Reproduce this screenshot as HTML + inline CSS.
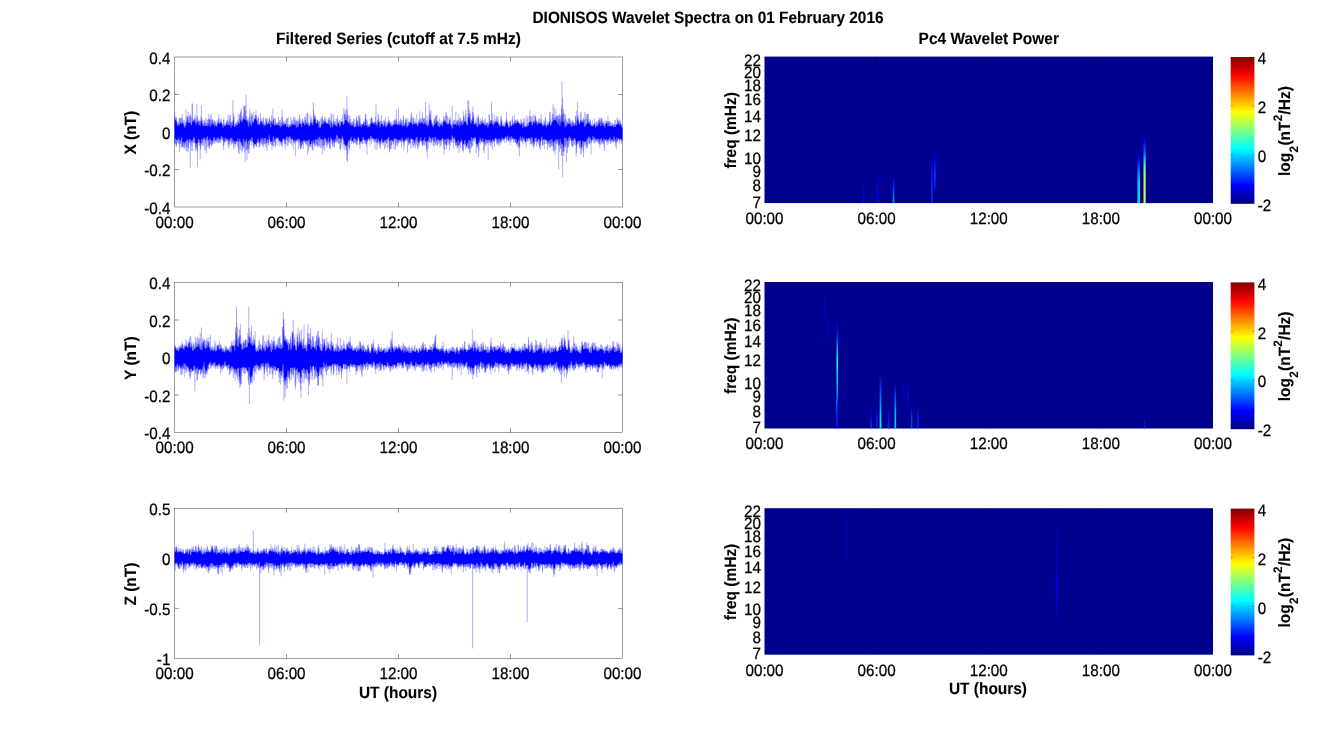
<!DOCTYPE html>
<html><head><meta charset="utf-8"><title>DIONISOS Wavelet Spectra</title>
<style>html,body{margin:0;padding:0;background:#fff}svg{display:block}text{font-family:"Liberation Sans", Arial, Helvetica, sans-serif;fill:#000;stroke:#000;stroke-width:0.25px;text-rendering:geometricPrecision}text[font-weight=bold]{stroke-width:0.1px}</style>
</head><body>
<svg width="1339" height="754" viewBox="0 0 1339 754">
<defs><linearGradient id="jet" x1="0" y1="0" x2="0" y2="1"><stop offset="0.0000" stop-color="#800000"/><stop offset="0.0156" stop-color="#8f0000"/><stop offset="0.0312" stop-color="#9f0000"/><stop offset="0.0469" stop-color="#af0000"/><stop offset="0.0625" stop-color="#bf0000"/><stop offset="0.0781" stop-color="#cf0000"/><stop offset="0.0938" stop-color="#df0000"/><stop offset="0.1094" stop-color="#ef0000"/><stop offset="0.1250" stop-color="#ff0000"/><stop offset="0.1406" stop-color="#ff1000"/><stop offset="0.1562" stop-color="#ff2000"/><stop offset="0.1719" stop-color="#ff3000"/><stop offset="0.1875" stop-color="#ff4000"/><stop offset="0.2031" stop-color="#ff5000"/><stop offset="0.2188" stop-color="#ff6000"/><stop offset="0.2344" stop-color="#ff7000"/><stop offset="0.2500" stop-color="#ff8000"/><stop offset="0.2656" stop-color="#ff8f00"/><stop offset="0.2812" stop-color="#ff9f00"/><stop offset="0.2969" stop-color="#ffaf00"/><stop offset="0.3125" stop-color="#ffbf00"/><stop offset="0.3281" stop-color="#ffcf00"/><stop offset="0.3438" stop-color="#ffdf00"/><stop offset="0.3594" stop-color="#ffef00"/><stop offset="0.3750" stop-color="#ffff00"/><stop offset="0.3906" stop-color="#efff10"/><stop offset="0.4062" stop-color="#dfff20"/><stop offset="0.4219" stop-color="#cfff30"/><stop offset="0.4375" stop-color="#bfff40"/><stop offset="0.4531" stop-color="#afff50"/><stop offset="0.4688" stop-color="#9fff60"/><stop offset="0.4844" stop-color="#8fff70"/><stop offset="0.5000" stop-color="#80ff80"/><stop offset="0.5156" stop-color="#70ff8f"/><stop offset="0.5312" stop-color="#60ff9f"/><stop offset="0.5469" stop-color="#50ffaf"/><stop offset="0.5625" stop-color="#40ffbf"/><stop offset="0.5781" stop-color="#30ffcf"/><stop offset="0.5938" stop-color="#20ffdf"/><stop offset="0.6094" stop-color="#10ffef"/><stop offset="0.6250" stop-color="#00ffff"/><stop offset="0.6406" stop-color="#00efff"/><stop offset="0.6562" stop-color="#00dfff"/><stop offset="0.6719" stop-color="#00cfff"/><stop offset="0.6875" stop-color="#00bfff"/><stop offset="0.7031" stop-color="#00afff"/><stop offset="0.7188" stop-color="#009fff"/><stop offset="0.7344" stop-color="#008fff"/><stop offset="0.7500" stop-color="#0080ff"/><stop offset="0.7656" stop-color="#0070ff"/><stop offset="0.7812" stop-color="#0060ff"/><stop offset="0.7969" stop-color="#0050ff"/><stop offset="0.8125" stop-color="#0040ff"/><stop offset="0.8281" stop-color="#0030ff"/><stop offset="0.8438" stop-color="#0020ff"/><stop offset="0.8594" stop-color="#0010ff"/><stop offset="0.8750" stop-color="#0000ff"/><stop offset="0.8906" stop-color="#0000ef"/><stop offset="0.9062" stop-color="#0000df"/><stop offset="0.9219" stop-color="#0000cf"/><stop offset="0.9375" stop-color="#0000bf"/><stop offset="0.9531" stop-color="#0000af"/><stop offset="0.9688" stop-color="#00009f"/><stop offset="0.9844" stop-color="#00008f"/><stop offset="1.0000" stop-color="#000080"/></linearGradient><filter id="b" x="-300%" y="-5%" width="700%" height="110%"><feGaussianBlur stdDeviation="0.55 0.8"/></filter><linearGradient id="g1" x1="0" y1="0" x2="0" y2="1"><stop offset="0.000" stop-color="#000080" stop-opacity="0"/><stop offset="0.250" stop-color="#0008ff"/><stop offset="0.450" stop-color="#0080ff"/><stop offset="0.600" stop-color="#00c3ff"/><stop offset="1.000" stop-color="#00e6ff"/></linearGradient><linearGradient id="g2" x1="0" y1="0" x2="0" y2="1"><stop offset="0.000" stop-color="#000080" stop-opacity="0"/><stop offset="0.100" stop-color="#0000e6"/><stop offset="0.250" stop-color="#004cff"/><stop offset="0.380" stop-color="#00d4ff"/><stop offset="0.500" stop-color="#6eff90"/><stop offset="0.600" stop-color="#b2ff4d"/><stop offset="1.000" stop-color="#c3ff3c"/></linearGradient><linearGradient id="g3" x1="0" y1="0" x2="0" y2="1"><stop offset="0.000" stop-color="#000080" stop-opacity="0"/><stop offset="0.300" stop-color="#0000f6"/><stop offset="0.700" stop-color="#002aff"/><stop offset="1.000" stop-color="#0019ff"/></linearGradient><linearGradient id="g4" x1="0" y1="0" x2="0" y2="1"><stop offset="0.000" stop-color="#000080" stop-opacity="0"/><stop offset="0.300" stop-color="#0000f6"/><stop offset="0.600" stop-color="#003cff"/><stop offset="0.850" stop-color="#0019ff"/><stop offset="1.000" stop-color="#000080" stop-opacity="0"/></linearGradient><linearGradient id="g5" x1="0" y1="0" x2="0" y2="1"><stop offset="0.000" stop-color="#000080" stop-opacity="0"/><stop offset="0.500" stop-color="#0000b3"/><stop offset="1.000" stop-color="#000080" stop-opacity="0"/></linearGradient><linearGradient id="g6" x1="0" y1="0" x2="0" y2="1"><stop offset="0.000" stop-color="#000080" stop-opacity="0"/><stop offset="0.400" stop-color="#0019ff"/><stop offset="0.800" stop-color="#0080ff"/><stop offset="1.000" stop-color="#0090ff"/></linearGradient><linearGradient id="g7" x1="0" y1="0" x2="0" y2="1"><stop offset="0.000" stop-color="#000080" stop-opacity="0"/><stop offset="0.500" stop-color="#0000f6"/><stop offset="1.000" stop-color="#0008ff"/></linearGradient><linearGradient id="g8" x1="0" y1="0" x2="0" y2="1"><stop offset="0.000" stop-color="#000080" stop-opacity="0"/><stop offset="0.500" stop-color="#0000bb"/><stop offset="1.000" stop-color="#000080" stop-opacity="0"/></linearGradient><linearGradient id="g9" x1="0" y1="0" x2="0" y2="1"><stop offset="0.000" stop-color="#000080" stop-opacity="0"/><stop offset="0.500" stop-color="#0000d4"/><stop offset="1.000" stop-color="#0000f6"/></linearGradient><linearGradient id="g10" x1="0" y1="0" x2="0" y2="1"><stop offset="0.000" stop-color="#000080" stop-opacity="0"/><stop offset="1.000" stop-color="#0000d4"/></linearGradient><linearGradient id="g11" x1="0" y1="0" x2="0" y2="1"><stop offset="0.000" stop-color="#000080" stop-opacity="0"/><stop offset="1.000" stop-color="#0000aa"/></linearGradient><linearGradient id="g12" x1="0" y1="0" x2="0" y2="1"><stop offset="0.000" stop-color="#000080" stop-opacity="0"/><stop offset="0.500" stop-color="#0000aa"/><stop offset="1.000" stop-color="#000080" stop-opacity="0"/></linearGradient><linearGradient id="g13" x1="0" y1="0" x2="0" y2="1"><stop offset="0.000" stop-color="#000080" stop-opacity="0"/><stop offset="0.500" stop-color="#0000a2"/><stop offset="1.000" stop-color="#000080" stop-opacity="0"/></linearGradient><clipPath id="clip0"><rect x="764.5" y="56.6" width="448.5" height="146.5"/></clipPath><linearGradient id="g14" x1="0" y1="0" x2="0" y2="1"><stop offset="0.000" stop-color="#000080" stop-opacity="0"/><stop offset="0.250" stop-color="#002aff"/><stop offset="0.450" stop-color="#00d4ff"/><stop offset="0.560" stop-color="#19ffe6"/><stop offset="0.700" stop-color="#00d4ff"/><stop offset="1.000" stop-color="#006eff"/></linearGradient><linearGradient id="g15" x1="0" y1="0" x2="0" y2="1"><stop offset="0.000" stop-color="#006eff"/><stop offset="0.500" stop-color="#002aff"/><stop offset="1.000" stop-color="#0008ff"/></linearGradient><linearGradient id="g16" x1="0" y1="0" x2="0" y2="1"><stop offset="0.000" stop-color="#000080" stop-opacity="0"/><stop offset="0.300" stop-color="#0000c3"/><stop offset="1.000" stop-color="#0000bb"/></linearGradient><linearGradient id="g17" x1="0" y1="0" x2="0" y2="1"><stop offset="0.000" stop-color="#0000bb"/><stop offset="0.600" stop-color="#0000b3"/><stop offset="1.000" stop-color="#000080" stop-opacity="0"/></linearGradient><linearGradient id="g18" x1="0" y1="0" x2="0" y2="1"><stop offset="0.000" stop-color="#000080" stop-opacity="0"/><stop offset="0.500" stop-color="#0000a2"/><stop offset="1.000" stop-color="#000080" stop-opacity="0"/></linearGradient><linearGradient id="g19" x1="0" y1="0" x2="0" y2="1"><stop offset="0.000" stop-color="#000080" stop-opacity="0"/><stop offset="0.500" stop-color="#0000aa"/><stop offset="1.000" stop-color="#000080" stop-opacity="0"/></linearGradient><linearGradient id="g20" x1="0" y1="0" x2="0" y2="1"><stop offset="0.000" stop-color="#000080" stop-opacity="0"/><stop offset="0.500" stop-color="#0000aa"/><stop offset="1.000" stop-color="#000080" stop-opacity="0"/></linearGradient><linearGradient id="g21" x1="0" y1="0" x2="0" y2="1"><stop offset="0.000" stop-color="#000080" stop-opacity="0"/><stop offset="0.500" stop-color="#0008ff"/><stop offset="1.000" stop-color="#003cff"/></linearGradient><linearGradient id="g22" x1="0" y1="0" x2="0" y2="1"><stop offset="0.000" stop-color="#000080" stop-opacity="0"/><stop offset="0.500" stop-color="#0008ff"/><stop offset="1.000" stop-color="#003cff"/></linearGradient><linearGradient id="g23" x1="0" y1="0" x2="0" y2="1"><stop offset="0.000" stop-color="#000080" stop-opacity="0"/><stop offset="0.300" stop-color="#002aff"/><stop offset="0.600" stop-color="#0090ff"/><stop offset="0.850" stop-color="#00e6ff"/><stop offset="1.000" stop-color="#00f7ff"/></linearGradient><linearGradient id="g24" x1="0" y1="0" x2="0" y2="1"><stop offset="0.000" stop-color="#000080" stop-opacity="0"/><stop offset="0.500" stop-color="#0008ff"/><stop offset="1.000" stop-color="#002aff"/></linearGradient><linearGradient id="g25" x1="0" y1="0" x2="0" y2="1"><stop offset="0.000" stop-color="#000080" stop-opacity="0"/><stop offset="0.350" stop-color="#003cff"/><stop offset="0.700" stop-color="#00b2ff"/><stop offset="1.000" stop-color="#00d4ff"/></linearGradient><linearGradient id="g26" x1="0" y1="0" x2="0" y2="1"><stop offset="0.000" stop-color="#000080" stop-opacity="0"/><stop offset="0.500" stop-color="#0000dd"/><stop offset="1.000" stop-color="#000080" stop-opacity="0"/></linearGradient><linearGradient id="g27" x1="0" y1="0" x2="0" y2="1"><stop offset="0.000" stop-color="#000080" stop-opacity="0"/><stop offset="0.500" stop-color="#0000ff"/><stop offset="1.000" stop-color="#000080" stop-opacity="0"/></linearGradient><linearGradient id="g28" x1="0" y1="0" x2="0" y2="1"><stop offset="0.000" stop-color="#000080" stop-opacity="0"/><stop offset="0.500" stop-color="#002aff"/><stop offset="1.000" stop-color="#004cff"/></linearGradient><linearGradient id="g29" x1="0" y1="0" x2="0" y2="1"><stop offset="0.000" stop-color="#000080" stop-opacity="0"/><stop offset="0.500" stop-color="#0019ff"/><stop offset="1.000" stop-color="#002aff"/></linearGradient><linearGradient id="g30" x1="0" y1="0" x2="0" y2="1"><stop offset="0.000" stop-color="#000080" stop-opacity="0"/><stop offset="1.000" stop-color="#002aff"/></linearGradient><linearGradient id="g31" x1="0" y1="0" x2="0" y2="1"><stop offset="0.000" stop-color="#000080" stop-opacity="0"/><stop offset="0.500" stop-color="#0000a2"/><stop offset="1.000" stop-color="#000080" stop-opacity="0"/></linearGradient><clipPath id="clip1"><rect x="764.5" y="282.0" width="448.5" height="146.5"/></clipPath><linearGradient id="g32" x1="0" y1="0" x2="0" y2="1"><stop offset="0.000" stop-color="#0000aa"/><stop offset="0.500" stop-color="#0000b3"/><stop offset="1.000" stop-color="#000080" stop-opacity="0"/></linearGradient><linearGradient id="g33" x1="0" y1="0" x2="0" y2="1"><stop offset="0.000" stop-color="#000099"/><stop offset="0.400" stop-color="#0000c3"/><stop offset="0.650" stop-color="#0000ff"/><stop offset="0.850" stop-color="#0000d4"/><stop offset="1.000" stop-color="#000080" stop-opacity="0"/></linearGradient><clipPath id="clip2"><rect x="764.5" y="508.2" width="448.5" height="146.5"/></clipPath></defs>
<rect width="1339" height="754" fill="#fff"/>
<text transform="translate(708.00 22.70) scale(0.939 1)" text-anchor="middle" font-size="16.4" font-weight="bold">DIONISOS Wavelet Spectra on 01 February 2016</text>
<rect x="174.55" y="57.0" width="447.90000000000003" height="150.0" fill="none" stroke="#000" stroke-width="0.38"/>
<path d="M286.53 207.0v-4.3M286.53 57.0v4.3M398.50 207.0v-4.3M398.50 57.0v4.3M510.48 207.0v-4.3M510.48 57.0v4.3M174.55 94.50h4.3M622.45 94.50h-4.3M174.55 132.00h4.3M622.45 132.00h-4.3M174.55 169.50h4.3M622.45 169.50h-4.3" fill="none" stroke="#000" stroke-width="0.42"/>
<path d="M174.9 119.2L174.7 119.2L175.0 119.8L175.3 119.8L175.6 121.0L175.9 121.0L176.2 121.0L176.5 123.7L176.8 123.7L177.1 126.2L177.4 126.2L177.7 126.2L178.0 126.2L178.3 126.2L178.6 124.6L178.9 124.9L179.2 124.9L179.5 124.9L179.8 124.9L180.1 124.9L180.4 122.4L180.7 122.4L181.0 123.8L181.3 123.8L181.6 123.8L181.9 123.8L182.2 123.8L182.5 123.3L182.8 123.3L183.1 123.8L183.4 124.3L183.7 126.7L184.0 126.7L184.3 127.7L184.6 127.7L184.9 127.7L185.2 127.7L185.5 127.7L185.8 125.5L186.1 125.5L186.4 125.5L186.7 122.4L187.0 122.4L187.3 122.4L187.6 122.4L187.9 119.4L188.2 123.2L188.5 123.2L188.8 123.2L189.1 123.2L189.4 123.2L189.7 123.1L190.0 122.6L190.3 122.6L190.6 124.3L190.9 125.2L191.2 125.2L191.5 125.2L191.8 125.2L192.1 125.2L192.4 121.7L192.7 121.7L193.0 121.7L193.3 121.7L193.6 121.7L193.9 120.2L194.2 121.8L194.5 121.8L194.8 121.8L195.1 121.8L195.4 124.7L195.7 124.7L196.0 124.7L196.3 124.7L196.6 124.7L196.9 122.5L197.2 122.5L197.5 122.5L197.8 122.5L198.1 121.9L198.4 124.9L198.7 124.9L199.0 124.9L199.3 124.9L199.6 125.7L199.9 125.7L200.2 125.7L200.5 125.7L200.8 125.7L201.1 121.6L201.4 121.6L201.7 121.6L202.0 124.0L202.3 124.0L202.6 126.2L202.9 126.2L203.2 126.2L203.5 126.2L203.8 126.2L204.1 125.7L204.4 125.7L204.7 125.7L205.0 125.7L205.3 125.7L205.6 126.1L205.9 126.1L206.2 126.1L206.5 126.1L206.8 126.1L207.1 125.8L207.4 126.3L207.7 126.3L208.0 126.3L208.3 126.3L208.6 126.3L208.9 123.2L209.2 123.2L209.5 126.9L209.8 126.9L210.1 126.9L210.4 126.9L210.7 126.9L211.0 124.2L211.3 124.8L211.6 124.8L211.9 124.8L212.2 124.8L212.5 124.8L212.8 123.9L213.1 123.9L213.4 123.9L213.7 125.9L214.0 125.9L214.3 125.9L214.6 125.9L214.9 125.9L215.2 125.7L215.5 125.7L215.8 125.7L216.1 126.7L216.4 126.7L216.7 126.7L217.0 126.7L217.3 126.7L217.6 124.5L217.9 124.5L218.2 124.5L218.5 123.1L218.8 122.9L219.1 123.9L219.4 123.9L219.7 123.9L220.0 123.9L220.3 123.9L220.6 122.7L220.9 123.0L221.2 123.0L221.5 123.0L221.8 124.7L222.1 124.7L222.4 127.8L222.7 127.8L223.0 127.8L223.3 127.8L223.6 127.8L223.9 125.6L224.2 125.6L224.5 125.6L224.8 126.3L225.1 126.3L225.4 126.3L225.7 126.3L226.0 126.3L226.3 124.2L226.6 124.3L226.9 124.3L227.2 124.8L227.5 124.8L227.8 125.0L228.1 125.0L228.4 125.0L228.7 125.3L229.0 125.3L229.3 125.3L229.6 125.3L229.9 125.3L230.2 123.8L230.5 127.7L230.8 127.7L231.1 127.7L231.4 127.7L231.7 127.7L232.0 125.5L232.3 125.5L232.6 125.5L232.9 125.5L233.2 122.6L233.5 120.2L233.8 126.8L234.1 126.8L234.4 127.0L234.7 127.0L235.0 127.0L235.3 127.0L235.6 127.0L235.9 125.1L236.2 125.1L236.5 125.8L236.8 125.8L237.1 125.8L237.4 125.8L237.7 125.8L238.0 123.8L238.3 122.4L238.6 124.1L238.9 124.1L239.2 124.1L239.5 124.1L239.8 124.1L240.1 120.7L240.4 120.7L240.7 120.7L241.0 120.7L241.3 122.4L241.6 122.4L241.9 122.4L242.2 122.4L242.5 122.4L242.8 120.4L243.1 120.0L243.4 119.1L243.7 119.1L244.0 118.3L244.3 119.7L244.6 119.7L244.9 119.7L245.2 119.7L245.5 119.7L245.8 120.3L246.1 120.3L246.4 121.4L246.7 121.4L247.0 121.4L247.3 122.6L247.6 122.6L247.9 126.4L248.2 126.4L248.5 126.4L248.8 126.4L249.1 126.4L249.4 123.8L249.7 123.8L250.0 123.8L250.3 123.8L250.6 123.8L250.9 125.7L251.2 125.7L251.5 125.7L251.8 125.7L252.1 125.7L252.4 122.5L252.7 122.8L253.0 122.8L253.3 122.8L253.6 122.8L253.9 122.8L254.2 121.2L254.5 119.6L254.8 119.6L255.1 119.6L255.4 119.6L255.7 118.3L256.0 120.1L256.3 120.1L256.6 121.6L256.9 121.6L257.2 124.1L257.5 124.5L257.8 124.5L258.1 124.5L258.4 124.5L258.7 124.9L259.0 124.9L259.3 124.9L259.6 124.9L259.9 124.9L260.2 124.6L260.5 122.5L260.8 121.6L261.1 121.6L261.4 122.1L261.7 124.4L262.0 124.4L262.3 124.4L262.6 124.4L262.9 124.4L263.2 124.1L263.5 126.4L263.8 126.4L264.1 126.4L264.4 126.4L264.7 126.4L265.0 125.5L265.3 125.5L265.6 125.5L265.9 125.5L266.2 125.5L266.5 121.5L266.8 124.5L267.1 124.6L267.4 124.6L267.7 124.6L268.0 124.6L268.3 124.6L268.6 123.0L268.9 123.9L269.2 123.9L269.5 123.9L269.8 123.9L270.1 126.9L270.4 126.9L270.7 126.9L271.0 126.9L271.3 126.9L271.6 121.8L271.9 124.1L272.2 124.1L272.5 124.1L272.8 124.1L273.1 124.1L273.4 120.2L273.7 125.8L274.0 125.8L274.3 125.8L274.6 125.8L274.9 125.8L275.2 125.3L275.5 125.3L275.8 125.3L276.1 125.0L276.4 125.0L276.7 125.0L277.0 125.1L277.3 125.1L277.6 125.1L277.9 125.1L278.2 125.6L278.5 125.6L278.8 125.6L279.1 125.6L279.4 125.6L279.7 127.2L280.0 127.2L280.3 127.2L280.6 127.2L280.9 127.2L281.2 125.9L281.5 125.9L281.8 125.9L282.1 125.9L282.4 124.2L282.7 124.2L283.0 124.2L283.3 125.6L283.6 125.6L283.9 125.6L284.2 125.6L284.5 125.6L284.8 124.0L285.1 124.0L285.4 123.9L285.7 123.9L286.0 127.0L286.3 127.0L286.6 127.0L286.9 127.0L287.2 127.0L287.5 126.2L287.8 126.9L288.1 126.9L288.4 127.8L288.7 127.8L289.0 127.8L289.3 127.8L289.6 127.8L289.9 127.1L290.2 125.9L290.5 126.3L290.8 126.3L291.1 126.3L291.4 126.3L291.7 126.3L292.0 124.1L292.3 124.6L292.6 124.6L292.9 124.6L293.2 124.6L293.5 125.0L293.8 125.0L294.1 125.0L294.4 125.0L294.7 125.2L295.0 125.2L295.3 125.2L295.6 125.2L295.9 127.4L296.2 127.4L296.5 127.4L296.8 127.4L297.1 127.4L297.4 127.4L297.7 127.4L298.0 127.4L298.3 127.4L298.6 125.4L298.9 125.4L299.2 123.9L299.5 123.9L299.8 124.0L300.1 124.0L300.4 124.0L300.7 124.0L301.0 126.9L301.3 126.9L301.6 126.9L301.9 126.9L302.2 126.9L302.5 124.0L302.8 123.1L303.1 123.1L303.4 123.2L303.7 124.6L304.0 124.6L304.3 125.5L304.6 125.5L304.9 125.5L305.2 125.5L305.5 125.5L305.8 122.9L306.1 122.9L306.4 124.1L306.7 124.5L307.0 124.5L307.3 124.5L307.6 124.5L307.9 124.5L308.2 125.9L308.5 125.9L308.8 125.9L309.1 125.9L309.4 125.9L309.7 125.9L310.0 125.9L310.3 125.9L310.6 123.6L310.9 122.5L311.2 122.5L311.5 124.3L311.8 124.3L312.1 124.9L312.4 124.9L312.7 124.9L313.0 124.9L313.3 124.9L313.6 121.8L313.9 119.4L314.2 119.4L314.5 119.4L314.8 119.1L315.1 119.1L315.4 122.6L315.7 123.8L316.0 123.8L316.3 123.8L316.6 123.8L316.9 123.8L317.2 123.2L317.5 121.7L317.8 121.7L318.1 123.5L318.4 127.3L318.7 127.3L319.0 127.3L319.3 128.3L319.6 128.3L319.9 128.3L320.2 128.3L320.5 128.3L320.8 127.3L321.1 127.3L321.4 126.2L321.7 125.1L322.0 123.5L322.3 123.5L322.6 124.2L322.9 124.2L323.2 124.2L323.5 124.2L323.8 124.2L324.1 122.6L324.4 122.6L324.7 121.9L325.0 121.9L325.3 121.9L325.6 123.1L325.9 123.1L326.2 123.2L326.5 123.9L326.8 123.9L327.1 123.9L327.4 123.9L327.7 123.9L328.0 123.4L328.3 123.4L328.6 124.6L328.9 124.6L329.2 124.6L329.5 124.6L329.8 127.4L330.1 127.4L330.4 127.4L330.7 127.4L331.0 127.4L331.3 122.2L331.6 123.4L331.9 127.6L332.2 127.6L332.5 127.6L332.8 127.6L333.1 127.6L333.4 124.9L333.7 123.7L334.0 124.0L334.3 124.0L334.6 125.5L334.9 125.5L335.2 125.5L335.5 125.5L335.8 126.2L336.1 126.2L336.4 126.2L336.7 126.2L337.0 126.2L337.3 126.2L337.6 123.9L337.9 123.9L338.2 123.6L338.5 123.6L338.8 123.6L339.1 126.7L339.4 126.7L339.7 126.7L340.0 126.7L340.3 126.7L340.6 125.1L340.9 125.1L341.2 125.1L341.5 122.0L341.8 122.1L342.1 122.1L342.4 122.1L342.7 125.1L343.0 125.1L343.3 125.1L343.6 125.1L343.9 125.1L344.2 124.0L344.5 122.9L344.8 122.9L345.1 120.1L345.4 120.1L345.7 120.1L346.0 120.9L346.3 120.9L346.6 120.9L346.9 120.9L347.2 121.3L347.5 123.5L347.8 123.5L348.1 123.5L348.4 123.5L348.7 123.5L349.0 122.5L349.3 122.5L349.6 125.6L349.9 125.6L350.2 125.6L350.5 125.6L350.8 125.6L351.1 125.4L351.4 125.4L351.7 126.2L352.0 126.2L352.3 126.2L352.6 126.2L352.9 126.2L353.2 124.8L353.5 124.8L353.8 127.5L354.1 127.5L354.4 127.5L354.7 127.5L355.0 127.5L355.3 126.9L355.6 126.8L355.9 126.8L356.2 126.8L356.5 125.7L356.8 121.9L357.1 121.9L357.4 125.1L357.7 126.8L358.0 126.8L358.3 126.8L358.6 126.8L358.9 126.8L359.2 126.3L359.5 126.3L359.8 122.8L360.1 125.3L360.4 127.2L360.7 127.2L361.0 127.2L361.3 127.2L361.6 127.2L361.9 124.9L362.2 124.9L362.5 124.7L362.8 124.6L363.1 124.6L363.4 124.6L363.7 124.4L364.0 126.1L364.3 126.1L364.6 126.1L364.9 126.1L365.2 126.1L365.5 120.2L365.8 125.3L366.1 125.4L366.4 125.4L366.7 125.4L367.0 125.4L367.3 127.3L367.6 127.3L367.9 127.3L368.2 127.3L368.5 127.3L368.8 126.9L369.1 126.9L369.4 126.9L369.7 126.9L370.0 126.9L370.3 124.6L370.6 124.6L370.9 123.8L371.2 123.8L371.5 122.5L371.8 121.9L372.1 122.1L372.4 123.9L372.7 123.9L373.0 123.9L373.3 123.9L373.6 123.9L373.9 123.1L374.2 124.7L374.5 124.7L374.8 124.7L375.1 124.7L375.4 124.7L375.7 122.6L376.0 124.0L376.3 124.6L376.6 126.3L376.9 126.3L377.2 126.3L377.5 126.3L377.8 126.3L378.1 122.2L378.4 122.2L378.7 122.3L379.0 122.3L379.3 127.2L379.6 127.2L379.9 127.2L380.2 127.2L380.5 127.2L380.8 125.9L381.1 124.0L381.4 124.0L381.7 124.0L382.0 124.2L382.3 124.2L382.6 125.8L382.9 126.4L383.2 126.4L383.5 126.4L383.8 126.4L384.1 126.4L384.4 124.3L384.7 124.3L385.0 125.2L385.3 126.9L385.6 126.9L385.9 126.9L386.2 126.9L386.5 126.9L386.8 126.5L387.1 126.2L387.4 126.2L387.7 124.8L388.0 124.8L388.3 124.8L388.6 122.7L388.9 122.7L389.2 122.7L389.5 122.9L389.8 124.2L390.1 124.2L390.4 126.4L390.7 126.4L391.0 126.4L391.3 126.4L391.6 126.4L391.9 126.4L392.2 126.4L392.5 126.4L392.8 126.4L393.1 125.5L393.4 125.5L393.7 124.8L394.0 124.7L394.3 124.4L394.6 124.4L394.9 124.4L395.2 124.4L395.5 124.4L395.8 123.7L396.1 123.7L396.4 124.2L396.7 124.9L397.0 124.9L397.3 124.9L397.6 124.9L397.9 124.9L398.2 124.8L398.5 125.4L398.8 125.4L399.1 125.4L399.4 125.4L399.7 125.4L400.0 124.0L400.3 124.0L400.6 125.0L400.9 125.0L401.2 125.0L401.5 125.0L401.8 125.1L402.1 126.5L402.4 126.5L402.7 126.5L403.0 126.5L403.3 126.5L403.6 125.0L403.9 126.3L404.2 126.3L404.5 126.3L404.8 126.3L405.1 126.3L405.4 123.4L405.7 123.4L406.0 122.8L406.3 127.5L406.6 127.5L406.9 127.5L407.2 127.5L407.5 127.5L407.8 126.5L408.1 125.8L408.4 125.8L408.7 125.8L409.0 125.8L409.3 123.7L409.6 123.7L409.9 123.7L410.2 122.8L410.5 122.8L410.8 122.8L411.1 123.1L411.4 123.1L411.7 123.1L412.0 125.0L412.3 125.0L412.6 125.0L412.9 125.0L413.2 125.0L413.5 123.9L413.8 123.9L414.1 123.9L414.4 123.9L414.7 123.3L415.0 123.8L415.3 123.8L415.6 124.8L415.9 124.8L416.2 124.8L416.5 124.8L416.8 124.8L417.1 126.5L417.4 126.5L417.7 126.5L418.0 126.5L418.3 126.5L418.6 123.8L418.9 123.8L419.2 123.8L419.5 123.8L419.8 123.5L420.1 123.5L420.4 123.5L420.7 123.5L421.0 123.5L421.3 122.7L421.6 122.7L421.9 122.7L422.2 123.5L422.5 123.5L422.8 123.5L423.1 124.4L423.4 124.4L423.7 124.4L424.0 124.4L424.3 124.4L424.6 122.4L424.9 122.4L425.2 124.2L425.5 124.5L425.8 124.5L426.1 124.5L426.4 124.5L426.7 125.6L427.0 126.3L427.3 126.3L427.6 126.3L427.9 126.3L428.2 126.3L428.5 125.4L428.8 125.4L429.1 125.4L429.4 122.6L429.7 119.4L430.0 119.4L430.3 119.4L430.6 120.6L430.9 120.7L431.2 123.6L431.5 123.6L431.8 124.9L432.1 124.9L432.4 127.1L432.7 127.1L433.0 127.1L433.3 127.1L433.6 127.1L433.9 125.5L434.2 125.5L434.5 125.0L434.8 124.2L435.1 124.2L435.4 124.2L435.7 124.2L436.0 122.2L436.3 122.2L436.6 122.2L436.9 122.2L437.2 122.7L437.5 125.9L437.8 125.9L438.1 125.9L438.4 125.9L438.7 125.9L439.0 127.2L439.3 127.2L439.6 127.2L439.9 127.2L440.2 127.2L440.5 125.0L440.8 125.0L441.1 125.0L441.4 125.0L441.7 126.2L442.0 126.2L442.3 126.2L442.6 126.2L442.9 126.2L443.2 123.5L443.5 121.7L443.8 121.7L444.1 121.7L444.4 121.7L444.7 121.7L445.0 121.5L445.3 121.5L445.6 121.5L445.9 123.7L446.2 123.7L446.5 123.7L446.8 123.7L447.1 124.4L447.4 124.4L447.7 124.5L448.0 124.5L448.3 124.5L448.6 124.5L448.9 124.5L449.2 123.6L449.5 121.9L449.8 124.2L450.1 124.2L450.4 124.9L450.7 125.6L451.0 125.6L451.3 126.6L451.6 126.6L451.9 128.4L452.2 128.4L452.5 128.4L452.8 128.4L453.1 128.4L453.4 124.2L453.7 124.2L454.0 124.7L454.3 124.7L454.6 124.7L454.9 124.7L455.2 124.7L455.5 124.5L455.8 124.5L456.1 125.5L456.4 125.5L456.7 125.5L457.0 125.5L457.3 125.5L457.6 122.6L457.9 124.6L458.2 124.6L458.5 126.5L458.8 126.5L459.1 126.5L459.4 126.5L459.7 126.5L460.0 121.6L460.3 125.6L460.6 125.6L460.9 125.6L461.2 125.6L461.5 125.6L461.8 122.0L462.1 125.1L462.4 125.1L462.7 125.1L463.0 125.1L463.3 125.1L463.6 123.2L463.9 122.2L464.2 122.2L464.5 122.2L464.8 122.2L465.1 121.5L465.4 121.1L465.7 122.2L466.0 123.3L466.3 125.1L466.6 125.1L466.9 125.3L467.2 125.3L467.5 125.3L467.8 125.3L468.1 125.3L468.4 117.0L468.7 117.5L469.0 117.5L469.3 117.5L469.6 117.5L469.9 122.0L470.2 122.0L470.5 124.0L470.8 124.0L471.1 124.0L471.4 124.0L471.7 124.0L472.0 121.5L472.3 121.5L472.6 121.5L472.9 117.5L473.2 117.5L473.5 124.5L473.8 124.5L474.1 124.5L474.4 124.5L474.7 124.5L475.0 124.0L475.3 124.2L475.6 124.2L475.9 124.2L476.2 125.9L476.5 125.9L476.8 125.9L477.1 126.9L477.4 126.9L477.7 126.9L478.0 126.9L478.3 126.9L478.6 123.9L478.9 124.2L479.2 124.2L479.5 125.6L479.8 125.6L480.1 125.6L480.4 125.6L480.7 125.6L481.0 123.4L481.3 124.0L481.6 124.0L481.9 124.0L482.2 124.0L482.5 124.0L482.8 123.1L483.1 123.5L483.4 123.5L483.7 125.0L484.0 125.0L484.3 125.0L484.6 125.0L484.9 125.0L485.2 125.7L485.5 125.7L485.8 125.7L486.1 125.7L486.4 125.7L486.7 124.5L487.0 124.5L487.3 127.5L487.6 127.5L487.9 127.5L488.2 127.5L488.5 127.5L488.8 125.3L489.1 125.3L489.4 124.1L489.7 124.1L490.0 124.1L490.3 124.1L490.6 123.1L490.9 121.1L491.2 121.1L491.5 122.2L491.8 124.0L492.1 124.0L492.4 124.0L492.7 125.4L493.0 125.4L493.3 125.4L493.6 125.4L493.9 125.4L494.2 124.4L494.5 124.4L494.8 123.5L495.1 123.5L495.4 122.3L495.7 122.3L496.0 122.3L496.3 122.2L496.6 122.6L496.9 122.6L497.2 122.6L497.5 122.6L497.8 124.6L498.1 124.6L498.4 124.6L498.7 124.6L499.0 126.1L499.3 126.1L499.6 126.4L499.9 126.4L500.2 126.4L500.5 126.4L500.8 126.4L501.1 123.3L501.4 120.9L501.7 126.6L502.0 126.6L502.3 126.6L502.6 126.6L502.9 126.6L503.2 126.5L503.5 126.5L503.8 126.8L504.1 126.8L504.4 126.8L504.7 126.8L505.0 126.8L505.3 126.2L505.6 125.2L505.9 123.3L506.2 123.3L506.5 122.2L506.8 122.8L507.1 122.8L507.4 124.9L507.7 124.9L508.0 127.3L508.3 127.3L508.6 127.5L508.9 127.5L509.2 127.5L509.5 127.5L509.8 127.5L510.1 126.1L510.4 126.1L510.7 126.3L511.0 126.3L511.3 126.3L511.6 126.3L511.9 126.3L512.2 125.4L512.5 125.4L512.8 124.9L513.1 124.9L513.4 124.9L513.7 124.9L514.0 124.9L514.3 123.6L514.6 123.6L514.9 123.6L515.2 123.6L515.5 123.6L515.8 123.6L516.1 123.6L516.4 123.6L516.7 123.6L517.0 123.4L517.3 121.6L517.6 122.3L517.9 122.3L518.2 123.0L518.5 123.1L518.8 123.4L519.1 123.6L519.4 123.6L519.7 125.3L520.0 125.3L520.3 125.3L520.6 125.3L520.9 125.3L521.2 124.2L521.5 123.6L521.8 123.6L522.1 128.0L522.4 128.0L522.7 128.0L523.0 128.0L523.3 128.0L523.6 124.5L523.9 126.3L524.2 126.8L524.5 126.8L524.8 127.3L525.1 127.5L525.4 127.5L525.7 127.5L526.0 127.5L526.3 127.5L526.6 126.6L526.9 126.6L527.2 126.6L527.5 126.6L527.8 126.6L528.1 125.7L528.4 125.7L528.7 125.7L529.0 125.7L529.3 122.7L529.6 122.7L529.9 122.1L530.2 122.1L530.5 122.1L530.8 122.1L531.1 121.8L531.4 125.3L531.7 125.3L532.0 125.3L532.3 125.3L532.6 125.3L532.9 125.3L533.2 122.7L533.5 122.7L533.8 121.8L534.1 123.6L534.4 123.6L534.7 123.6L535.0 123.6L535.3 123.6L535.6 119.7L535.9 122.6L536.2 122.6L536.5 122.6L536.8 124.9L537.1 124.9L537.4 124.9L537.7 124.9L538.0 124.9L538.3 123.4L538.6 123.4L538.9 123.6L539.2 123.6L539.5 123.6L539.8 123.6L540.1 123.6L540.4 123.5L540.7 123.5L541.0 123.8L541.3 123.8L541.6 123.8L541.9 125.5L542.2 125.5L542.5 126.6L542.8 126.6L543.1 126.6L543.4 126.6L543.7 126.6L544.0 124.9L544.3 125.5L544.6 125.5L544.9 125.5L545.2 125.5L545.5 125.5L545.8 127.6L546.1 127.6L546.4 127.6L546.7 127.6L547.0 127.6L547.3 125.1L547.6 125.4L547.9 125.4L548.2 125.4L548.5 125.4L548.8 125.4L549.1 123.9L549.4 122.0L549.7 122.0L550.0 124.5L550.3 126.0L550.6 126.0L550.9 126.0L551.2 126.0L551.5 126.0L551.8 124.1L552.1 122.8L552.4 121.9L552.7 121.9L553.0 121.9L553.3 121.9L553.6 120.0L553.9 120.1L554.2 120.1L554.5 120.1L554.8 120.4L555.1 120.4L555.4 120.4L555.7 120.4L556.0 120.4L556.3 121.3L556.6 121.3L556.9 121.3L557.2 122.8L557.5 124.8L557.8 124.8L558.1 124.8L558.4 124.8L558.7 124.8L559.0 118.8L559.3 126.6L559.6 126.6L559.9 126.6L560.2 126.6L560.5 126.6L560.8 122.7L561.1 122.7L561.4 122.7L561.7 122.7L562.0 114.2L562.3 121.7L562.6 121.7L562.9 121.7L563.2 121.7L563.5 121.7L563.8 122.4L564.1 122.4L564.4 125.5L564.7 127.6L565.0 127.6L565.3 127.6L565.6 127.6L565.9 127.6L566.2 126.0L566.5 126.0L566.8 126.0L567.1 126.0L567.4 124.1L567.7 124.1L568.0 124.1L568.3 124.1L568.6 124.1L568.9 123.7L569.2 123.9L569.5 124.1L569.8 124.1L570.1 124.1L570.4 125.0L570.7 125.0L571.0 126.7L571.3 126.7L571.6 126.7L571.9 126.7L572.2 126.7L572.5 125.7L572.8 125.7L573.1 125.7L573.4 125.7L573.7 124.3L574.0 126.0L574.3 126.0L574.6 126.0L574.9 126.0L575.2 126.0L575.5 123.8L575.8 125.6L576.1 125.6L576.4 125.6L576.7 125.6L577.0 125.6L577.3 120.6L577.6 120.6L577.9 119.4L578.2 121.8L578.5 124.2L578.8 124.2L579.1 124.2L579.4 124.2L579.7 124.2L580.0 124.0L580.3 124.0L580.6 121.4L580.9 120.8L581.2 122.6L581.5 122.6L581.8 122.6L582.1 122.6L582.4 122.6L582.7 122.3L583.0 122.3L583.3 122.3L583.6 122.3L583.9 126.8L584.2 126.8L584.5 126.8L584.8 126.8L585.1 126.8L585.4 125.9L585.7 125.9L586.0 125.9L586.3 124.5L586.6 124.1L586.9 124.1L587.2 124.1L587.5 123.4L587.8 122.7L588.1 122.7L588.4 122.7L588.7 122.7L589.0 124.3L589.3 124.3L589.6 124.3L589.9 124.3L590.2 124.3L590.5 126.1L590.8 126.1L591.1 126.1L591.4 126.1L591.7 126.1L592.0 126.0L592.3 126.3L592.6 126.3L592.9 126.3L593.2 126.3L593.5 126.3L593.8 126.0L594.1 124.5L594.4 124.8L594.7 124.8L595.0 127.2L595.3 127.2L595.6 127.2L595.9 127.2L596.2 127.2L596.5 127.1L596.8 125.5L597.1 125.4L597.4 126.0L597.7 126.0L598.0 126.0L598.3 126.0L598.6 126.0L598.9 123.5L599.2 123.5L599.5 123.5L599.8 123.5L600.1 126.1L600.4 126.1L600.7 126.1L601.0 126.1L601.3 126.1L601.6 123.3L601.9 123.3L602.2 123.3L602.5 125.9L602.8 125.9L603.1 125.9L603.4 125.9L603.7 125.9L604.0 124.8L604.3 127.8L604.6 127.8L604.9 127.8L605.2 127.8L605.5 127.8L605.8 123.6L606.1 123.6L606.4 123.6L606.7 123.8L607.0 123.8L607.3 123.8L607.6 126.6L607.9 126.6L608.2 126.6L608.5 126.6L608.8 126.6L609.1 126.1L609.4 126.1L609.7 126.1L610.0 126.1L610.3 126.5L610.6 126.5L610.9 126.5L611.2 126.5L611.5 126.5L611.8 126.4L612.1 126.1L612.4 126.1L612.7 126.1L613.0 127.3L613.3 127.3L613.6 127.3L613.9 127.3L614.2 127.3L614.5 126.2L614.8 127.0L615.1 127.0L615.4 127.0L615.7 127.0L616.0 127.0L616.3 125.1L616.6 125.1L616.9 125.1L617.2 125.1L617.5 125.1L617.8 123.6L618.1 123.6L618.4 123.7L618.7 123.7L619.0 123.7L619.3 125.4L619.6 125.4L619.9 125.4L620.2 125.4L620.5 125.4L620.8 124.4L621.1 125.2L621.4 127.8L621.7 127.8L622.0 127.8L622.3 127.8L622.2 127.8L622.2 139.5L622.3 139.5L622.0 139.5L621.7 139.5L621.4 139.1L621.1 139.1L620.8 138.6L620.5 138.6L620.2 138.6L619.9 138.6L619.6 138.6L619.3 138.8L619.0 138.4L618.7 138.4L618.4 138.4L618.1 138.4L617.8 138.4L617.5 137.4L617.2 137.4L616.9 137.4L616.6 137.4L616.3 137.4L616.0 140.5L615.7 139.3L615.4 139.3L615.1 139.3L614.8 136.2L614.5 136.2L614.2 136.2L613.9 136.2L613.6 136.2L613.3 138.9L613.0 141.1L612.7 139.2L612.4 139.0L612.1 139.0L611.8 139.0L611.5 139.0L611.2 139.0L610.9 140.5L610.6 137.1L610.3 137.1L610.0 137.1L609.7 137.1L609.4 137.1L609.1 138.7L608.8 139.1L608.5 139.1L608.2 139.1L607.9 139.1L607.6 140.0L607.3 140.1L607.0 140.0L606.7 138.4L606.4 138.4L606.1 138.4L605.8 138.4L605.5 138.4L605.2 139.9L604.9 139.9L604.6 139.9L604.3 138.4L604.0 138.4L603.7 138.4L603.4 138.4L603.1 138.4L602.8 140.4L602.5 140.4L602.2 140.4L601.9 138.1L601.6 138.1L601.3 138.1L601.0 138.1L600.7 138.1L600.4 139.1L600.1 139.1L599.8 139.1L599.5 140.5L599.2 140.5L598.9 139.3L598.6 139.3L598.3 138.5L598.0 138.5L597.7 138.5L597.4 138.5L597.1 138.5L596.8 138.9L596.5 138.9L596.2 138.9L595.9 139.5L595.6 137.9L595.3 137.9L595.0 137.9L594.7 137.2L594.4 137.2L594.1 137.2L593.8 137.2L593.5 136.1L593.2 136.1L592.9 136.1L592.6 136.1L592.3 136.1L592.0 139.6L591.7 139.8L591.4 139.8L591.1 138.8L590.8 137.7L590.5 137.7L590.2 137.7L589.9 137.7L589.6 136.6L589.3 136.6L589.0 136.6L588.7 136.6L588.4 136.6L588.1 137.0L587.8 138.3L587.5 138.3L587.2 139.1L586.9 139.6L586.6 139.6L586.3 139.6L586.0 141.4L585.7 141.4L585.4 141.4L585.1 141.4L584.8 141.3L584.5 141.3L584.2 141.3L583.9 141.3L583.6 141.3L583.3 141.1L583.0 141.1L582.7 141.1L582.4 141.1L582.1 141.1L581.8 143.6L581.5 146.9L581.2 146.9L580.9 140.4L580.6 140.4L580.3 140.4L580.0 140.4L579.7 140.4L579.4 140.5L579.1 140.5L578.8 140.5L578.5 140.5L578.2 140.5L577.9 141.2L577.6 141.2L577.3 141.6L577.0 142.2L576.7 143.9L576.4 145.1L576.1 141.0L575.8 139.2L575.5 139.2L575.2 138.8L574.9 138.1L574.6 138.1L574.3 138.1L574.0 138.1L573.7 138.1L573.4 139.8L573.1 139.8L572.8 139.8L572.5 139.8L572.2 139.8L571.9 140.7L571.6 140.4L571.3 138.1L571.0 138.1L570.7 137.9L570.4 137.9L570.1 136.3L569.8 136.3L569.5 136.3L569.2 136.3L568.9 136.3L568.6 137.6L568.3 137.6L568.0 140.9L567.7 140.9L567.4 139.3L567.1 139.3L566.8 139.3L566.5 137.9L566.2 137.9L565.9 137.9L565.6 137.9L565.3 137.9L565.0 137.6L564.7 137.6L564.4 137.6L564.1 137.6L563.8 137.6L563.5 146.4L563.2 146.4L562.9 143.8L562.6 143.8L562.3 143.8L562.0 143.8L561.7 143.8L561.4 141.9L561.1 141.9L560.8 138.7L560.5 138.7L560.2 138.7L559.9 138.7L559.6 138.7L559.3 144.1L559.0 144.9L558.7 141.0L558.4 138.9L558.1 138.9L557.8 138.9L557.5 138.9L557.2 138.9L556.9 139.4L556.6 139.4L556.3 139.4L556.0 139.4L555.7 139.4L555.4 139.8L555.1 139.8L554.8 141.0L554.5 141.0L554.2 141.0L553.9 141.0L553.6 142.4L553.3 142.4L553.0 141.4L552.7 141.4L552.4 138.8L552.1 138.8L551.8 138.8L551.5 138.8L551.2 138.8L550.9 139.4L550.6 139.4L550.3 139.4L550.0 139.4L549.7 139.4L549.4 140.3L549.1 140.3L548.8 140.3L548.5 140.3L548.2 140.3L547.9 141.4L547.6 141.4L547.3 140.9L547.0 139.7L546.7 139.7L546.4 139.7L546.1 139.7L545.8 138.7L545.5 138.7L545.2 138.7L544.9 138.7L544.6 138.7L544.3 139.2L544.0 139.2L543.7 139.2L543.4 139.2L543.1 139.2L542.8 139.5L542.5 136.2L542.2 136.2L541.9 136.2L541.6 136.2L541.3 136.2L541.0 138.2L540.7 138.2L540.4 141.7L540.1 142.1L539.8 139.2L539.5 139.2L539.2 139.1L538.9 139.1L538.6 139.1L538.3 139.1L538.0 139.1L537.7 140.6L537.4 140.6L537.1 140.6L536.8 137.5L536.5 137.5L536.2 137.5L535.9 137.5L535.6 137.5L535.3 137.8L535.0 137.8L534.7 138.3L534.4 138.3L534.1 141.4L533.8 142.6L533.5 142.6L533.2 142.4L532.9 137.5L532.6 137.5L532.3 137.5L532.0 137.3L531.7 137.3L531.4 137.3L531.1 137.3L530.8 137.3L530.5 138.3L530.2 138.3L529.9 138.3L529.6 138.3L529.3 137.8L529.0 137.8L528.7 137.8L528.4 137.8L528.1 137.8L527.8 138.2L527.5 138.2L527.2 138.1L526.9 138.1L526.6 138.1L526.3 138.1L526.0 138.1L525.7 141.4L525.4 141.4L525.1 140.8L524.8 138.1L524.5 138.1L524.2 138.1L523.9 138.1L523.6 138.1L523.3 138.6L523.0 137.3L522.7 137.3L522.4 137.3L522.1 137.3L521.8 137.3L521.5 139.1L521.2 139.1L520.9 136.6L520.6 136.6L520.3 136.6L520.0 136.6L519.7 136.6L519.4 140.0L519.1 140.2L518.8 140.2L518.5 140.2L518.2 140.2L517.9 140.2L517.6 142.3L517.3 142.3L517.0 142.3L516.7 138.9L516.4 138.9L516.1 138.9L515.8 138.9L515.5 138.9L515.2 139.6L514.9 138.9L514.6 138.8L514.3 138.8L514.0 138.8L513.7 137.7L513.4 137.7L513.1 137.7L512.8 137.7L512.5 137.7L512.2 136.3L511.9 136.3L511.6 136.3L511.3 136.3L511.0 136.3L510.7 138.5L510.4 136.6L510.1 136.6L509.8 136.6L509.5 136.6L509.2 136.6L508.9 139.1L508.6 139.8L508.3 137.6L508.0 135.4L507.7 135.4L507.4 135.4L507.1 135.4L506.8 135.4L506.5 137.6L506.2 136.6L505.9 136.6L505.6 136.6L505.3 136.6L505.0 136.6L504.7 137.7L504.4 138.6L504.1 138.6L503.8 138.6L503.5 138.5L503.2 138.5L502.9 138.5L502.6 137.6L502.3 137.6L502.0 137.6L501.7 137.6L501.4 137.6L501.1 140.4L500.8 140.4L500.5 139.9L500.2 139.9L499.9 138.6L499.6 138.6L499.3 138.6L499.0 138.6L498.7 138.6L498.4 139.6L498.1 139.6L497.8 139.6L497.5 139.6L497.2 139.6L496.9 138.7L496.6 138.7L496.3 137.9L496.0 137.8L495.7 137.8L495.4 137.8L495.1 137.8L494.8 137.8L494.5 140.1L494.2 140.3L493.9 140.3L493.6 140.3L493.3 138.9L493.0 138.9L492.7 138.9L492.4 138.9L492.1 138.9L491.8 141.1L491.5 141.1L491.2 141.7L490.9 139.5L490.6 139.5L490.3 139.5L490.0 139.5L489.7 139.5L489.4 139.8L489.1 139.8L488.8 139.8L488.5 139.8L488.2 139.9L487.9 139.9L487.6 139.9L487.3 139.9L487.0 139.9L486.7 139.9L486.4 139.0L486.1 139.0L485.8 139.0L485.5 139.0L485.2 139.0L484.9 140.8L484.6 140.8L484.3 141.9L484.0 141.9L483.7 141.5L483.4 138.0L483.1 138.0L482.8 138.0L482.5 138.0L482.2 138.0L481.9 140.9L481.6 140.4L481.3 139.6L481.0 139.6L480.7 137.4L480.4 137.4L480.1 137.4L479.8 137.4L479.5 137.4L479.2 140.8L478.9 140.8L478.6 140.8L478.3 142.7L478.0 142.7L477.7 142.7L477.4 144.4L477.1 143.9L476.8 143.9L476.5 143.7L476.2 139.5L475.9 138.1L475.6 136.9L475.3 136.9L475.0 136.9L474.7 136.9L474.4 136.9L474.1 138.0L473.8 137.9L473.5 137.9L473.2 137.9L472.9 137.9L472.6 137.9L472.3 139.6L472.0 137.3L471.7 137.3L471.4 137.3L471.1 137.3L470.8 137.3L470.5 141.0L470.2 141.0L469.9 141.0L469.6 140.0L469.3 140.0L469.0 140.0L468.7 140.0L468.4 140.0L468.1 142.3L467.8 142.3L467.5 142.3L467.2 143.6L466.9 143.6L466.6 145.1L466.3 145.1L466.0 145.1L465.7 139.9L465.4 139.9L465.1 139.9L464.8 139.9L464.5 139.9L464.2 140.6L463.9 143.9L463.6 143.9L463.3 143.9L463.0 144.2L462.7 141.8L462.4 141.8L462.1 139.2L461.8 139.2L461.5 139.2L461.2 139.2L460.9 139.2L460.6 141.5L460.3 141.5L460.0 141.6L459.7 141.6L459.4 142.1L459.1 144.8L458.8 139.9L458.5 139.9L458.2 139.9L457.9 139.9L457.6 139.9L457.3 144.9L457.0 141.9L456.7 141.9L456.4 141.9L456.1 141.9L455.8 141.7L455.5 140.1L455.2 138.9L454.9 137.3L454.6 137.3L454.3 137.3L454.0 137.3L453.7 137.3L453.4 138.8L453.1 137.9L452.8 135.3L452.5 135.3L452.2 135.3L451.9 135.3L451.6 135.3L451.3 139.0L451.0 140.2L450.7 140.2L450.4 139.7L450.1 139.7L449.8 139.7L449.5 139.7L449.2 139.6L448.9 138.6L448.6 138.6L448.3 138.6L448.0 138.6L447.7 138.6L447.4 138.6L447.1 138.6L446.8 138.6L446.5 139.0L446.2 139.0L445.9 139.0L445.6 139.0L445.3 139.0L445.0 139.7L444.7 139.7L444.4 139.7L444.1 139.7L443.8 139.3L443.5 139.3L443.2 138.0L442.9 138.0L442.6 138.0L442.3 138.0L442.0 138.0L441.7 138.7L441.4 138.7L441.1 140.6L440.8 139.7L440.5 139.7L440.2 139.7L439.9 139.7L439.6 139.7L439.3 140.8L439.0 139.9L438.7 139.4L438.4 139.0L438.1 139.0L437.8 139.0L437.5 139.0L437.2 139.0L436.9 140.5L436.6 140.5L436.3 138.1L436.0 138.1L435.7 136.8L435.4 136.8L435.1 136.8L434.8 136.8L434.5 136.8L434.2 141.0L433.9 141.0L433.6 137.3L433.3 137.3L433.0 137.3L432.7 137.3L432.4 137.3L432.1 138.2L431.8 139.4L431.5 138.2L431.2 138.0L430.9 138.0L430.6 138.0L430.3 138.0L430.0 136.4L429.7 136.4L429.4 136.4L429.1 136.4L428.8 136.4L428.5 138.8L428.2 140.5L427.9 140.5L427.6 141.1L427.3 141.1L427.0 141.1L426.7 141.1L426.4 141.1L426.1 141.2L425.8 141.2L425.5 141.2L425.2 137.5L424.9 137.5L424.6 137.5L424.3 137.5L424.0 137.5L423.7 140.0L423.4 140.0L423.1 140.0L422.8 140.0L422.5 140.0L422.2 141.4L421.9 141.3L421.6 141.2L421.3 137.3L421.0 137.3L420.7 137.3L420.4 137.3L420.1 137.3L419.8 140.2L419.5 140.2L419.2 140.2L418.9 142.0L418.6 142.0L418.3 142.0L418.0 142.3L417.7 136.9L417.4 136.9L417.1 136.9L416.8 136.9L416.5 136.9L416.2 137.4L415.9 138.6L415.6 138.6L415.3 139.8L415.0 139.8L414.7 139.8L414.4 143.0L414.1 140.5L413.8 139.3L413.5 139.3L413.2 139.3L412.9 139.3L412.6 139.3L412.3 139.3L412.0 138.3L411.7 138.3L411.4 138.3L411.1 138.3L410.8 138.3L410.5 138.8L410.2 139.0L409.9 139.0L409.6 139.0L409.3 142.5L409.0 142.4L408.7 137.4L408.4 137.4L408.1 137.4L407.8 137.4L407.5 137.4L407.2 139.9L406.9 138.1L406.6 138.1L406.3 138.1L406.0 138.1L405.7 138.1L405.4 139.6L405.1 139.6L404.8 139.6L404.5 139.6L404.2 141.5L403.9 141.9L403.6 139.7L403.3 139.7L403.0 139.7L402.7 137.4L402.4 137.4L402.1 137.4L401.8 137.4L401.5 137.4L401.2 139.6L400.9 139.6L400.6 139.6L400.3 139.6L400.0 139.6L399.7 139.7L399.4 139.7L399.1 139.7L398.8 139.7L398.5 139.8L398.2 139.6L397.9 139.6L397.6 139.6L397.3 139.6L397.0 138.9L396.7 138.9L396.4 138.9L396.1 138.9L395.8 138.2L395.5 138.2L395.2 138.2L394.9 138.2L394.6 138.2L394.3 138.3L394.0 138.3L393.7 138.3L393.4 140.5L393.1 140.5L392.8 140.5L392.5 140.5L392.2 140.1L391.9 140.1L391.6 140.1L391.3 140.1L391.0 140.1L390.7 140.1L390.4 140.1L390.1 140.1L389.8 140.9L389.5 140.9L389.2 137.0L388.9 137.0L388.6 137.0L388.3 137.0L388.0 137.0L387.7 138.3L387.4 138.7L387.1 139.9L386.8 139.3L386.5 139.3L386.2 139.3L385.9 139.3L385.6 139.3L385.3 140.3L385.0 140.3L384.7 140.3L384.4 140.3L384.1 140.3L383.8 141.3L383.5 141.3L383.2 142.1L382.9 140.6L382.6 140.6L382.3 138.5L382.0 138.5L381.7 138.5L381.4 138.5L381.1 138.5L380.8 140.4L380.5 141.2L380.2 141.2L379.9 141.2L379.6 141.2L379.3 141.5L379.0 140.3L378.7 138.5L378.4 138.5L378.1 138.5L377.8 138.5L377.5 138.5L377.2 142.3L376.9 138.3L376.6 138.3L376.3 138.3L376.0 138.3L375.7 138.3L375.4 139.0L375.1 139.0L374.8 139.0L374.5 140.0L374.2 138.5L373.9 138.5L373.6 138.4L373.3 138.4L373.0 138.4L372.7 137.7L372.4 137.7L372.1 137.7L371.8 136.4L371.5 136.4L371.2 135.6L370.9 135.6L370.6 135.6L370.3 135.6L370.0 135.6L369.7 138.3L369.4 138.3L369.1 138.3L368.8 138.3L368.5 138.3L368.2 138.7L367.9 138.7L367.6 138.7L367.3 139.7L367.0 141.4L366.7 141.6L366.4 139.4L366.1 139.4L365.8 139.4L365.5 139.4L365.2 139.4L364.9 139.8L364.6 139.8L364.3 139.8L364.0 138.6L363.7 137.1L363.4 137.1L363.1 137.1L362.8 137.1L362.5 137.1L362.2 139.7L361.9 140.8L361.6 140.8L361.3 140.8L361.0 140.8L360.7 141.3L360.4 141.7L360.1 141.7L359.8 140.6L359.5 138.9L359.2 138.7L358.9 137.1L358.6 137.1L358.3 137.1L358.0 137.1L357.7 137.1L357.4 137.1L357.1 140.1L356.8 140.1L356.5 139.6L356.2 139.6L355.9 139.6L355.6 138.8L355.3 137.7L355.0 137.7L354.7 137.7L354.4 137.7L354.1 137.7L353.8 138.4L353.5 138.4L353.2 138.4L352.9 140.9L352.6 140.6L352.3 140.6L352.0 140.6L351.7 136.7L351.4 136.7L351.1 136.7L350.8 136.7L350.5 136.7L350.2 139.4L349.9 139.4L349.6 139.4L349.3 139.4L349.0 140.1L348.7 140.1L348.4 140.1L348.1 141.6L347.8 141.6L347.5 142.9L347.2 145.3L346.9 145.3L346.6 145.3L346.3 145.6L346.0 145.6L345.7 145.2L345.4 145.2L345.1 144.3L344.8 144.3L344.5 141.5L344.2 141.5L343.9 139.2L343.6 139.2L343.3 139.2L343.0 137.2L342.7 136.5L342.4 136.5L342.1 136.5L341.8 136.5L341.5 136.5L341.2 138.7L340.9 138.7L340.6 138.7L340.3 138.7L340.0 138.2L339.7 138.2L339.4 138.2L339.1 138.2L338.8 138.2L338.5 138.2L338.2 135.8L337.9 135.8L337.6 135.8L337.3 134.9L337.0 134.9L336.7 134.9L336.4 134.9L336.1 134.9L335.8 138.8L335.5 138.8L335.2 138.8L334.9 138.8L334.6 140.8L334.3 141.6L334.0 142.3L333.7 139.7L333.4 139.7L333.1 139.7L332.8 139.7L332.5 139.7L332.2 139.2L331.9 139.2L331.6 139.2L331.3 137.6L331.0 137.6L330.7 137.6L330.4 137.6L330.1 137.6L329.8 142.5L329.5 141.3L329.2 141.3L328.9 137.6L328.6 137.6L328.3 137.6L328.0 137.6L327.7 137.6L327.4 141.4L327.1 141.4L326.8 141.4L326.5 140.0L326.2 138.8L325.9 138.8L325.6 138.7L325.3 137.5L325.0 137.5L324.7 137.5L324.4 137.5L324.1 137.5L323.8 140.1L323.5 139.6L323.2 139.6L322.9 139.6L322.6 139.6L322.3 139.1L322.0 139.1L321.7 139.1L321.4 138.8L321.1 138.8L320.8 138.8L320.5 138.8L320.2 138.8L319.9 136.6L319.6 136.6L319.3 136.6L319.0 136.6L318.7 136.6L318.4 138.0L318.1 138.0L317.8 138.0L317.5 139.2L317.2 139.2L316.9 139.2L316.6 139.8L316.3 139.3L316.0 139.3L315.7 139.3L315.4 139.3L315.1 139.3L314.8 142.3L314.5 142.3L314.2 140.0L313.9 140.0L313.6 140.0L313.3 140.0L313.0 140.0L312.7 143.3L312.4 140.8L312.1 140.8L311.8 140.8L311.5 140.8L311.2 140.8L310.9 143.9L310.6 143.9L310.3 144.3L310.0 144.3L309.7 139.2L309.4 139.2L309.1 139.2L308.8 139.2L308.5 139.2L308.2 140.3L307.9 140.6L307.6 140.6L307.3 140.6L307.0 140.6L306.7 140.6L306.4 141.1L306.1 141.1L305.8 141.1L305.5 140.3L305.2 140.3L304.9 140.3L304.6 140.1L304.3 140.1L304.0 140.1L303.7 140.1L303.4 140.1L303.1 140.2L302.8 142.3L302.5 140.9L302.2 140.9L301.9 140.9L301.6 140.9L301.3 140.9L301.0 146.5L300.7 142.6L300.4 142.6L300.1 140.1L299.8 138.9L299.5 138.9L299.2 138.9L298.9 138.9L298.6 138.8L298.3 138.8L298.0 138.8L297.7 138.8L297.4 138.8L297.1 139.6L296.8 139.6L296.5 139.6L296.2 139.6L295.9 140.9L295.6 140.9L295.3 139.4L295.0 139.4L294.7 139.4L294.4 139.4L294.1 139.4L293.8 141.8L293.5 139.6L293.2 139.2L292.9 139.2L292.6 139.2L292.3 139.2L292.0 139.2L291.7 139.2L291.4 137.8L291.1 137.8L290.8 137.8L290.5 135.8L290.2 135.8L289.9 135.8L289.6 135.8L289.3 135.8L289.0 137.0L288.7 137.0L288.4 137.0L288.1 137.0L287.8 137.0L287.5 136.6L287.2 136.6L286.9 136.6L286.6 136.6L286.3 136.6L286.0 136.7L285.7 139.6L285.4 139.7L285.1 139.2L284.8 139.2L284.5 139.2L284.2 138.2L283.9 138.2L283.6 138.2L283.3 138.2L283.0 138.2L282.7 138.4L282.4 138.4L282.1 140.5L281.8 141.5L281.5 141.5L281.2 142.0L280.9 142.0L280.6 140.3L280.3 140.3L280.0 140.3L279.7 140.3L279.4 140.2L279.1 140.2L278.8 137.8L278.5 137.8L278.2 137.8L277.9 137.8L277.6 137.8L277.3 138.1L277.0 137.5L276.7 137.5L276.4 137.5L276.1 137.5L275.8 137.5L275.5 139.0L275.2 139.4L274.9 140.9L274.6 138.5L274.3 138.5L274.0 136.6L273.7 136.6L273.4 136.6L273.1 136.6L272.8 136.6L272.5 140.8L272.2 140.8L271.9 140.8L271.6 140.8L271.3 141.7L271.0 141.7L270.7 141.5L270.4 139.0L270.1 139.0L269.8 135.3L269.5 135.3L269.2 135.3L268.9 135.3L268.6 135.3L268.3 139.9L268.0 139.5L267.7 139.5L267.4 139.5L267.1 139.5L266.8 139.5L266.5 142.5L266.2 138.1L265.9 138.1L265.6 138.1L265.3 138.1L265.0 138.1L264.7 138.0L264.4 138.0L264.1 138.0L263.8 138.0L263.5 138.0L263.2 141.2L262.9 137.8L262.6 137.8L262.3 137.8L262.0 137.8L261.7 137.8L261.4 138.8L261.1 138.8L260.8 138.8L260.5 138.8L260.2 138.8L259.9 141.4L259.6 142.7L259.3 141.7L259.0 141.7L258.7 140.0L258.4 138.7L258.1 138.7L257.8 138.7L257.5 138.7L257.2 138.7L256.9 142.3L256.6 142.3L256.3 142.4L256.0 143.8L255.7 143.8L255.4 143.8L255.1 143.8L254.8 144.2L254.5 143.3L254.2 143.3L253.9 143.3L253.6 142.8L253.3 141.5L253.0 141.0L252.7 137.0L252.4 137.0L252.1 137.0L251.8 137.0L251.5 137.0L251.2 138.3L250.9 138.3L250.6 139.4L250.3 139.4L250.0 139.4L249.7 139.4L249.4 139.4L249.1 140.8L248.8 140.8L248.5 140.8L248.2 140.8L247.9 140.8L247.6 143.7L247.3 143.7L247.0 139.1L246.7 139.1L246.4 139.1L246.1 139.1L245.8 139.1L245.5 141.2L245.2 141.6L244.9 141.6L244.6 141.6L244.3 141.6L244.0 138.7L243.7 138.7L243.4 138.7L243.1 138.7L242.8 138.7L242.5 145.8L242.2 145.0L241.9 144.5L241.6 142.2L241.3 142.1L241.0 142.1L240.7 142.1L240.4 138.6L240.1 138.6L239.8 138.6L239.5 138.6L239.2 138.6L238.9 140.7L238.6 141.5L238.3 138.5L238.0 138.5L237.7 138.5L237.4 138.5L237.1 138.5L236.8 140.9L236.5 140.9L236.2 140.9L235.9 141.3L235.6 141.5L235.3 141.5L235.0 141.0L234.7 141.0L234.4 141.0L234.1 141.0L233.8 141.0L233.5 140.6L233.2 140.6L232.9 140.6L232.6 138.6L232.3 138.6L232.0 137.9L231.7 137.9L231.4 137.9L231.1 137.9L230.8 137.9L230.5 138.0L230.2 138.0L229.9 138.0L229.6 138.0L229.3 139.7L229.0 140.8L228.7 139.6L228.4 139.6L228.1 139.6L227.8 138.9L227.5 138.5L227.2 138.5L226.9 138.5L226.6 138.5L226.3 138.5L226.0 139.0L225.7 137.7L225.4 137.7L225.1 137.7L224.8 137.7L224.5 137.7L224.2 141.7L223.9 141.7L223.6 139.9L223.3 137.1L223.0 137.1L222.7 137.1L222.4 137.1L222.1 136.1L221.8 136.1L221.5 136.1L221.2 136.1L220.9 136.1L220.6 138.1L220.3 138.9L220.0 138.9L219.7 138.9L219.4 138.9L219.1 137.4L218.8 137.4L218.5 137.4L218.2 137.4L217.9 137.4L217.6 137.5L217.3 137.5L217.0 137.5L216.7 138.5L216.4 139.2L216.1 139.2L215.8 139.2L215.5 139.2L215.2 140.2L214.9 137.5L214.6 137.0L214.3 137.0L214.0 137.0L213.7 137.0L213.4 137.0L213.1 139.8L212.8 139.8L212.5 140.3L212.2 142.5L211.9 140.2L211.6 140.2L211.3 140.2L211.0 140.2L210.7 138.2L210.4 138.2L210.1 138.2L209.8 138.2L209.5 138.2L209.2 140.1L208.9 140.1L208.6 140.1L208.3 140.1L208.0 136.2L207.7 136.2L207.4 136.2L207.1 136.2L206.8 136.2L206.5 137.7L206.2 137.7L205.9 138.7L205.6 138.7L205.3 138.7L205.0 138.7L204.7 138.2L204.4 137.3L204.1 137.3L203.8 137.3L203.5 137.3L203.2 137.3L202.9 140.3L202.6 140.4L202.3 138.7L202.0 138.7L201.7 138.7L201.4 138.7L201.1 138.7L200.8 143.2L200.5 142.9L200.2 142.9L199.9 142.0L199.6 139.3L199.3 139.3L199.0 139.1L198.7 139.1L198.4 139.1L198.1 139.1L197.8 139.1L197.5 142.9L197.2 142.9L196.9 143.6L196.6 143.6L196.3 143.6L196.0 143.6L195.7 142.9L195.4 142.9L195.1 138.8L194.8 138.8L194.5 137.1L194.2 137.1L193.9 137.1L193.6 137.1L193.3 137.1L193.0 138.7L192.7 139.4L192.4 139.4L192.1 141.3L191.8 141.3L191.5 139.9L191.2 139.9L190.9 139.9L190.6 139.0L190.3 139.0L190.0 139.0L189.7 139.0L189.4 139.0L189.1 139.0L188.8 139.0L188.5 142.8L188.2 139.6L187.9 139.6L187.6 139.6L187.3 139.6L187.0 139.6L186.7 139.9L186.4 140.4L186.1 140.4L185.8 141.5L185.5 141.5L185.2 141.5L184.9 141.7L184.6 141.7L184.3 141.7L184.0 143.1L183.7 141.8L183.4 141.8L183.1 141.8L182.8 141.8L182.5 141.8L182.2 137.2L181.9 137.2L181.6 137.2L181.3 137.2L181.0 137.2L180.7 140.4L180.4 140.4L180.1 140.4L179.8 139.4L179.5 139.4L179.2 138.1L178.9 138.1L178.6 138.1L178.3 138.1L178.0 138.1L177.7 140.0L177.4 139.9L177.1 139.9L176.8 139.9L176.5 139.9L176.2 138.6L175.9 138.6L175.6 138.6L175.3 138.6L175.0 138.6L174.7 142.3L174.9 142.3Z" fill="#0000ff"/>
<path d="M174.70 111.7V144.1M175.00 119.2V143.4M175.30 117.5V142.3M175.60 119.8V138.6M175.90 116.6V146.4M176.20 121.0V144.0M176.50 117.8V146.5M176.80 120.5V139.9M177.10 123.7V140.2M177.40 122.7V140.0M177.70 126.2V143.3M178.00 122.1V141.8M178.30 124.6V144.7M178.60 123.8V138.1M178.90 118.0V140.6M179.20 122.4V139.4M179.50 124.9V151.8M179.80 117.9V144.2M180.10 117.9V143.9M180.40 122.4V140.4M180.70 121.8V143.9M181.00 117.9V147.6M181.30 117.3V140.9M181.60 123.8V137.2M181.90 121.8V146.6M182.20 113.9V147.2M182.50 122.4V146.3M182.80 119.2V147.0M183.10 123.3V141.8M183.40 120.5V143.1M183.70 123.8V148.0M184.00 124.3V146.7M184.30 126.7V144.0M184.60 120.1V148.8M184.90 127.7V141.7M185.20 125.4V145.8M185.50 122.3V143.0M185.80 125.5V141.5M186.10 109.5V151.0M186.40 121.5V147.4M186.70 117.2V140.4M187.00 122.4V151.3M187.30 116.7V139.9M187.60 115.8V139.6M187.90 116.7V147.3M188.20 111.8V152.5M188.50 119.4V148.8M188.80 123.2V145.0M189.10 123.1V142.8M189.40 117.2V139.0M189.70 122.6V142.1M190.00 115.0V139.0M190.30 114.4V167.6M190.60 115.9V143.7M190.90 121.9V139.9M191.20 124.3V150.7M191.50 125.2V141.3M191.80 117.1V145.9M192.10 103.1V142.3M192.40 103.9V151.0M192.70 120.9V141.7M193.00 121.7V139.4M193.30 120.0V143.3M193.60 120.0V138.7M193.90 118.9V137.1M194.20 117.7V142.8M194.50 120.2V138.8M194.80 121.8V143.2M195.10 114.6V142.9M195.40 118.8V150.8M195.70 121.1V146.6M196.00 124.7V148.4M196.30 122.5V148.2M196.60 117.3V143.6M196.90 103.9V151.6M197.20 122.5V149.5M197.50 116.1V167.2M197.80 119.4V142.9M198.10 120.8V145.7M198.40 121.9V139.1M198.70 120.9V143.0M199.00 124.9V139.3M199.30 121.4V142.0M199.60 119.7V146.3M199.90 122.0V142.9M200.20 125.7V159.2M200.50 120.5V149.7M200.80 116.4V147.2M201.10 121.6V143.2M201.40 105.8V144.4M201.70 119.5V138.7M202.00 118.0V143.7M202.30 120.0V145.5M202.60 124.0V140.4M202.90 123.7V142.8M203.20 126.2V145.7M203.50 125.5V140.3M203.80 122.5V137.3M204.10 120.5V138.2M204.40 120.4V149.7M204.70 125.7V140.3M205.00 123.0V140.1M205.30 117.9V138.7M205.60 124.2V143.5M205.90 122.7V150.4M206.20 126.1V153.3M206.50 125.8V140.5M206.80 119.5V137.7M207.10 122.1V147.0M207.40 124.2V136.2M207.70 119.9V140.7M208.00 126.3V140.9M208.30 118.5V147.4M208.60 123.2V145.3M208.90 114.0V140.1M209.20 119.4V148.1M209.50 119.0V146.2M209.80 119.6V149.1M210.10 126.9V138.2M210.40 116.3V144.7M210.70 124.2V140.7M211.00 120.3V144.0M211.30 113.5V140.2M211.60 121.8V145.7M211.90 124.8V146.2M212.20 118.9V144.2M212.50 119.8V142.5M212.80 120.8V143.5M213.10 119.8V140.3M213.40 123.9V139.8M213.70 123.1V143.2M214.00 122.7V137.0M214.30 125.9V137.5M214.60 119.9V141.2M214.90 122.0V144.0M215.20 121.2V141.5M215.50 123.5V140.2M215.80 125.7V141.4M216.10 124.2V139.2M216.40 125.5V142.6M216.70 126.7V141.6M217.00 119.7V140.4M217.30 122.0V138.5M217.60 124.5V137.5M217.90 123.1V142.3M218.20 118.3V143.5M218.50 120.8V137.4M218.80 114.7V141.6M219.10 122.9V140.0M219.40 122.3V143.0M219.70 123.9V138.9M220.00 119.1V140.3M220.30 121.7V143.0M220.60 122.7V139.4M220.90 121.5V142.3M221.20 118.5V138.1M221.50 123.0V136.1M221.80 122.7V138.2M222.10 122.7V140.0M222.40 124.7V139.0M222.70 124.5V137.1M223.00 127.8V139.9M223.30 124.6V146.1M223.60 120.0V150.1M223.90 117.7V141.7M224.20 125.5V142.0M224.50 125.6V141.7M224.80 123.6V144.7M225.10 125.5V137.7M225.40 126.3V139.0M225.70 124.2V141.7M226.00 123.3V140.5M226.30 121.8V141.3M226.60 122.1V140.2M226.90 120.2V138.5M227.20 124.3V138.9M227.50 119.4V141.0M227.80 124.8V146.6M228.10 114.5V139.6M228.40 125.0V144.2M228.70 121.8V140.8M229.00 122.3V148.8M229.30 125.3V145.1M229.60 115.0V142.4M229.90 118.4V139.7M230.20 121.8V138.0M230.50 115.2V141.7M230.80 123.8V140.1M231.10 127.7V143.9M231.40 123.0V137.9M231.70 121.5V145.5M232.00 121.2V138.6M232.30 125.5V142.8M232.60 122.6V143.3M232.90 100.1V140.6M233.20 120.2V141.7M233.50 112.7V149.2M233.80 117.7V143.8M234.10 116.2V143.8M234.40 126.8V141.0M234.70 125.0V147.6M235.00 127.0V142.9M235.30 123.5V144.0M235.60 123.5V145.4M235.90 124.0V141.5M236.20 122.6V143.9M236.50 125.1V141.3M236.80 122.0V140.9M237.10 125.8V142.1M237.40 123.8V146.8M237.70 119.8V138.5M238.00 121.1V141.5M238.30 114.3V142.1M238.60 122.4V152.8M238.90 122.4V148.8M239.20 124.1V153.9M239.50 118.2V140.7M239.80 115.1V138.6M240.10 113.8V142.5M240.40 110.6V149.9M240.70 120.7V142.1M241.00 112.0V142.2M241.30 107.9V144.5M241.60 118.5V145.0M241.90 122.4V152.6M242.20 120.4V150.5M242.50 120.0V145.8M242.80 116.0V146.8M243.10 119.1V147.9M243.40 118.3V138.7M243.70 106.2V148.2M244.00 114.1V144.0M244.30 107.1V152.0M244.60 105.4V146.6M244.90 119.7V141.6M245.20 105.4V162.2M245.50 116.5V142.3M245.80 110.7V150.1M246.10 94.5V141.2M246.40 120.3V139.1M246.70 116.2V150.2M247.00 121.4V160.1M247.30 119.9V143.7M247.60 119.5V149.3M247.90 122.6V148.7M248.20 118.2V153.2M248.50 126.4V140.8M248.80 121.4V149.2M249.10 120.4V153.4M249.40 116.9V143.5M249.70 109.4V145.5M250.00 123.8V139.4M250.30 113.5V140.0M250.60 120.6V141.2M250.90 121.8V141.9M251.20 116.5V140.8M251.50 125.7V138.3M251.80 112.4V145.6M252.10 115.8V137.0M252.40 114.7V141.0M252.70 122.5V141.5M253.00 120.7V142.8M253.30 122.8V145.7M253.60 121.2V148.8M253.90 111.8V143.3M254.20 117.9V148.0M254.50 119.0V145.5M254.80 119.6V145.0M255.10 118.3V144.2M255.40 115.5V144.3M255.70 115.0V143.8M256.00 110.4V146.7M256.30 115.3V146.8M256.60 120.1V146.8M256.90 117.1V142.4M257.20 121.6V142.3M257.50 119.0V143.5M257.80 124.1V138.7M258.10 124.5V140.0M258.40 115.7V142.3M258.70 118.3V141.7M259.00 123.6V147.6M259.30 124.9V145.6M259.60 124.6V142.7M259.90 122.5V147.3M260.20 120.5V143.3M260.50 112.9V141.4M260.80 121.4V138.8M261.10 118.3V143.4M261.40 121.6V145.2M261.70 121.2V140.3M262.00 122.1V141.7M262.30 124.4V137.8M262.60 120.6V143.9M262.90 118.3V146.2M263.20 122.0V147.6M263.50 117.5V141.2M263.80 124.1V144.2M264.10 126.4V138.0M264.40 122.9V143.8M264.70 124.2V139.7M265.00 125.0V144.7M265.30 117.8V146.9M265.60 125.5V138.1M265.90 120.8V142.9M266.20 118.6V142.5M266.50 121.5V143.9M266.80 119.4V147.3M267.10 118.3V151.1M267.40 124.5V139.5M267.70 124.6V143.0M268.00 123.0V139.9M268.30 121.9V142.7M268.60 122.5V145.1M268.90 120.0V144.9M269.20 117.4V135.3M269.50 123.9V139.4M269.80 118.0V139.0M270.10 122.4V141.5M270.40 120.3V141.7M270.70 126.9V143.8M271.00 121.7V142.2M271.30 120.9V141.7M271.60 115.1V145.1M271.90 120.8V150.3M272.20 121.8V140.8M272.50 124.1V145.1M272.80 108.6V146.0M273.10 120.2V143.0M273.40 117.3V136.6M273.70 119.0V147.2M274.00 120.2V138.5M274.30 125.8V142.1M274.60 124.1V140.9M274.90 118.0V142.8M275.20 125.3V146.5M275.50 119.0V146.4M275.80 122.9V139.4M276.10 123.5V139.0M276.40 124.6V137.5M276.70 125.0V138.1M277.00 122.1V145.0M277.30 123.1V139.4M277.60 125.1V138.1M277.90 122.7V138.2M278.20 123.7V137.8M278.50 116.9V141.2M278.80 125.6V140.2M279.10 121.5V146.4M279.40 120.1V142.3M279.70 125.2V140.8M280.00 123.0V140.3M280.30 127.2V142.0M280.60 119.8V142.3M280.90 125.5V144.7M281.20 122.3V143.8M281.50 125.9V145.9M281.80 116.9V142.0M282.10 109.5V141.5M282.40 117.4V147.0M282.70 124.2V140.5M283.00 122.6V138.4M283.30 122.5V140.8M283.60 120.9V138.2M283.90 125.6V140.2M284.20 122.9V144.1M284.50 124.0V139.2M284.80 120.7V143.1M285.10 123.8V149.5M285.40 123.9V144.4M285.70 123.9V139.7M286.00 119.7V144.3M286.30 123.1V139.6M286.60 127.0V136.7M286.90 118.5V136.6M287.20 118.0V146.3M287.50 125.1V140.2M287.80 126.2V141.0M288.10 117.4V146.3M288.40 126.9V137.0M288.70 124.8V142.9M289.00 127.8V139.0M289.30 127.1V141.8M289.60 124.5V138.4M289.90 123.5V135.8M290.20 124.2V143.7M290.50 125.9V138.3M290.80 117.1V137.8M291.10 126.3V143.0M291.40 120.6V140.0M291.70 123.8V145.0M292.00 123.2V139.2M292.30 120.4V139.3M292.60 124.1V139.2M292.90 124.6V139.6M293.20 118.7V149.5M293.50 124.3V142.0M293.80 116.3V141.8M294.10 125.0V142.4M294.40 123.1V144.2M294.70 119.5V139.4M295.00 117.2V143.1M295.30 125.2V140.9M295.60 123.0V156.4M295.90 120.8V141.8M296.20 120.1V141.6M296.50 127.4V141.0M296.80 121.0V139.6M297.10 122.9V140.6M297.40 121.3V139.8M297.70 127.4V142.3M298.00 118.5V138.8M298.30 125.4V141.0M298.60 122.5V149.3M298.90 121.2V141.5M299.20 120.5V138.9M299.50 114.9V140.1M299.80 123.9V145.8M300.10 117.7V142.6M300.40 124.0V149.1M300.70 123.5V148.8M301.00 120.8V148.8M301.30 123.0V147.1M301.60 126.9V146.5M301.90 124.0V140.9M302.20 119.2V143.8M302.50 121.1V143.5M302.80 118.7V145.4M303.10 121.7V142.3M303.40 123.1V148.8M303.70 121.5V140.2M304.00 123.2V140.1M304.30 124.6V141.9M304.60 117.1V142.5M304.90 125.5V140.3M305.20 120.5V141.4M305.50 120.2V143.6M305.80 116.9V142.4M306.10 113.8V145.6M306.40 122.9V141.1M306.70 121.8V144.4M307.00 124.1V145.2M307.30 124.5V140.6M307.60 113.0V155.2M307.90 112.7V141.3M308.20 122.8V141.9M308.50 122.4V151.3M308.80 125.9V140.3M309.10 125.7V139.2M309.40 124.4V147.4M309.70 125.9V146.7M310.00 123.6V144.9M310.30 115.1V144.3M310.60 120.4V146.3M310.90 122.3V147.3M311.20 116.5V143.9M311.50 122.5V143.9M311.80 118.9V140.8M312.10 124.3V147.8M312.40 122.6V150.1M312.70 124.9V144.1M313.00 121.8V150.3M313.30 102.0V143.3M313.60 109.0V140.0M313.90 119.4V143.4M314.20 113.7V142.3M314.50 116.7V146.8M314.80 117.5V143.7M315.10 116.5V145.1M315.40 119.1V145.6M315.70 115.3V139.3M316.00 122.6V139.8M316.30 123.8V140.2M316.60 123.2V146.1M316.90 119.3V144.6M317.20 120.0V144.2M317.50 121.7V139.2M317.80 119.8V147.5M318.10 120.5V146.4M318.40 121.5V138.0M318.70 123.5V146.1M319.00 127.3V139.8M319.30 121.2V136.6M319.60 121.4V146.1M319.90 128.3V141.7M320.20 118.9V148.3M320.50 127.3V138.8M320.80 126.2V138.8M321.10 125.1V148.0M321.40 116.8V140.4M321.70 123.5V139.1M322.00 119.2V145.2M322.30 118.6V154.5M322.60 115.9V146.4M322.90 122.2V139.6M323.20 124.2V140.1M323.50 120.0V148.5M323.80 122.6V145.3M324.10 120.8V145.1M324.40 118.4V151.0M324.70 121.0V137.5M325.00 116.6V138.7M325.30 121.9V145.0M325.60 121.0V138.8M325.90 118.5V140.0M326.20 123.1V142.5M326.50 123.0V147.8M326.80 123.2V142.1M327.10 123.9V141.4M327.40 121.7V146.2M327.70 123.2V144.4M328.00 123.4V143.3M328.30 117.8V137.6M328.60 119.9V144.4M328.90 120.8V141.3M329.20 124.6V142.5M329.50 117.2V147.8M329.80 123.8V148.7M330.10 119.6V143.0M330.40 127.4V149.3M330.70 120.7V137.6M331.00 113.4V140.0M331.30 121.6V139.4M331.60 122.2V139.2M331.90 114.3V143.7M332.20 123.4V142.5M332.50 127.6V145.2M332.80 124.9V146.8M333.10 123.7V139.7M333.40 120.4V142.3M333.70 114.4V142.3M334.00 121.3V147.2M334.30 123.4V147.1M334.60 124.0V143.6M334.90 121.1V141.6M335.20 125.5V140.8M335.50 124.7V138.8M335.80 121.7V142.4M336.10 118.4V141.9M336.40 126.2V140.9M336.70 126.2V134.9M337.00 118.9V140.5M337.30 123.9V143.2M337.60 115.0V135.8M337.90 119.6V139.6M338.20 123.6V142.4M338.50 121.7V143.8M338.80 122.3V139.0M339.10 122.5V138.2M339.40 120.1V138.2M339.70 126.7V143.2M340.00 124.7V149.1M340.30 121.1V150.2M340.60 125.1V138.7M340.90 121.5V147.8M341.20 117.9V141.1M341.50 122.0V143.2M341.80 121.2V139.3M342.10 121.3V136.5M342.40 122.1V137.2M342.70 114.3V139.4M343.00 121.8V148.6M343.30 125.1V139.2M343.60 124.0V144.2M343.90 108.0V141.5M344.20 122.9V144.5M344.50 114.4V144.3M344.80 111.1V150.4M345.10 120.1V145.2M345.40 114.2V146.9M345.70 115.7V145.6M346.00 109.3V145.8M346.30 117.4V150.4M346.60 120.9V160.6M346.90 96.4V149.4M347.20 109.8V145.3M347.50 114.1V162.0M347.80 121.3V155.1M348.10 123.5V142.9M348.40 115.6V141.6M348.70 122.0V147.2M349.00 122.5V140.1M349.30 122.1V150.8M349.60 119.4V148.1M349.90 115.3V139.4M350.20 125.6V141.2M350.50 122.9V140.6M350.80 119.1V140.9M351.10 122.6V136.7M351.40 125.4V143.9M351.70 123.9V140.9M352.00 121.8V140.6M352.30 126.2V140.9M352.60 124.1V141.6M352.90 121.6V142.2M353.20 121.6V142.9M353.50 124.8V144.3M353.80 118.7V138.4M354.10 119.3V143.2M354.40 127.5V141.9M354.70 126.9V137.7M355.00 126.8V138.8M355.30 123.4V141.3M355.60 126.8V143.1M355.90 125.7V139.6M356.20 120.4V144.5M356.50 116.4V144.8M356.80 117.5V142.1M357.10 121.1V140.1M357.40 121.9V145.0M357.70 120.4V142.1M358.00 125.1V137.1M358.30 126.8V137.1M358.60 115.6V138.7M358.90 126.3V138.9M359.20 116.9V140.6M359.50 121.7V145.0M359.80 114.9V144.1M360.10 118.9V148.7M360.40 122.8V141.7M360.70 125.3V143.1M361.00 127.2V142.9M361.30 123.9V141.3M361.60 124.9V140.8M361.90 124.7V143.7M362.20 124.1V141.4M362.50 124.0V144.5M362.80 124.6V139.7M363.10 124.4V137.1M363.40 122.3V138.6M363.70 121.3V140.9M364.00 122.7V143.8M364.30 122.8V139.8M364.60 126.1V139.9M364.90 120.2V139.8M365.20 119.4V143.7M365.50 114.4V141.8M365.80 113.9V139.4M366.10 118.1V144.1M366.40 125.3V146.2M366.70 125.4V143.7M367.00 120.0V154.5M367.30 121.5V141.6M367.60 124.4V141.4M367.90 127.3V139.7M368.20 125.2V138.7M368.50 125.9V139.1M368.80 124.1V140.2M369.10 125.8V138.3M369.40 126.9V141.2M369.70 123.7V140.2M370.00 124.6V145.8M370.30 118.8V139.8M370.60 123.8V135.6M370.90 122.5V138.9M371.20 118.7V136.4M371.50 117.5V143.6M371.80 117.5V137.9M372.10 118.3V137.7M372.40 121.9V140.2M372.70 122.1V138.5M373.00 123.9V138.4M373.30 122.7V139.4M373.60 123.1V138.5M373.90 122.3V141.3M374.20 122.2V142.2M374.50 121.7V140.0M374.80 124.7V140.5M375.10 122.6V149.3M375.40 116.7V139.0M375.70 122.5V142.1M376.00 103.9V140.8M376.30 121.1V138.3M376.60 124.0V143.1M376.90 124.6V149.7M377.20 126.3V143.0M377.50 122.0V142.3M377.80 120.0V144.8M378.10 113.2V138.5M378.40 115.5V140.3M378.70 122.2V141.5M379.00 118.9V142.6M379.30 122.3V144.1M379.60 120.7V147.5M379.90 127.2V142.6M380.20 125.9V141.2M380.50 120.8V148.4M380.80 124.0V143.5M381.10 121.2V144.6M381.40 115.2V140.4M381.70 124.0V138.5M382.00 121.7V143.4M382.30 123.7V140.6M382.60 124.2V142.1M382.90 120.9V143.0M383.20 125.8V145.4M383.50 126.4V143.0M383.80 119.9V142.1M384.10 124.3V141.3M384.40 121.8V149.5M384.70 122.1V140.3M385.00 120.3V142.3M385.30 117.6V141.1M385.60 125.2V147.6M385.90 126.9V142.3M386.20 126.5V139.3M386.50 122.0V144.3M386.80 126.2V142.9M387.10 122.3V139.9M387.40 124.6V139.9M387.70 124.8V148.0M388.00 121.7V138.7M388.30 122.7V138.3M388.60 116.5V137.0M388.90 121.1V141.6M389.20 120.0V147.0M389.50 122.7V152.6M389.80 121.6V150.1M390.10 122.9V140.9M390.40 124.2V148.8M390.70 122.1V140.1M391.00 126.4V145.8M391.30 123.8V149.2M391.60 125.6V140.1M391.90 121.4V144.9M392.20 126.4V141.6M392.50 123.8V140.8M392.80 125.5V140.5M393.10 124.8V142.0M393.40 124.7V143.8M393.70 120.1V143.4M394.00 123.4V149.0M394.30 121.3V138.3M394.60 119.6V139.1M394.90 124.4V140.4M395.20 120.9V138.2M395.50 118.9V150.1M395.80 123.7V145.0M396.10 121.0V140.0M396.40 109.8V138.9M396.70 119.5V141.9M397.00 124.2V146.9M397.30 124.9V143.6M397.60 121.1V139.6M397.90 124.8V145.5M398.20 123.7V142.6M398.50 107.6V142.5M398.80 123.3V140.8M399.10 125.4V139.8M399.40 120.5V139.7M399.70 124.0V142.5M400.00 122.2V140.2M400.30 122.5V142.7M400.60 118.2V139.6M400.90 119.9V141.1M401.20 125.0V141.6M401.50 122.2V147.0M401.80 119.9V140.3M402.10 122.8V137.4M402.40 125.1V141.7M402.70 126.5V141.6M403.00 120.5V139.7M403.30 115.2V141.9M403.60 117.2V143.8M403.90 125.0V150.1M404.20 124.9V146.0M404.50 126.3V141.9M404.80 122.3V141.5M405.10 123.4V139.6M405.40 119.2V140.8M405.70 120.6V140.1M406.00 117.8V140.1M406.30 119.6V138.1M406.60 122.8V139.9M406.90 127.5V141.1M407.20 126.5V139.9M407.50 125.6V152.6M407.80 117.7V140.3M408.10 122.0V137.4M408.40 125.8V142.4M408.70 121.5V145.6M409.00 123.1V144.6M409.30 123.7V144.2M409.60 121.9V142.5M409.90 121.0V143.1M410.20 122.0V139.0M410.50 122.8V143.1M410.80 118.8V148.7M411.10 114.4V138.8M411.40 111.7V138.3M411.70 123.1V139.4M412.00 122.4V139.3M412.30 117.0V139.8M412.60 125.0V144.9M412.90 122.9V147.3M413.20 118.5V139.3M413.50 117.4V140.5M413.80 123.9V147.4M414.10 121.2V143.0M414.40 123.3V145.3M414.70 122.7V143.0M415.00 123.3V144.7M415.30 118.6V139.8M415.60 123.8V148.6M415.90 122.5V141.6M416.20 124.8V138.6M416.50 123.0V144.9M416.80 114.0V137.4M417.10 123.4V136.9M417.40 124.6V142.3M417.70 126.5V148.0M418.00 122.8V149.9M418.30 121.5V145.7M418.60 119.6V142.7M418.90 123.8V142.0M419.20 121.4V146.2M419.50 121.1V142.3M419.80 111.4V140.2M420.10 119.5V141.4M420.40 123.5V140.5M420.70 118.5V137.3M421.00 122.1V141.2M421.30 118.1V141.3M421.60 122.7V141.4M421.90 121.4V142.7M422.20 122.3V145.2M422.50 112.3V145.6M422.80 123.5V145.9M423.10 118.0V140.0M423.40 119.2V140.2M423.70 124.4V143.7M424.00 118.2V145.0M424.30 117.7V140.7M424.60 122.4V137.5M424.90 122.4V145.5M425.20 119.4V142.6M425.50 102.0V141.2M425.80 124.2V141.3M426.10 124.5V145.6M426.40 120.7V149.2M426.70 122.9V151.6M427.00 115.7V141.1M427.30 125.6V157.6M427.60 126.3V142.8M427.90 119.3V141.7M428.20 123.7V148.4M428.50 125.4V140.5M428.80 122.6V141.6M429.10 104.2V138.8M429.40 114.9V136.4M429.70 119.4V142.7M430.00 111.0V142.6M430.30 113.8V142.8M430.60 117.5V138.0M430.90 109.5V138.2M431.20 120.6V141.1M431.50 120.7V142.4M431.80 123.6V144.5M432.10 123.2V139.4M432.40 124.9V140.7M432.70 123.8V138.2M433.00 127.1V137.3M433.30 121.1V145.9M433.60 125.5V141.0M433.90 125.0V143.0M434.20 119.0V146.8M434.50 120.0V141.7M434.80 118.5V142.6M435.10 124.2V136.8M435.40 116.0V145.3M435.70 122.0V138.1M436.00 116.4V142.0M436.30 115.2V144.7M436.60 122.2V140.5M436.90 115.2V141.1M437.20 120.1V144.6M437.50 121.4V146.1M437.80 122.7V139.0M438.10 125.9V139.4M438.40 120.9V139.9M438.70 125.6V143.9M439.00 122.9V140.9M439.30 117.9V142.9M439.60 127.2V140.8M439.90 123.1V148.0M440.20 124.9V139.7M440.50 122.5V140.6M440.80 124.6V144.7M441.10 125.0V145.9M441.40 120.5V141.2M441.70 124.0V141.0M442.00 123.0V138.7M442.30 126.2V138.7M442.60 123.5V138.0M442.90 121.6V141.5M443.20 121.0V139.3M443.50 118.3V143.7M443.80 115.9V148.6M444.10 121.7V154.8M444.40 119.9V139.7M444.70 120.1V149.6M445.00 116.2V143.2M445.30 121.5V144.7M445.60 121.4V144.7M445.90 111.7V139.0M446.20 113.9V144.9M446.50 123.7V149.0M446.80 115.7V144.2M447.10 123.0V146.1M447.40 115.8V138.6M447.70 124.4V140.9M448.00 122.7V142.4M448.30 124.5V138.6M448.60 123.6V139.6M448.90 117.9V145.0M449.20 121.9V143.7M449.50 120.0V150.5M449.80 120.1V139.7M450.10 116.7V140.3M450.40 124.2V145.7M450.70 119.3V140.2M451.00 124.9V140.7M451.30 125.6V141.9M451.60 124.6V142.8M451.90 126.6V139.0M452.20 105.8V135.3M452.50 128.4V137.9M452.80 121.5V142.9M453.10 123.1V138.8M453.40 124.2V139.7M453.70 119.9V148.4M454.00 120.4V142.9M454.30 124.0V137.3M454.60 124.7V138.9M454.90 119.6V140.1M455.20 124.5V141.7M455.50 124.2V144.2M455.80 111.7V146.1M456.10 122.3V145.4M456.40 121.4V141.9M456.70 125.5V144.9M457.00 121.8V146.3M457.30 120.0V148.6M457.60 122.6V146.4M457.90 119.5V148.0M458.20 120.4V139.9M458.50 124.6V145.8M458.80 114.4V145.5M459.10 126.5V152.8M459.40 121.5V144.8M459.70 121.6V145.3M460.00 118.4V142.1M460.30 120.9V141.6M460.60 117.8V148.3M460.90 125.6V141.5M461.20 120.6V141.6M461.50 121.6V139.2M461.80 122.0V143.6M462.10 121.0V141.8M462.40 120.0V147.3M462.70 125.1V150.9M463.00 123.2V150.1M463.30 111.4V152.4M463.60 116.6V144.2M463.90 115.2V143.9M464.20 122.2V146.5M464.50 121.5V144.1M464.80 117.5V140.6M465.10 120.1V139.9M465.40 121.1V145.2M465.70 109.6V149.8M466.00 113.9V145.1M466.30 122.2V147.5M466.60 123.3V146.9M466.90 125.1V146.7M467.20 120.5V146.3M467.50 125.3V143.6M467.80 100.1V149.0M468.10 117.0V142.3M468.40 113.8V147.5M468.70 100.8V149.2M469.00 109.0V140.0M469.30 117.5V148.4M469.60 114.0V153.5M469.90 111.0V141.0M470.20 113.3V152.5M470.50 122.0V142.6M470.80 120.3V144.2M471.10 124.0V147.5M471.40 119.8V137.3M471.70 119.3V148.1M472.00 121.5V145.8M472.30 111.7V141.2M472.60 117.2V139.6M472.90 106.8V146.4M473.20 112.5V137.9M473.50 117.5V138.0M473.80 115.1V141.7M474.10 124.5V141.0M474.40 122.3V140.1M474.70 124.0V138.4M475.00 123.6V136.9M475.30 122.4V138.1M475.60 119.5V139.5M475.90 124.2V143.7M476.20 122.1V153.1M476.50 123.0V143.9M476.80 125.9V145.7M477.10 116.3V148.4M477.40 118.1V147.3M477.70 126.9V144.4M478.00 123.9V145.4M478.30 114.4V142.7M478.60 117.4V157.1M478.90 119.3V150.9M479.20 122.3V140.8M479.50 124.2V143.0M479.80 123.8V141.8M480.10 125.6V137.4M480.40 118.9V144.5M480.70 121.8V139.6M481.00 123.4V140.4M481.30 121.4V140.9M481.60 120.0V142.1M481.90 124.0V141.9M482.20 121.7V143.4M482.50 116.8V141.1M482.80 121.2V138.0M483.10 122.5V141.5M483.40 123.1V150.4M483.70 123.5V141.9M484.00 119.7V143.3M484.30 125.0V153.0M484.60 122.2V143.3M484.90 123.3V146.4M485.20 118.0V140.8M485.50 124.6V144.5M485.80 125.7V139.0M486.10 122.6V145.8M486.40 124.3V140.7M486.70 122.0V142.1M487.00 124.5V143.3M487.30 122.4V139.9M487.60 123.3V142.9M487.90 127.5V143.7M488.20 124.0V160.1M488.50 125.3V139.9M488.80 121.8V141.9M489.10 114.7V139.8M489.40 114.4V142.1M489.70 124.1V142.5M490.00 123.1V145.3M490.30 119.9V139.5M490.60 121.1V141.7M490.90 119.9V146.9M491.20 120.1V144.7M491.50 102.2V142.4M491.80 120.5V142.1M492.10 122.2V141.1M492.40 124.0V150.3M492.70 113.3V138.9M493.00 122.8V143.4M493.30 125.4V141.8M493.60 120.5V140.3M493.90 124.4V141.2M494.20 121.8V140.6M494.50 123.5V147.1M494.80 115.6V141.3M495.10 120.8V140.1M495.40 122.3V137.8M495.70 122.2V137.9M496.00 119.1V139.3M496.30 121.3V138.7M496.60 116.2V143.7M496.90 121.2V141.1M497.20 122.6V145.0M497.50 122.2V143.3M497.80 116.3V139.6M498.10 118.6V142.1M498.40 124.6V143.6M498.70 123.5V142.3M499.00 122.6V146.6M499.30 123.6V138.6M499.60 126.1V142.7M499.90 125.7V139.9M500.20 126.4V144.7M500.50 123.3V140.4M500.80 117.3V143.2M501.10 115.5V140.4M501.40 119.0V141.7M501.70 120.9V142.4M502.00 120.8V137.6M502.30 126.6V139.6M502.60 125.1V140.1M502.90 126.5V138.5M503.20 125.3V139.0M503.50 124.1V140.9M503.80 125.9V139.5M504.10 121.6V139.5M504.40 126.8V138.6M504.70 126.2V143.0M505.00 125.2V139.1M505.30 123.1V137.7M505.60 123.3V136.6M505.90 120.7V137.6M506.20 119.7V139.4M506.50 111.7V142.5M506.80 119.2V138.8M507.10 122.2V140.3M507.40 122.8V135.4M507.70 121.0V137.6M508.00 124.9V139.8M508.30 124.4V141.8M508.60 127.3V141.0M508.90 122.8V140.1M509.20 127.5V140.9M509.50 126.1V139.1M509.80 120.8V136.6M510.10 121.0V145.2M510.40 122.0V138.5M510.70 120.3V140.9M511.00 126.1V142.2M511.30 126.3V139.1M511.60 124.6V136.3M511.90 125.4V139.6M512.20 119.3V139.6M512.50 116.1V138.3M512.80 123.0V139.2M513.10 123.9V137.7M513.40 124.9V142.9M513.70 122.7V139.9M514.00 121.0V138.8M514.30 114.1V138.9M514.60 123.6V141.9M514.90 122.4V139.6M515.20 120.1V142.1M515.50 121.1V142.3M515.80 119.4V143.3M516.10 123.6V138.9M516.40 123.4V145.8M516.70 121.2V143.9M517.00 120.2V142.3M517.30 118.9V143.6M517.60 120.9V144.9M517.90 121.6V144.1M518.20 122.3V148.4M518.50 121.0V140.2M518.80 123.0V147.0M519.10 123.1V146.0M519.40 123.4V156.4M519.70 123.6V147.3M520.00 123.0V140.0M520.30 125.3V136.6M520.60 124.2V139.8M520.90 118.5V141.5M521.20 120.3V139.1M521.50 123.6V140.8M521.80 123.0V141.7M522.10 122.2V142.3M522.40 122.9V137.3M522.70 128.0V141.6M523.00 124.5V144.5M523.30 117.9V138.6M523.60 123.4V139.5M523.90 122.6V139.8M524.20 120.7V138.1M524.50 126.3V140.8M524.80 126.8V141.6M525.10 117.8V143.6M525.40 127.3V141.9M525.70 127.5V142.5M526.00 124.6V141.4M526.30 125.5V146.9M526.60 126.6V138.1M526.90 115.2V140.0M527.20 126.6V141.6M527.50 123.4V139.1M527.80 118.2V141.6M528.10 123.8V138.2M528.40 125.7V138.7M528.70 122.1V137.8M529.00 122.7V140.7M529.30 115.6V138.5M529.60 121.5V139.5M529.90 110.2V138.3M530.20 122.1V144.4M530.50 120.9V141.3M530.80 116.7V144.1M531.10 115.8V140.1M531.40 120.8V137.3M531.70 121.8V144.3M532.00 125.3V146.2M532.30 125.3V137.5M532.60 116.3V142.4M532.90 122.7V143.3M533.20 121.7V142.6M533.50 121.8V148.5M533.80 114.5V145.7M534.10 120.1V144.0M534.40 121.0V146.6M534.70 123.6V141.4M535.00 115.1V138.3M535.30 116.1V142.5M535.60 116.6V137.8M535.90 118.9V140.7M536.20 119.7V137.5M536.50 122.6V146.4M536.80 122.4V142.0M537.10 121.4V141.6M537.40 124.9V140.6M537.70 121.2V142.2M538.00 123.4V144.4M538.30 122.0V140.9M538.60 122.1V139.1M538.90 119.0V144.8M539.20 117.9V139.2M539.50 123.6V148.4M539.80 122.2V146.5M540.10 123.5V142.1M540.40 123.2V149.8M540.70 120.4V145.8M541.00 113.5V141.7M541.30 118.7V138.2M541.60 123.8V140.4M541.90 123.1V136.2M542.20 121.5V139.5M542.50 125.5V146.1M542.80 124.7V145.0M543.10 126.6V144.7M543.40 124.9V140.1M543.70 123.7V139.2M544.00 120.2V140.0M544.30 123.3V149.1M544.60 121.9V144.3M544.90 125.5V140.0M545.20 117.2V138.7M545.50 118.2V140.4M545.80 123.8V140.4M546.10 125.3V144.0M546.40 127.6V139.7M546.70 125.1V140.9M547.00 120.9V144.0M547.30 124.8V141.4M547.60 123.2V150.0M547.90 124.8V142.7M548.20 125.4V145.4M548.50 123.9V143.2M548.80 122.0V140.3M549.10 122.0V147.6M549.40 121.0V143.2M549.70 112.1V143.8M550.00 119.1V147.0M550.30 111.5V139.4M550.60 124.5V148.2M550.90 126.0V144.2M551.20 124.1V142.4M551.50 122.8V145.8M551.80 121.7V138.8M552.10 117.9V146.2M552.40 114.2V141.4M552.70 121.9V145.4M553.00 103.9V142.4M553.30 114.3V151.3M553.60 120.0V146.7M553.90 119.2V150.6M554.20 107.3V151.4M554.50 120.1V141.0M554.80 117.3V142.9M555.10 116.9V154.8M555.40 120.4V143.0M555.70 117.3V139.8M556.00 109.1V149.4M556.30 115.2V139.4M556.60 118.1V144.3M556.90 121.3V141.5M557.20 115.7V141.6M557.50 116.0V143.9M557.80 122.8V138.9M558.10 124.8V141.0M558.40 118.5V145.2M558.70 115.6V169.5M559.00 113.6V146.4M559.30 118.8V144.9M559.60 114.6V151.8M559.90 126.6V144.1M560.20 120.7V138.7M560.50 115.5V148.9M560.80 118.9V141.9M561.10 122.7V148.4M561.40 109.3V145.2M561.70 105.7V155.7M562.00 81.4V155.3M562.30 114.2V143.8M562.60 97.4V177.0M562.90 121.7V146.4M563.20 113.5V151.7M563.50 109.1V151.2M563.80 112.6V156.3M564.10 120.0V151.6M564.40 122.4V137.6M564.70 114.7V146.2M565.00 125.5V147.8M565.30 127.6V147.2M565.60 114.0V144.9M565.90 118.1V137.9M566.20 120.2V141.9M566.50 126.0V162.0M566.80 122.9V139.3M567.10 121.7V141.9M567.40 121.5V153.0M567.70 123.7V147.3M568.00 124.1V147.8M568.30 118.4V140.9M568.60 123.7V146.4M568.90 118.5V137.6M569.20 122.2V143.6M569.50 118.2V136.3M569.80 123.9V140.5M570.10 124.1V137.9M570.40 119.5V140.2M570.70 122.2V138.1M571.00 125.0V140.4M571.30 122.1V140.7M571.60 126.7V145.4M571.90 120.1V146.1M572.20 121.7V141.3M572.50 123.0V147.3M572.80 125.7V139.8M573.10 120.2V141.0M573.40 122.8V146.2M573.70 122.8V140.4M574.00 122.4V143.8M574.30 124.3V138.1M574.60 126.0V138.8M574.90 122.6V144.9M575.20 123.8V139.2M575.50 116.0V141.0M575.80 115.6V145.1M576.10 120.6V156.6M576.40 125.6V152.9M576.70 110.9V148.4M577.00 120.6V145.3M577.30 117.6V143.9M577.60 102.0V142.2M577.90 116.7V141.6M578.20 114.8V141.2M578.50 119.4V143.9M578.80 121.8V140.5M579.10 124.2V145.6M579.40 121.8V141.1M579.70 124.0V148.5M580.00 121.4V147.5M580.30 112.4V140.4M580.60 120.2V147.7M580.90 119.6V154.6M581.20 111.8V153.7M581.50 120.8V146.9M581.80 122.6V148.1M582.10 120.6V149.8M582.40 119.8V143.6M582.70 122.2V141.1M583.00 122.3V146.6M583.30 117.9V151.8M583.60 120.6V157.4M583.90 119.3V142.1M584.20 119.1V141.3M584.50 126.8V145.3M584.80 112.0V142.0M585.10 119.7V143.4M585.40 125.9V141.4M585.70 124.5V142.5M586.00 114.0V148.9M586.30 116.9V146.5M586.60 124.1V144.7M586.90 123.4V139.6M587.20 113.5V147.9M587.50 119.0V146.5M587.80 113.9V139.1M588.10 122.7V138.3M588.40 114.2V143.4M588.70 120.2V137.0M589.00 121.8V136.6M589.30 122.4V143.8M589.60 124.3V144.4M589.90 118.9V143.3M590.20 121.8V137.7M590.50 120.5V138.8M590.80 123.7V141.8M591.10 126.1V154.5M591.40 125.7V143.3M591.70 124.5V139.8M592.00 125.7V140.5M592.30 120.2V141.0M592.60 126.0V139.6M592.90 126.3V136.1M593.20 126.0V139.8M593.50 123.6V139.4M593.80 124.5V143.2M594.10 124.3V137.2M594.40 118.5V143.5M594.70 123.0V139.5M595.00 124.8V137.9M595.30 122.4V142.4M595.60 127.2V139.6M595.90 127.1V139.5M596.20 125.5V142.4M596.50 121.6V141.1M596.80 125.4V138.9M597.10 120.5V140.9M597.40 124.9V141.5M597.70 123.0V138.5M598.00 126.0V142.4M598.30 120.8V139.3M598.60 121.8V144.4M598.90 119.6V143.2M599.20 123.5V140.5M599.50 119.4V143.8M599.80 117.3V147.7M600.10 122.4V143.9M600.40 120.6V139.1M600.70 126.1V140.1M601.00 118.3V145.0M601.30 118.4V138.1M601.60 123.3V143.0M601.90 118.1V141.7M602.20 119.6V141.5M602.50 122.6V140.4M602.80 123.2V143.9M603.10 125.9V144.5M603.40 121.2V142.4M603.70 123.5V138.4M604.00 122.5V147.5M604.30 124.7V140.6M604.60 124.8V150.8M604.90 127.8V139.9M605.20 119.9V141.6M605.50 123.3V140.1M605.80 123.1V140.4M606.10 123.6V138.4M606.40 121.4V140.0M606.70 121.1V141.9M607.00 121.0V145.2M607.30 123.8V140.1M607.60 122.4V142.3M607.90 115.8V141.6M608.20 126.6V140.0M608.50 121.1V139.1M608.80 121.6V143.6M609.10 122.5V141.0M609.40 121.5V139.5M609.70 126.1V138.7M610.00 123.2V137.1M610.30 120.7V141.2M610.60 125.9V143.2M610.90 126.5V143.9M611.20 126.4V140.5M611.50 125.1V140.7M611.80 122.0V139.0M612.10 126.1V139.2M612.40 123.6V141.1M612.70 125.1V142.3M613.00 123.5V141.1M613.30 125.6V141.6M613.60 127.3V142.0M613.90 124.5V138.9M614.20 124.3V136.2M614.50 124.7V141.5M614.80 120.0V141.7M615.10 126.2V139.3M615.40 127.0V142.7M615.70 120.6V146.1M616.00 124.5V140.5M616.30 123.9V148.8M616.60 124.1V142.4M616.90 125.1V137.4M617.20 116.9V142.2M617.50 120.5V141.8M617.80 119.3V140.2M618.10 123.6V138.5M618.40 122.1V138.4M618.70 120.2V138.8M619.00 123.7V140.3M619.30 119.0V140.2M619.60 121.9V143.4M619.90 125.4V140.4M620.20 123.3V138.6M620.50 120.3V139.6M620.80 122.5V139.1M621.10 124.0V140.9M621.40 124.4V144.3M621.70 125.2V139.5M622.00 127.8V140.4M622.30 127.5V141.2" fill="none" stroke="#0000ff" stroke-width="0.33"/>
<text transform="translate(170.35 63.70) scale(0.922 1)" text-anchor="end" font-size="16.5">0.4</text>
<text transform="translate(170.35 101.20) scale(0.922 1)" text-anchor="end" font-size="16.5">0.2</text>
<text transform="translate(170.35 138.70) scale(0.922 1)" text-anchor="end" font-size="16.5">0</text>
<text transform="translate(170.35 176.20) scale(0.922 1)" text-anchor="end" font-size="16.5">-0.2</text>
<text transform="translate(170.35 213.70) scale(0.922 1)" text-anchor="end" font-size="16.5">-0.4</text>
<text transform="translate(174.55 227.80) scale(0.922 1)" text-anchor="middle" font-size="16.5">00:00</text>
<text transform="translate(286.53 227.80) scale(0.922 1)" text-anchor="middle" font-size="16.5">06:00</text>
<text transform="translate(398.50 227.80) scale(0.922 1)" text-anchor="middle" font-size="16.5">12:00</text>
<text transform="translate(510.48 227.80) scale(0.922 1)" text-anchor="middle" font-size="16.5">18:00</text>
<text transform="translate(622.45 227.80) scale(0.922 1)" text-anchor="middle" font-size="16.5">00:00</text>
<text transform="translate(136.00 132.70) rotate(-90) scale(0.943 1)" text-anchor="middle" font-size="16.4" font-weight="bold">X (nT)</text>
<text transform="translate(398.50 44.20) scale(0.943 1)" text-anchor="middle" font-size="16.4" font-weight="bold">Filtered Series (cutoff at 7.5 mHz)</text>
<rect x="174.55" y="282.5" width="447.90000000000003" height="150.0" fill="none" stroke="#000" stroke-width="0.38"/>
<path d="M286.53 432.5v-4.3M286.53 282.5v4.3M398.50 432.5v-4.3M398.50 282.5v4.3M510.48 432.5v-4.3M510.48 282.5v4.3M174.55 320.00h4.3M622.45 320.00h-4.3M174.55 357.50h4.3M622.45 357.50h-4.3M174.55 395.00h4.3M622.45 395.00h-4.3" fill="none" stroke="#000" stroke-width="0.42"/>
<path d="M174.9 348.2L174.7 348.2L175.0 348.2L175.3 348.2L175.6 347.6L175.9 349.7L176.2 349.9L176.5 349.9L176.8 349.9L177.1 349.9L177.4 349.9L177.7 350.9L178.0 351.0L178.3 351.0L178.6 351.0L178.9 351.0L179.2 351.0L179.5 348.2L179.8 348.4L180.1 348.4L180.4 348.4L180.7 348.4L181.0 348.4L181.3 348.4L181.6 348.4L181.9 348.4L182.2 348.4L182.5 348.4L182.8 347.9L183.1 348.2L183.4 350.1L183.7 350.1L184.0 350.1L184.3 350.1L184.6 350.1L184.9 347.1L185.2 347.1L185.5 347.1L185.8 347.1L186.1 346.8L186.4 345.8L186.7 346.9L187.0 346.9L187.3 347.9L187.6 347.9L187.9 347.9L188.2 347.9L188.5 347.9L188.8 343.8L189.1 343.8L189.4 342.3L189.7 347.6L190.0 347.6L190.3 347.6L190.6 347.6L190.9 347.6L191.2 347.4L191.5 347.4L191.8 347.4L192.1 351.0L192.4 351.0L192.7 351.0L193.0 351.0L193.3 351.0L193.6 350.4L193.9 349.6L194.2 349.6L194.5 349.6L194.8 349.4L195.1 349.4L195.4 349.4L195.7 347.8L196.0 347.8L196.3 347.8L196.6 347.0L196.9 347.0L197.2 347.0L197.5 346.6L197.8 346.6L198.1 346.6L198.4 344.1L198.7 347.3L199.0 347.3L199.3 347.3L199.6 347.3L199.9 349.7L200.2 349.7L200.5 349.7L200.8 349.7L201.1 349.7L201.4 350.0L201.7 350.0L202.0 350.0L202.3 350.0L202.6 350.0L202.9 344.3L203.2 342.6L203.5 342.6L203.8 346.6L204.1 346.6L204.4 346.6L204.7 348.3L205.0 348.9L205.3 348.9L205.6 348.9L205.9 348.9L206.2 348.9L206.5 348.2L206.8 348.2L207.1 348.2L207.4 348.2L207.7 345.9L208.0 345.9L208.3 345.9L208.6 342.9L208.9 348.0L209.2 348.0L209.5 348.0L209.8 348.0L210.1 350.7L210.4 350.7L210.7 350.7L211.0 350.7L211.3 350.7L211.6 349.9L211.9 349.9L212.2 350.1L212.5 350.1L212.8 351.2L213.1 351.2L213.4 351.2L213.7 351.2L214.0 351.2L214.3 349.4L214.6 351.5L214.9 351.5L215.2 351.5L215.5 351.5L215.8 351.5L216.1 350.9L216.4 350.9L216.7 350.9L217.0 350.9L217.3 350.9L217.6 346.1L217.9 346.1L218.2 348.1L218.5 348.5L218.8 348.5L219.1 350.0L219.4 350.0L219.7 350.0L220.0 350.0L220.3 350.0L220.6 348.6L220.9 348.6L221.2 348.9L221.5 348.9L221.8 351.8L222.1 351.8L222.4 351.8L222.7 351.8L223.0 351.8L223.3 351.1L223.6 352.6L223.9 352.6L224.2 352.6L224.5 352.6L224.8 352.6L225.1 351.9L225.4 351.9L225.7 351.2L226.0 351.2L226.3 351.2L226.6 351.2L226.9 351.2L227.2 350.1L227.5 350.1L227.8 350.5L228.1 350.5L228.4 350.5L228.7 352.2L229.0 352.2L229.3 352.2L229.6 352.2L229.9 352.2L230.2 350.8L230.5 352.4L230.8 352.4L231.1 352.4L231.4 352.4L231.7 352.4L232.0 346.1L232.3 346.1L232.6 346.1L232.9 346.2L233.2 346.2L233.5 346.2L233.8 346.2L234.1 350.6L234.4 350.6L234.7 350.6L235.0 350.6L235.3 350.6L235.6 345.0L235.9 341.1L236.2 334.0L236.5 345.5L236.8 345.5L237.1 345.5L237.4 345.5L237.7 347.0L238.0 347.0L238.3 347.0L238.6 347.0L238.9 347.0L239.2 338.9L239.5 344.3L239.8 344.3L240.1 344.3L240.4 344.3L240.7 344.3L241.0 345.1L241.3 349.0L241.6 349.0L241.9 349.0L242.2 350.0L242.5 350.0L242.8 350.0L243.1 350.0L243.4 350.0L243.7 347.7L244.0 347.7L244.3 347.7L244.6 347.7L244.9 347.7L245.2 347.4L245.5 347.4L245.8 347.4L246.1 347.5L246.4 347.5L246.7 347.5L247.0 347.5L247.3 347.5L247.6 347.5L247.9 345.5L248.2 343.1L248.5 343.1L248.8 343.1L249.1 343.1L249.4 337.5L249.7 337.7L250.0 342.8L250.3 342.8L250.6 344.1L250.9 344.1L251.2 344.8L251.5 344.8L251.8 344.8L252.1 345.8L252.4 345.8L252.7 345.8L253.0 345.8L253.3 345.8L253.6 344.4L253.9 344.4L254.2 344.4L254.5 344.4L254.8 345.5L255.1 350.1L255.4 350.1L255.7 351.7L256.0 351.7L256.3 351.7L256.6 351.7L256.9 351.7L257.2 351.2L257.5 350.8L257.8 351.5L258.1 351.5L258.4 351.5L258.7 351.5L259.0 351.5L259.3 349.6L259.6 349.6L259.9 349.6L260.2 349.6L260.5 349.6L260.8 349.6L261.1 351.1L261.4 351.1L261.7 351.1L262.0 351.1L262.3 351.1L262.6 345.3L262.9 347.6L263.2 349.2L263.5 349.2L263.8 349.2L264.1 349.2L264.4 351.4L264.7 351.4L265.0 351.4L265.3 351.4L265.6 351.4L265.9 350.5L266.2 346.2L266.5 346.2L266.8 348.5L267.1 348.5L267.4 348.5L267.7 348.5L268.0 348.5L268.3 347.3L268.6 347.3L268.9 345.7L269.2 345.7L269.5 347.1L269.8 347.1L270.1 347.1L270.4 350.6L270.7 352.2L271.0 352.2L271.3 352.2L271.6 352.2L271.9 352.2L272.2 349.5L272.5 349.5L272.8 349.5L273.1 349.5L273.4 344.2L273.7 346.7L274.0 346.7L274.3 346.7L274.6 349.8L274.9 349.8L275.2 349.8L275.5 349.8L275.8 349.8L276.1 349.2L276.4 349.2L276.7 347.2L277.0 347.2L277.3 347.2L277.6 346.1L277.9 348.3L278.2 348.3L278.5 348.3L278.8 348.3L279.1 348.5L279.4 348.5L279.7 348.5L280.0 348.5L280.3 348.5L280.6 349.3L280.9 349.3L281.2 349.3L281.5 349.3L281.8 349.3L282.1 347.7L282.4 347.7L282.7 347.7L283.0 347.7L283.3 347.7L283.6 330.0L283.9 339.3L284.2 339.3L284.5 341.3L284.8 341.3L285.1 341.3L285.4 341.3L285.7 342.0L286.0 342.0L286.3 342.0L286.6 342.8L286.9 344.8L287.2 344.8L287.5 344.8L287.8 344.8L288.1 349.7L288.4 349.7L288.7 349.7L289.0 349.7L289.3 349.7L289.6 345.4L289.9 344.1L290.2 350.2L290.5 350.2L290.8 350.2L291.1 350.2L291.4 350.2L291.7 348.1L292.0 348.1L292.3 342.8L292.6 333.1L292.9 345.6L293.2 345.6L293.5 345.6L293.8 345.6L294.1 345.6L294.4 344.6L294.7 345.5L295.0 346.0L295.3 349.9L295.6 349.9L295.9 350.6L296.2 350.6L296.5 350.6L296.8 350.6L297.1 350.6L297.4 341.6L297.7 342.4L298.0 346.3L298.3 346.3L298.6 346.3L298.9 346.3L299.2 346.3L299.5 343.8L299.8 343.8L300.1 343.3L300.4 343.3L300.7 343.3L301.0 343.3L301.3 345.5L301.6 345.5L301.9 345.5L302.2 348.9L302.5 348.9L302.8 348.9L303.1 348.9L303.4 348.9L303.7 347.6L304.0 347.6L304.3 348.6L304.6 348.6L304.9 348.6L305.2 348.6L305.5 348.6L305.8 351.1L306.1 351.1L306.4 351.1L306.7 351.1L307.0 351.1L307.3 350.7L307.6 346.5L307.9 344.4L308.2 344.4L308.5 344.4L308.8 344.4L309.1 344.1L309.4 344.1L309.7 344.1L310.0 344.1L310.3 345.9L310.6 349.6L310.9 349.6L311.2 349.6L311.5 349.6L311.8 349.6L312.1 347.0L312.4 347.0L312.7 347.0L313.0 347.0L313.3 347.0L313.6 347.2L313.9 347.9L314.2 347.9L314.5 348.3L314.8 348.3L315.1 348.3L315.4 348.3L315.7 350.2L316.0 350.2L316.3 350.2L316.6 350.2L316.9 350.2L317.2 345.6L317.5 345.6L317.8 345.6L318.1 345.6L318.4 339.8L318.7 346.5L319.0 346.5L319.3 346.5L319.6 348.8L319.9 348.8L320.2 349.5L320.5 350.7L320.8 350.7L321.1 350.7L321.4 351.2L321.7 351.2L322.0 351.2L322.3 351.2L322.6 351.2L322.9 347.4L323.2 347.4L323.5 347.4L323.8 347.4L324.1 344.8L324.4 343.1L324.7 346.2L325.0 351.3L325.3 351.3L325.6 351.3L325.9 351.3L326.2 351.3L326.5 350.3L326.8 349.3L327.1 349.3L327.4 349.3L327.7 349.3L328.0 347.3L328.3 347.3L328.6 348.1L328.9 348.8L329.2 349.1L329.5 349.7L329.8 349.7L330.1 349.7L330.4 351.0L330.7 351.0L331.0 351.0L331.3 351.0L331.6 351.0L331.9 346.2L332.2 346.2L332.5 346.2L332.8 346.7L333.1 348.4L333.4 352.1L333.7 352.1L334.0 352.1L334.3 352.1L334.6 352.1L334.9 350.9L335.2 350.9L335.5 350.9L335.8 350.3L336.1 351.6L336.4 351.6L336.7 351.6L337.0 351.6L337.3 351.6L337.6 350.9L337.9 346.5L338.2 352.0L338.5 352.0L338.8 352.0L339.1 352.0L339.4 352.0L339.7 350.4L340.0 350.4L340.3 350.4L340.6 350.2L340.9 349.6L341.2 351.3L341.5 351.3L341.8 351.3L342.1 351.3L342.4 351.3L342.7 349.7L343.0 349.3L343.3 349.2L343.6 349.2L343.9 349.2L344.2 348.8L344.5 348.9L344.8 349.3L345.1 350.7L345.4 350.7L345.7 350.7L346.0 350.7L346.3 350.7L346.6 349.8L346.9 349.8L347.2 346.3L347.5 346.3L347.8 347.5L348.1 347.5L348.4 347.5L348.7 347.5L349.0 348.7L349.3 348.7L349.6 348.7L349.9 348.7L350.2 349.2L350.5 349.2L350.8 349.2L351.1 349.2L351.4 349.2L351.7 347.4L352.0 349.9L352.3 349.9L352.6 351.0L352.9 351.0L353.2 351.0L353.5 351.0L353.8 351.0L354.1 350.3L354.4 350.2L354.7 350.2L355.0 350.2L355.3 350.2L355.6 349.4L355.9 352.2L356.2 352.2L356.5 352.2L356.8 352.2L357.1 352.2L357.4 350.3L357.7 350.3L358.0 351.2L358.3 351.2L358.6 351.2L358.9 351.2L359.2 351.2L359.5 349.4L359.8 349.4L360.1 349.4L360.4 348.7L360.7 348.7L361.0 348.7L361.3 348.7L361.6 351.4L361.9 351.4L362.2 351.4L362.5 351.4L362.8 351.4L363.1 349.7L363.4 349.7L363.7 349.7L364.0 351.9L364.3 351.9L364.6 351.9L364.9 351.9L365.2 351.9L365.5 351.6L365.8 350.5L366.1 352.6L366.4 352.6L366.7 352.6L367.0 352.6L367.3 352.6L367.6 350.0L367.9 350.0L368.2 347.9L368.5 351.4L368.8 351.4L369.1 352.6L369.4 352.6L369.7 352.9L370.0 352.9L370.3 352.9L370.6 352.9L370.9 352.9L371.2 352.5L371.5 350.9L371.8 349.3L372.1 347.1L372.4 348.4L372.7 348.4L373.0 348.4L373.3 352.8L373.6 352.8L373.9 352.8L374.2 352.8L374.5 352.8L374.8 351.0L375.1 351.6L375.4 351.6L375.7 351.6L376.0 351.6L376.3 354.6L376.6 354.6L376.9 354.6L377.2 354.6L377.5 354.6L377.8 352.9L378.1 349.9L378.4 349.9L378.7 351.4L379.0 351.4L379.3 351.4L379.6 352.1L379.9 352.1L380.2 352.1L380.5 352.1L380.8 352.1L381.1 351.8L381.4 351.8L381.7 351.8L382.0 351.8L382.3 351.8L382.6 351.2L382.9 351.2L383.2 351.2L383.5 351.2L383.8 349.4L384.1 350.2L384.4 353.1L384.7 353.1L385.0 353.1L385.3 353.1L385.6 353.1L385.9 351.9L386.2 351.9L386.5 352.3L386.8 352.3L387.1 352.3L387.4 352.3L387.7 352.3L388.0 352.0L388.3 352.0L388.6 350.3L388.9 350.3L389.2 349.2L389.5 349.2L389.8 349.2L390.1 349.2L390.4 352.2L390.7 352.2L391.0 352.2L391.3 352.2L391.6 352.2L391.9 346.5L392.2 346.5L392.5 348.2L392.8 348.3L393.1 350.0L393.4 350.0L393.7 351.7L394.0 351.7L394.3 351.7L394.6 351.7L394.9 351.7L395.2 349.7L395.5 349.7L395.8 349.7L396.1 349.7L396.4 349.7L396.7 348.0L397.0 348.7L397.3 349.8L397.6 349.8L397.9 349.8L398.2 349.8L398.5 349.8L398.8 348.2L399.1 348.2L399.4 348.2L399.7 348.2L400.0 348.8L400.3 349.7L400.6 349.9L400.9 351.4L401.2 351.4L401.5 351.4L401.8 351.4L402.1 351.4L402.4 349.9L402.7 349.9L403.0 349.8L403.3 352.7L403.6 352.7L403.9 352.7L404.2 352.7L404.5 352.7L404.8 349.8L405.1 351.4L405.4 351.4L405.7 351.4L406.0 351.4L406.3 351.8L406.6 351.8L406.9 351.8L407.2 351.8L407.5 351.8L407.8 351.5L408.1 351.5L408.4 353.0L408.7 353.0L409.0 353.0L409.3 353.0L409.6 353.0L409.9 353.1L410.2 353.1L410.5 353.3L410.8 353.3L411.1 353.3L411.4 353.3L411.7 353.3L412.0 351.6L412.3 351.1L412.6 351.1L412.9 351.1L413.2 351.1L413.5 351.4L413.8 351.4L414.1 351.9L414.4 351.9L414.7 351.9L415.0 351.9L415.3 351.9L415.6 351.8L415.9 351.8L416.2 351.5L416.5 350.9L416.8 349.9L417.1 350.4L417.4 352.5L417.7 352.5L418.0 352.8L418.3 352.8L418.6 352.8L418.9 352.8L419.2 352.8L419.5 349.1L419.8 351.4L420.1 351.4L420.4 351.4L420.7 351.4L421.0 351.4L421.3 351.0L421.6 351.0L421.9 349.8L422.2 349.8L422.5 349.8L422.8 349.4L423.1 347.8L423.4 350.4L423.7 350.4L424.0 350.4L424.3 350.4L424.6 350.4L424.9 349.7L425.2 349.5L425.5 349.8L425.8 349.8L426.1 349.8L426.4 350.7L426.7 351.9L427.0 351.9L427.3 351.9L427.6 351.9L427.9 351.9L428.2 350.7L428.5 350.5L428.8 349.8L429.1 350.0L429.4 350.0L429.7 350.0L430.0 350.0L430.3 350.0L430.6 349.8L430.9 349.8L431.2 349.9L431.5 351.8L431.8 351.8L432.1 351.8L432.4 351.8L432.7 351.8L433.0 349.4L433.3 348.6L433.6 348.6L433.9 348.6L434.2 348.0L434.5 348.0L434.8 345.9L435.1 345.9L435.4 347.1L435.7 349.1L436.0 349.1L436.3 349.1L436.6 349.1L436.9 349.4L437.2 349.4L437.5 349.8L437.8 349.8L438.1 349.8L438.4 349.8L438.7 349.8L439.0 350.4L439.3 351.7L439.6 351.7L439.9 351.7L440.2 351.7L440.5 351.7L440.8 349.7L441.1 349.5L441.4 351.2L441.7 351.2L442.0 351.2L442.3 351.2L442.6 351.2L442.9 349.0L443.2 351.5L443.5 351.5L443.8 351.5L444.1 352.9L444.4 352.9L444.7 352.9L445.0 352.9L445.3 352.9L445.6 352.7L445.9 351.0L446.2 351.0L446.5 351.2L446.8 351.2L447.1 352.7L447.4 352.7L447.7 352.7L448.0 353.5L448.3 353.5L448.6 353.5L448.9 353.5L449.2 353.5L449.5 352.7L449.8 352.7L450.1 352.7L450.4 351.1L450.7 351.1L451.0 351.1L451.3 351.1L451.6 351.1L451.9 351.7L452.2 351.7L452.5 351.7L452.8 351.7L453.1 351.7L453.4 351.4L453.7 351.7L454.0 351.7L454.3 351.7L454.6 351.7L454.9 353.8L455.2 353.8L455.5 353.8L455.8 353.8L456.1 353.8L456.4 352.0L456.7 352.0L457.0 349.0L457.3 350.6L457.6 351.4L457.9 351.4L458.2 354.0L458.5 354.0L458.8 354.0L459.1 354.0L459.4 354.0L459.7 351.5L460.0 350.8L460.3 350.8L460.6 349.8L460.9 349.8L461.2 349.8L461.5 349.8L461.8 349.8L462.1 349.8L462.4 351.2L462.7 351.2L463.0 351.2L463.3 351.2L463.6 351.2L463.9 350.0L464.2 349.0L464.5 349.0L464.8 349.4L465.1 349.6L465.4 349.6L465.7 351.3L466.0 351.3L466.3 352.6L466.6 352.6L466.9 352.6L467.2 352.6L467.5 352.6L467.8 350.0L468.1 350.0L468.4 350.0L468.7 349.9L469.0 349.9L469.3 350.0L469.6 350.0L469.9 350.0L470.2 350.0L470.5 350.0L470.8 348.6L471.1 348.6L471.4 348.6L471.7 348.6L472.0 348.6L472.3 347.6L472.6 348.1L472.9 351.1L473.2 351.1L473.5 351.1L473.8 351.1L474.1 351.1L474.4 348.1L474.7 348.1L475.0 348.1L475.3 348.1L475.6 351.5L475.9 351.5L476.2 351.5L476.5 351.5L476.8 351.5L477.1 350.0L477.4 350.0L477.7 349.3L478.0 350.3L478.3 350.3L478.6 350.3L478.9 351.9L479.2 351.9L479.5 351.9L479.8 351.9L480.1 351.9L480.4 351.6L480.7 351.5L481.0 351.5L481.3 351.8L481.6 351.8L481.9 351.8L482.2 351.8L482.5 351.8L482.8 349.5L483.1 349.5L483.4 350.8L483.7 350.8L484.0 350.8L484.3 350.8L484.6 350.8L484.9 350.0L485.2 350.4L485.5 350.4L485.8 350.4L486.1 350.4L486.4 352.2L486.7 352.8L487.0 352.8L487.3 352.8L487.6 352.8L487.9 352.8L488.2 351.3L488.5 352.9L488.8 352.9L489.1 352.9L489.4 352.9L489.7 352.9L490.0 351.8L490.3 349.8L490.6 349.8L490.9 347.5L491.2 347.5L491.5 350.2L491.8 350.2L492.1 350.2L492.4 350.2L492.7 350.2L493.0 352.1L493.3 352.1L493.6 352.1L493.9 352.1L494.2 352.1L494.5 347.2L494.8 348.1L495.1 350.4L495.4 350.4L495.7 350.4L496.0 350.4L496.3 350.4L496.6 350.4L496.9 350.4L497.2 350.4L497.5 350.4L497.8 350.2L498.1 350.2L498.4 349.2L498.7 349.2L499.0 349.2L499.3 349.2L499.6 347.9L499.9 347.9L500.2 349.9L500.5 349.9L500.8 349.9L501.1 352.2L501.4 352.2L501.7 352.2L502.0 352.2L502.3 352.2L502.6 348.6L502.9 348.6L503.2 351.1L503.5 351.1L503.8 351.1L504.1 351.1L504.4 351.1L504.7 350.5L505.0 353.6L505.3 353.6L505.6 353.6L505.9 353.6L506.2 353.6L506.5 352.0L506.8 351.9L507.1 352.3L507.4 352.3L507.7 352.3L508.0 352.3L508.3 352.3L508.6 353.0L508.9 353.0L509.2 353.0L509.5 353.3L509.8 353.3L510.1 353.3L510.4 353.3L510.7 353.3L511.0 351.3L511.3 351.3L511.6 351.3L511.9 351.3L512.2 347.9L512.5 347.9L512.8 348.9L513.1 348.9L513.4 348.9L513.7 348.9L514.0 349.1L514.3 349.1L514.6 351.3L514.9 351.3L515.2 351.3L515.5 351.3L515.8 351.3L516.1 351.2L516.4 351.2L516.7 351.5L517.0 351.5L517.3 351.5L517.6 351.5L517.9 351.5L518.2 351.5L518.5 351.5L518.8 351.5L519.1 351.3L519.4 351.3L519.7 350.4L520.0 350.4L520.3 350.4L520.6 352.7L520.9 352.7L521.2 352.7L521.5 352.7L521.8 352.7L522.1 351.0L522.4 351.0L522.7 351.0L523.0 350.2L523.3 350.2L523.6 350.2L523.9 350.2L524.2 350.9L524.5 350.9L524.8 350.9L525.1 350.9L525.4 350.9L525.7 348.7L526.0 348.7L526.3 348.7L526.6 349.1L526.9 349.1L527.2 349.8L527.5 349.8L527.8 349.8L528.1 349.8L528.4 349.8L528.7 346.2L529.0 352.1L529.3 352.1L529.6 352.1L529.9 352.1L530.2 352.1L530.5 351.7L530.8 351.7L531.1 350.2L531.4 349.0L531.7 349.0L532.0 349.0L532.3 349.3L532.6 351.4L532.9 353.1L533.2 353.1L533.5 353.1L533.8 353.1L534.1 353.1L534.4 352.3L534.7 352.6L535.0 352.6L535.3 352.6L535.6 352.6L535.9 352.6L536.2 351.1L536.5 351.1L536.8 351.1L537.1 351.1L537.4 351.1L537.7 350.5L538.0 350.1L538.3 350.1L538.6 350.1L538.9 349.5L539.2 349.3L539.5 349.3L539.8 349.3L540.1 349.3L540.4 347.9L540.7 349.2L541.0 349.2L541.3 349.2L541.6 349.2L541.9 350.4L542.2 353.5L542.5 353.5L542.8 353.5L543.1 353.5L543.4 353.5L543.7 351.4L544.0 350.4L544.3 350.3L544.6 350.3L544.9 352.5L545.2 352.5L545.5 353.3L545.8 353.3L546.1 353.3L546.4 353.3L546.7 353.3L547.0 351.6L547.3 350.8L547.6 351.5L547.9 351.5L548.2 351.5L548.5 351.5L548.8 351.5L549.1 351.2L549.4 351.2L549.7 353.2L550.0 353.2L550.3 353.2L550.6 353.2L550.9 353.2L551.2 351.9L551.5 351.9L551.8 352.2L552.1 352.2L552.4 352.2L552.7 352.2L553.0 352.2L553.3 349.4L553.6 349.4L553.9 351.6L554.2 351.6L554.5 351.6L554.8 351.6L555.1 351.6L555.4 348.6L555.7 348.6L556.0 350.8L556.3 350.8L556.6 352.3L556.9 352.3L557.2 352.3L557.5 352.3L557.8 352.3L558.1 350.9L558.4 350.9L558.7 350.9L559.0 350.8L559.3 347.2L559.6 347.2L559.9 350.0L560.2 350.0L560.5 350.2L560.8 350.2L561.1 350.2L561.4 350.2L561.7 350.2L562.0 343.4L562.3 347.3L562.6 347.3L562.9 347.3L563.2 348.5L563.5 348.5L563.8 348.5L564.1 348.5L564.4 348.5L564.7 341.5L565.0 345.3L565.3 347.2L565.6 347.2L565.9 349.4L566.2 349.6L566.5 350.0L566.8 350.0L567.1 350.0L567.4 350.0L567.7 350.0L568.0 349.4L568.3 348.2L568.6 343.6L568.9 347.4L569.2 347.4L569.5 352.4L569.8 352.4L570.1 353.2L570.4 353.2L570.7 353.2L571.0 353.2L571.3 353.2L571.6 352.6L571.9 352.6L572.2 352.6L572.5 351.4L572.8 351.4L573.1 349.9L573.4 349.9L573.7 349.0L574.0 349.0L574.3 348.9L574.6 348.9L574.9 351.2L575.2 351.2L575.5 351.2L575.8 351.2L576.1 351.2L576.4 350.5L576.7 350.5L577.0 350.5L577.3 350.5L577.6 351.8L577.9 351.8L578.2 352.0L578.5 352.8L578.8 352.8L579.1 352.8L579.4 352.8L579.7 352.8L580.0 353.8L580.3 353.8L580.6 353.8L580.9 353.8L581.2 353.8L581.5 350.8L581.8 350.8L582.1 347.0L582.4 345.7L582.7 345.7L583.0 349.2L583.3 349.2L583.6 349.2L583.9 349.2L584.2 349.2L584.5 348.9L584.8 348.9L585.1 348.9L585.4 348.9L585.7 348.9L586.0 347.3L586.3 349.0L586.6 349.0L586.9 349.0L587.2 349.0L587.5 349.0L587.8 349.3L588.1 349.3L588.4 349.3L588.7 351.6L589.0 352.6L589.3 352.6L589.6 352.6L589.9 352.6L590.2 352.6L590.5 351.3L590.8 353.1L591.1 353.1L591.4 353.1L591.7 353.1L592.0 353.1L592.3 347.0L592.6 347.0L592.9 348.6L593.2 349.8L593.5 349.8L593.8 350.4L594.1 350.4L594.4 350.4L594.7 350.4L595.0 350.4L595.3 347.5L595.6 349.7L595.9 349.7L596.2 350.7L596.5 350.7L596.8 351.3L597.1 351.3L597.4 351.4L597.7 351.4L598.0 351.4L598.3 351.4L598.6 351.4L598.9 350.4L599.2 350.4L599.5 350.4L599.8 350.4L600.1 350.4L600.4 348.8L600.7 348.8L601.0 349.0L601.3 349.6L601.6 349.6L601.9 349.6L602.2 349.8L602.5 349.8L602.8 350.3L603.1 350.3L603.4 351.2L603.7 351.2L604.0 353.5L604.3 353.5L604.6 353.5L604.9 353.5L605.2 353.5L605.5 350.8L605.8 350.8L606.1 350.8L606.4 350.7L606.7 350.7L607.0 351.1L607.3 351.1L607.6 351.1L607.9 351.2L608.2 351.2L608.5 353.0L608.8 353.0L609.1 353.0L609.4 353.0L609.7 353.0L610.0 349.6L610.3 351.2L610.6 351.2L610.9 351.2L611.2 351.2L611.5 351.2L611.8 350.9L612.1 349.1L612.4 349.1L612.7 349.1L613.0 348.5L613.3 346.9L613.6 347.3L613.9 352.0L614.2 352.0L614.5 352.0L614.8 352.0L615.1 352.0L615.4 351.8L615.7 351.8L616.0 351.8L616.3 351.8L616.6 351.5L616.9 351.5L617.2 351.5L617.5 351.0L617.8 351.0L618.1 351.0L618.4 351.0L618.7 351.0L619.0 348.7L619.3 348.7L619.6 350.3L619.9 352.9L620.2 353.1L620.5 353.1L620.8 353.1L621.1 353.1L621.4 353.1L621.7 351.9L622.0 351.9L622.3 351.2L622.2 351.2L622.2 364.7L622.3 364.7L622.0 363.2L621.7 363.2L621.4 363.2L621.1 363.2L620.8 363.2L620.5 363.6L620.2 363.6L619.9 363.6L619.6 363.9L619.3 363.9L619.0 363.9L618.7 363.9L618.4 363.9L618.1 365.0L617.8 366.3L617.5 366.3L617.2 365.3L616.9 365.3L616.6 365.3L616.3 365.3L616.0 365.3L615.7 366.9L615.4 365.6L615.1 365.6L614.8 365.6L614.5 365.6L614.2 365.0L613.9 365.0L613.6 365.0L613.3 365.0L613.0 365.0L612.7 364.7L612.4 364.7L612.1 364.7L611.8 364.7L611.5 364.7L611.2 366.1L610.9 366.1L610.6 366.1L610.3 366.1L610.0 365.8L609.7 363.8L609.4 363.7L609.1 363.7L608.8 363.7L608.5 363.7L608.2 363.7L607.9 365.4L607.6 365.4L607.3 364.8L607.0 364.8L606.7 364.0L606.4 363.3L606.1 363.3L605.8 363.3L605.5 363.3L605.2 363.3L604.9 361.4L604.6 361.4L604.3 361.4L604.0 361.4L603.7 361.4L603.4 366.1L603.1 366.1L602.8 366.1L602.5 365.2L602.2 363.8L601.9 363.8L601.6 363.8L601.3 363.8L601.0 363.8L600.7 363.5L600.4 363.5L600.1 363.5L599.8 363.5L599.5 363.5L599.2 367.0L598.9 367.0L598.6 367.1L598.3 367.1L598.0 367.5L597.7 364.4L597.4 364.4L597.1 364.4L596.8 364.4L596.5 364.4L596.2 365.1L595.9 365.1L595.6 365.1L595.3 365.1L595.0 366.2L594.7 363.5L594.4 363.5L594.1 363.5L593.8 363.5L593.5 363.5L593.2 365.3L592.9 365.3L592.6 366.6L592.3 365.2L592.0 364.7L591.7 364.7L591.4 364.7L591.1 364.7L590.8 364.7L590.5 364.6L590.2 364.6L589.9 364.6L589.6 363.8L589.3 363.8L589.0 363.8L588.7 363.8L588.4 363.8L588.1 364.5L587.8 364.5L587.5 364.5L587.2 364.5L586.9 364.5L586.6 367.2L586.3 367.2L586.0 364.6L585.7 364.6L585.4 364.6L585.1 364.6L584.8 363.3L584.5 363.3L584.2 362.1L583.9 362.1L583.6 362.1L583.3 362.1L583.0 362.1L582.7 362.7L582.4 362.7L582.1 362.7L581.8 362.7L581.5 362.7L581.2 365.4L580.9 363.7L580.6 363.7L580.3 363.7L580.0 363.7L579.7 363.7L579.4 364.4L579.1 365.4L578.8 364.8L578.5 363.7L578.2 363.7L577.9 363.7L577.6 363.7L577.3 363.6L577.0 363.6L576.7 362.1L576.4 362.1L576.1 362.1L575.8 362.1L575.5 362.1L575.2 364.6L574.9 364.6L574.6 364.6L574.3 364.6L574.0 364.6L573.7 365.4L573.4 365.4L573.1 365.4L572.8 365.4L572.5 365.4L572.2 364.3L571.9 361.1L571.6 361.1L571.3 361.1L571.0 361.1L570.7 361.1L570.4 363.7L570.1 363.7L569.8 365.7L569.5 364.5L569.2 364.5L568.9 364.5L568.6 364.5L568.3 364.5L568.0 365.8L567.7 365.8L567.4 367.8L567.1 370.6L566.8 369.1L566.5 369.1L566.2 368.6L565.9 367.2L565.6 367.2L565.3 367.2L565.0 367.2L564.7 367.2L564.4 366.3L564.1 366.3L563.8 366.3L563.5 365.1L563.2 365.1L562.9 365.1L562.6 365.1L562.3 365.1L562.0 366.9L561.7 367.7L561.4 367.7L561.1 369.8L560.8 366.3L560.5 366.3L560.2 366.3L559.9 366.3L559.6 366.3L559.3 368.4L559.0 369.2L558.7 367.9L558.4 367.9L558.1 366.8L557.8 365.7L557.5 365.7L557.2 362.0L556.9 362.0L556.6 362.0L556.3 362.0L556.0 362.0L555.7 364.5L555.4 363.3L555.1 363.3L554.8 363.3L554.5 363.3L554.2 363.3L553.9 365.1L553.6 364.6L553.3 364.6L553.0 364.6L552.7 364.6L552.4 364.6L552.1 365.0L551.8 365.0L551.5 365.5L551.2 363.0L550.9 363.0L550.6 363.0L550.3 363.0L550.0 363.0L549.7 364.3L549.4 364.3L549.1 364.8L548.8 364.8L548.5 364.8L548.2 364.9L547.9 365.4L547.6 365.6L547.3 365.0L547.0 365.0L546.7 365.0L546.4 364.8L546.1 364.8L545.8 364.8L545.5 364.8L545.2 364.8L544.9 364.8L544.6 364.8L544.3 364.8L544.0 365.3L543.7 365.3L543.4 365.3L543.1 365.3L542.8 369.9L542.5 369.9L542.2 369.9L541.9 364.8L541.6 364.8L541.3 364.8L541.0 364.8L540.7 364.8L540.4 366.7L540.1 364.3L539.8 364.3L539.5 364.3L539.2 364.2L538.9 364.2L538.6 364.2L538.3 364.2L538.0 364.2L537.7 365.5L537.4 366.3L537.1 366.3L536.8 366.3L536.5 364.9L536.2 364.9L535.9 364.9L535.6 363.4L535.3 363.4L535.0 363.4L534.7 363.4L534.4 363.4L534.1 364.2L533.8 366.1L533.5 366.3L533.2 366.3L532.9 367.4L532.6 367.0L532.3 367.0L532.0 367.0L531.7 367.0L531.4 366.8L531.1 364.8L530.8 364.8L530.5 364.8L530.2 364.8L529.9 364.3L529.6 363.5L529.3 363.5L529.0 363.5L528.7 363.5L528.4 363.5L528.1 369.1L527.8 367.1L527.5 364.7L527.2 362.9L526.9 362.8L526.6 362.8L526.3 362.8L526.0 362.8L525.7 362.8L525.4 364.3L525.1 363.5L524.8 363.5L524.5 363.2L524.2 363.2L523.9 363.2L523.6 363.2L523.3 363.2L523.0 365.8L522.7 365.8L522.4 365.1L522.1 365.1L521.8 362.3L521.5 362.3L521.2 362.3L520.9 362.3L520.6 362.3L520.3 364.1L520.0 365.1L519.7 366.8L519.4 365.2L519.1 364.6L518.8 364.6L518.5 363.3L518.2 363.3L517.9 363.3L517.6 363.3L517.3 363.3L517.0 364.9L516.7 364.5L516.4 364.1L516.1 364.1L515.8 364.1L515.5 364.1L515.2 364.1L514.9 364.8L514.6 365.0L514.3 365.0L514.0 365.1L513.7 363.9L513.4 363.9L513.1 363.9L512.8 363.9L512.5 363.1L512.2 363.1L511.9 363.1L511.6 363.1L511.3 363.1L511.0 363.2L510.7 363.2L510.4 365.0L510.1 365.0L509.8 365.0L509.5 365.0L509.2 365.0L508.9 367.1L508.6 367.1L508.3 365.7L508.0 365.7L507.7 365.7L507.4 364.3L507.1 363.9L506.8 363.7L506.5 363.7L506.2 363.7L505.9 363.7L505.6 363.7L505.3 364.5L505.0 364.5L504.7 364.5L504.4 364.5L504.1 364.8L503.8 364.8L503.5 364.9L503.2 364.9L502.9 364.9L502.6 363.5L502.3 363.5L502.0 363.5L501.7 363.2L501.4 363.2L501.1 363.2L500.8 363.2L500.5 363.2L500.2 363.2L499.9 363.2L499.6 363.2L499.3 363.2L499.0 363.2L498.7 364.7L498.4 364.7L498.1 362.8L497.8 362.8L497.5 362.8L497.2 362.8L496.9 362.8L496.6 363.0L496.3 363.0L496.0 362.0L495.7 362.0L495.4 362.0L495.1 362.0L494.8 362.0L494.5 364.6L494.2 364.6L493.9 365.7L493.6 365.7L493.3 366.8L493.0 367.6L492.7 367.6L492.4 364.6L492.1 364.6L491.8 364.6L491.5 364.6L491.2 364.6L490.9 366.3L490.6 366.8L490.3 366.8L490.0 365.4L489.7 364.9L489.4 363.1L489.1 363.1L488.8 363.1L488.5 363.1L488.2 363.1L487.9 364.1L487.6 364.1L487.3 364.3L487.0 364.3L486.7 364.3L486.4 364.3L486.1 364.3L485.8 368.9L485.5 365.7L485.2 365.7L484.9 365.7L484.6 365.7L484.3 365.7L484.0 363.3L483.7 363.3L483.4 363.3L483.1 363.3L482.8 363.3L482.5 363.5L482.2 363.5L481.9 363.5L481.6 361.4L481.3 361.4L481.0 361.4L480.7 361.4L480.4 361.4L480.1 362.2L479.8 363.7L479.5 365.9L479.2 366.9L478.9 364.3L478.6 364.3L478.3 364.3L478.0 364.3L477.7 364.3L477.4 365.2L477.1 365.8L476.8 365.8L476.5 365.8L476.2 365.0L475.9 364.5L475.6 364.5L475.3 364.5L475.0 364.5L474.7 364.5L474.4 366.2L474.1 366.2L473.8 367.7L473.5 367.9L473.2 367.9L472.9 367.9L472.6 367.9L472.3 369.2L472.0 367.2L471.7 367.2L471.4 367.2L471.1 367.2L470.8 367.2L470.5 367.6L470.2 368.5L469.9 365.8L469.6 365.8L469.3 365.8L469.0 365.8L468.7 365.8L468.4 366.8L468.1 367.3L467.8 367.3L467.5 361.9L467.2 361.9L466.9 361.9L466.6 361.9L466.3 361.9L466.0 362.5L465.7 362.5L465.4 363.7L465.1 364.4L464.8 364.4L464.5 366.0L464.2 364.0L463.9 364.0L463.6 364.0L463.3 364.0L463.0 364.0L462.7 363.1L462.4 363.1L462.1 363.1L461.8 363.1L461.5 362.4L461.2 362.4L460.9 362.4L460.6 362.4L460.3 362.4L460.0 365.3L459.7 362.3L459.4 362.3L459.1 362.3L458.8 362.3L458.5 362.3L458.2 362.9L457.9 362.9L457.6 366.5L457.3 364.0L457.0 363.1L456.7 363.1L456.4 363.1L456.1 363.1L455.8 363.1L455.5 363.2L455.2 363.2L454.9 362.9L454.6 362.2L454.3 362.2L454.0 362.2L453.7 362.2L453.4 362.2L453.1 363.1L452.8 363.1L452.5 363.1L452.2 363.1L451.9 363.1L451.6 363.4L451.3 363.4L451.0 363.4L450.7 363.4L450.4 363.6L450.1 363.6L449.8 363.6L449.5 363.2L449.2 363.2L448.9 361.3L448.6 361.3L448.3 361.3L448.0 361.3L447.7 361.3L447.4 362.3L447.1 362.3L446.8 362.3L446.5 362.3L446.2 362.3L445.9 362.3L445.6 362.3L445.3 362.3L445.0 362.3L444.7 362.3L444.4 363.1L444.1 363.1L443.8 363.6L443.5 363.7L443.2 362.3L442.9 362.3L442.6 362.3L442.3 361.0L442.0 361.0L441.7 361.0L441.4 361.0L441.1 361.0L440.8 363.8L440.5 363.8L440.2 363.8L439.9 363.7L439.6 361.5L439.3 361.5L439.0 361.5L438.7 361.5L438.4 361.5L438.1 362.2L437.8 362.2L437.5 362.2L437.2 362.2L436.9 362.2L436.6 365.4L436.3 365.2L436.0 365.2L435.7 365.2L435.4 362.8L435.1 362.8L434.8 362.8L434.5 362.8L434.2 362.8L433.9 363.9L433.6 363.3L433.3 363.2L433.0 363.2L432.7 363.2L432.4 363.2L432.1 363.2L431.8 365.7L431.5 364.9L431.2 364.9L430.9 364.9L430.6 364.9L430.3 364.9L430.0 364.3L429.7 364.3L429.4 364.3L429.1 363.8L428.8 363.8L428.5 362.1L428.2 362.1L427.9 362.1L427.6 362.1L427.3 362.1L427.0 364.2L426.7 364.7L426.4 363.8L426.1 363.8L425.8 363.8L425.5 363.8L425.2 363.8L424.9 363.9L424.6 363.9L424.3 365.9L424.0 365.9L423.7 362.2L423.4 362.2L423.1 362.2L422.8 362.2L422.5 362.2L422.2 363.3L421.9 363.3L421.6 363.3L421.3 363.3L421.0 363.3L420.7 363.9L420.4 363.9L420.1 364.6L419.8 364.6L419.5 365.4L419.2 364.1L418.9 364.1L418.6 364.1L418.3 364.1L418.0 364.1L417.7 364.6L417.4 364.6L417.1 364.6L416.8 364.0L416.5 362.0L416.2 362.0L415.9 362.0L415.6 362.0L415.3 362.0L415.0 365.6L414.7 365.6L414.4 365.6L414.1 365.2L413.8 365.2L413.5 365.2L413.2 364.5L412.9 364.5L412.6 364.5L412.3 364.5L412.0 361.2L411.7 361.2L411.4 361.2L411.1 361.2L410.8 361.2L410.5 362.6L410.2 362.6L409.9 364.0L409.6 364.0L409.3 364.0L409.0 364.9L408.7 365.0L408.4 363.7L408.1 363.7L407.8 363.7L407.5 363.7L407.2 363.7L406.9 364.0L406.6 364.0L406.3 364.0L406.0 364.6L405.7 364.6L405.4 361.9L405.1 361.6L404.8 361.6L404.5 361.6L404.2 361.6L403.9 361.6L403.6 362.5L403.3 362.9L403.0 364.8L402.7 364.8L402.4 366.0L402.1 364.8L401.8 362.8L401.5 362.8L401.2 362.8L400.9 362.8L400.6 362.2L400.3 362.2L400.0 362.2L399.7 362.2L399.4 362.2L399.1 362.9L398.8 362.9L398.5 362.9L398.2 362.8L397.9 362.8L397.6 362.8L397.3 362.8L397.0 362.8L396.7 365.5L396.4 365.5L396.1 365.5L395.8 365.5L395.5 364.3L395.2 364.3L394.9 364.3L394.6 364.3L394.3 364.3L394.0 364.6L393.7 364.6L393.4 364.6L393.1 364.6L392.8 365.0L392.5 365.0L392.2 365.0L391.9 365.0L391.6 366.0L391.3 366.0L391.0 366.0L390.7 366.0L390.4 365.9L390.1 365.7L389.8 365.7L389.5 365.7L389.2 365.7L388.9 363.5L388.6 363.5L388.3 363.5L388.0 362.0L387.7 362.0L387.4 362.0L387.1 362.0L386.8 362.0L386.5 365.9L386.2 366.1L385.9 365.0L385.6 365.0L385.3 365.0L385.0 365.0L384.7 365.0L384.4 365.0L384.1 365.1L383.8 365.9L383.5 365.4L383.2 364.9L382.9 363.5L382.6 363.5L382.3 363.5L382.0 363.5L381.7 363.5L381.4 364.0L381.1 364.0L380.8 367.3L380.5 361.9L380.2 361.9L379.9 361.9L379.6 361.9L379.3 361.9L379.0 364.0L378.7 364.0L378.4 363.6L378.1 363.6L377.8 363.6L377.5 363.5L377.2 363.5L376.9 363.5L376.6 363.5L376.3 363.5L376.0 365.5L375.7 365.5L375.4 365.5L375.1 364.9L374.8 362.3L374.5 362.3L374.2 361.5L373.9 361.5L373.6 361.5L373.3 361.5L373.0 361.5L372.7 364.2L372.4 365.5L372.1 363.9L371.8 363.9L371.5 363.9L371.2 363.6L370.9 363.6L370.6 363.6L370.3 363.6L370.0 363.6L369.7 364.0L369.4 363.8L369.1 363.8L368.8 363.8L368.5 363.8L368.2 363.8L367.9 362.1L367.6 362.1L367.3 362.1L367.0 362.1L366.7 362.1L366.4 363.5L366.1 363.5L365.8 363.5L365.5 363.8L365.2 363.8L364.9 365.0L364.6 364.0L364.3 363.5L364.0 363.5L363.7 363.5L363.4 363.5L363.1 363.5L362.8 366.4L362.5 364.8L362.2 364.8L361.9 364.8L361.6 364.8L361.3 364.8L361.0 364.2L360.7 364.2L360.4 364.2L360.1 364.2L359.8 364.2L359.5 365.1L359.2 365.1L358.9 365.3L358.6 365.3L358.3 364.9L358.0 364.9L357.7 364.9L357.4 364.9L357.1 364.9L356.8 366.2L356.5 366.2L356.2 365.1L355.9 365.1L355.6 365.1L355.3 365.1L355.0 364.1L354.7 364.1L354.4 364.1L354.1 364.1L353.8 364.1L353.5 364.4L353.2 364.4L352.9 364.4L352.6 364.4L352.3 364.4L352.0 365.6L351.7 363.6L351.4 363.6L351.1 363.6L350.8 363.6L350.5 363.6L350.2 363.9L349.9 363.9L349.6 365.6L349.3 366.3L349.0 365.8L348.7 365.8L348.4 365.8L348.1 365.8L347.8 365.6L347.5 365.6L347.2 365.6L346.9 365.6L346.6 364.5L346.3 364.5L346.0 364.5L345.7 364.0L345.4 364.0L345.1 364.0L344.8 364.0L344.5 363.8L344.2 363.8L343.9 363.8L343.6 363.8L343.3 363.8L343.0 364.1L342.7 365.8L342.4 368.3L342.1 368.3L341.8 367.9L341.5 367.9L341.2 366.3L340.9 366.3L340.6 365.6L340.3 365.6L340.0 365.6L339.7 365.6L339.4 365.6L339.1 366.1L338.8 366.3L338.5 365.2L338.2 364.0L337.9 364.0L337.6 364.0L337.3 364.0L337.0 364.0L336.7 364.6L336.4 364.6L336.1 364.6L335.8 363.6L335.5 363.6L335.2 363.6L334.9 363.6L334.6 363.6L334.3 363.7L334.0 363.7L333.7 363.7L333.4 364.9L333.1 363.7L332.8 363.7L332.5 363.7L332.2 363.7L331.9 363.7L331.6 365.0L331.3 365.0L331.0 365.5L330.7 365.5L330.4 365.5L330.1 365.5L329.8 365.4L329.5 365.4L329.2 365.4L328.9 365.4L328.6 365.4L328.3 365.6L328.0 365.6L327.7 365.6L327.4 366.5L327.1 366.5L326.8 363.8L326.5 363.8L326.2 363.8L325.9 363.8L325.6 363.8L325.3 365.7L325.0 365.7L324.7 367.1L324.4 362.2L324.1 362.2L323.8 362.2L323.5 362.2L323.2 362.2L322.9 366.9L322.6 366.9L322.3 366.9L322.0 366.9L321.7 366.9L321.4 368.1L321.1 368.1L320.8 368.1L320.5 367.0L320.2 367.0L319.9 367.0L319.6 367.0L319.3 367.0L319.0 371.1L318.7 372.5L318.4 376.0L318.1 376.3L317.8 372.5L317.5 372.5L317.2 370.8L316.9 370.8L316.6 370.8L316.3 366.9L316.0 366.9L315.7 366.9L315.4 366.9L315.1 366.9L314.8 369.8L314.5 369.3L314.2 365.7L313.9 365.7L313.6 365.7L313.3 365.7L313.0 365.7L312.7 365.7L312.4 365.7L312.1 366.7L311.8 369.3L311.5 369.3L311.2 365.9L310.9 365.9L310.6 365.9L310.3 365.9L310.0 365.9L309.7 371.3L309.4 374.0L309.1 374.0L308.8 373.1L308.5 373.1L308.2 373.1L307.9 369.7L307.6 369.7L307.3 369.4L307.0 369.4L306.7 369.4L306.4 369.4L306.1 369.4L305.8 372.4L305.5 372.4L305.2 369.3L304.9 369.3L304.6 369.3L304.3 369.3L304.0 368.0L303.7 368.0L303.4 368.0L303.1 368.0L302.8 368.0L302.5 369.7L302.2 369.7L301.9 369.9L301.6 369.9L301.3 369.9L301.0 377.7L300.7 376.7L300.4 376.7L300.1 372.0L299.8 372.0L299.5 372.0L299.2 372.0L298.9 371.9L298.6 371.9L298.3 371.9L298.0 371.9L297.7 368.6L297.4 368.6L297.1 368.6L296.8 368.6L296.5 368.6L296.2 370.3L295.9 370.3L295.6 370.3L295.3 367.3L295.0 367.3L294.7 367.3L294.4 367.3L294.1 367.3L293.8 368.3L293.5 368.8L293.2 367.6L292.9 367.6L292.6 367.6L292.3 367.6L292.0 367.6L291.7 367.7L291.4 367.7L291.1 367.7L290.8 367.7L290.5 367.7L290.2 367.7L289.9 367.7L289.6 371.6L289.3 374.9L289.0 374.9L288.7 370.4L288.4 370.4L288.1 370.4L287.8 370.4L287.5 370.4L287.2 372.7L286.9 377.0L286.6 377.0L286.3 377.0L286.0 377.0L285.7 380.1L285.4 380.1L285.1 380.1L284.8 378.3L284.5 378.3L284.2 378.3L283.9 372.4L283.6 364.2L283.3 364.2L283.0 364.2L282.7 364.2L282.4 364.2L282.1 370.1L281.8 370.1L281.5 371.0L281.2 371.0L280.9 371.0L280.6 371.0L280.3 371.0L280.0 372.1L279.7 371.9L279.4 371.9L279.1 368.0L278.8 368.0L278.5 368.0L278.2 368.0L277.9 368.0L277.6 368.1L277.3 368.1L277.0 368.6L276.7 369.9L276.4 369.9L276.1 367.0L275.8 367.0L275.5 367.0L275.2 367.0L274.9 367.0L274.6 365.5L274.3 365.5L274.0 365.5L273.7 365.5L273.4 365.5L273.1 368.0L272.8 368.0L272.5 365.7L272.2 365.7L271.9 365.7L271.6 365.7L271.3 365.7L271.0 366.9L270.7 366.9L270.4 366.5L270.1 366.5L269.8 366.5L269.5 364.0L269.2 364.0L268.9 364.0L268.6 364.0L268.3 362.3L268.0 362.3L267.7 362.3L267.4 362.3L267.1 362.3L266.8 363.7L266.5 363.7L266.2 363.7L265.9 363.0L265.6 363.0L265.3 363.0L265.0 363.0L264.7 363.0L264.4 369.1L264.1 366.5L263.8 363.0L263.5 363.0L263.2 363.0L262.9 363.0L262.6 363.0L262.3 364.2L262.0 363.6L261.7 363.6L261.4 363.6L261.1 363.6L260.8 363.6L260.5 365.2L260.2 365.2L259.9 365.2L259.6 367.6L259.3 367.6L259.0 365.8L258.7 365.8L258.4 365.8L258.1 365.8L257.8 365.2L257.5 365.2L257.2 365.2L256.9 364.3L256.6 364.3L256.3 364.3L256.0 364.3L255.7 364.3L255.4 365.6L255.1 365.5L254.8 365.5L254.5 365.5L254.2 365.5L253.9 365.5L253.6 367.4L253.3 367.4L253.0 367.4L252.7 370.6L252.4 370.6L252.1 375.3L251.8 375.3L251.5 375.3L251.2 375.3L250.9 381.0L250.6 376.7L250.3 376.7L250.0 376.7L249.7 366.9L249.4 366.9L249.1 366.9L248.8 366.9L248.5 366.9L248.2 370.7L247.9 370.7L247.6 370.7L247.3 369.7L247.0 369.7L246.7 367.5L246.4 367.5L246.1 367.5L245.8 367.5L245.5 367.5L245.2 367.8L244.9 367.8L244.6 367.8L244.3 366.8L244.0 366.8L243.7 366.8L243.4 366.8L243.1 366.8L242.8 367.0L242.5 367.0L242.2 367.9L241.9 367.9L241.6 367.9L241.3 368.1L241.0 368.1L240.7 368.1L240.4 368.1L240.1 379.7L239.8 376.4L239.5 376.4L239.2 367.6L238.9 367.6L238.6 367.6L238.3 367.6L238.0 367.6L237.7 368.3L237.4 368.3L237.1 368.8L236.8 368.8L236.5 371.6L236.2 368.7L235.9 368.7L235.6 368.7L235.3 368.7L235.0 368.7L234.7 370.8L234.4 368.7L234.1 367.8L233.8 367.8L233.5 367.8L233.2 367.8L232.9 367.6L232.6 366.0L232.3 366.0L232.0 366.0L231.7 366.0L231.4 366.0L231.1 366.8L230.8 368.2L230.5 368.2L230.2 368.2L229.9 368.9L229.6 364.6L229.3 364.6L229.0 364.6L228.7 364.6L228.4 364.6L228.1 364.9L227.8 364.9L227.5 365.0L227.2 365.0L226.9 365.0L226.6 365.0L226.3 365.6L226.0 365.6L225.7 361.0L225.4 361.0L225.1 361.0L224.8 361.0L224.5 361.0L224.2 363.6L223.9 363.6L223.6 363.6L223.3 365.9L223.0 364.8L222.7 364.8L222.4 364.8L222.1 364.8L221.8 364.8L221.5 366.3L221.2 366.3L220.9 366.3L220.6 364.7L220.3 364.7L220.0 364.7L219.7 363.6L219.4 363.6L219.1 363.6L218.8 363.6L218.5 363.6L218.2 363.8L217.9 364.9L217.6 364.9L217.3 364.9L217.0 364.9L216.7 364.9L216.4 365.2L216.1 365.2L215.8 365.2L215.5 362.1L215.2 362.1L214.9 362.1L214.6 362.1L214.3 362.1L214.0 362.6L213.7 362.6L213.4 362.6L213.1 362.6L212.8 363.5L212.5 363.5L212.2 364.6L211.9 364.6L211.6 364.5L211.3 364.5L211.0 361.7L210.7 361.7L210.4 361.7L210.1 361.7L209.8 361.7L209.5 362.9L209.2 362.9L208.9 362.9L208.6 364.2L208.3 364.8L208.0 364.8L207.7 364.8L207.4 368.5L207.1 368.5L206.8 370.7L206.5 370.8L206.2 370.8L205.9 369.8L205.6 369.8L205.3 369.8L205.0 367.4L204.7 362.6L204.4 362.6L204.1 362.6L203.8 362.6L203.5 362.6L203.2 366.1L202.9 366.1L202.6 366.1L202.3 369.1L202.0 369.1L201.7 369.1L201.4 369.8L201.1 369.8L200.8 368.8L200.5 368.8L200.2 368.8L199.9 368.8L199.6 368.8L199.3 369.5L199.0 369.5L198.7 370.0L198.4 368.8L198.1 368.8L197.8 367.2L197.5 367.2L197.2 367.2L196.9 367.2L196.6 367.2L196.3 369.1L196.0 369.1L195.7 369.1L195.4 369.1L195.1 365.5L194.8 365.5L194.5 365.5L194.2 365.5L193.9 365.5L193.6 366.2L193.3 366.2L193.0 370.4L192.7 370.4L192.4 370.4L192.1 368.4L191.8 368.4L191.5 368.4L191.2 368.4L190.9 368.4L190.6 368.8L190.3 368.8L190.0 369.5L189.7 369.5L189.4 371.5L189.1 369.4L188.8 367.8L188.5 366.9L188.2 366.9L187.9 366.4L187.6 366.4L187.3 366.4L187.0 365.4L186.7 365.4L186.4 365.4L186.1 365.3L185.8 365.3L185.5 363.7L185.2 363.7L184.9 363.7L184.6 363.0L184.3 363.0L184.0 363.0L183.7 363.0L183.4 363.0L183.1 368.2L182.8 365.4L182.5 365.4L182.2 365.4L181.9 365.4L181.6 365.4L181.3 367.5L181.0 367.7L180.7 367.6L180.4 366.8L180.1 364.7L179.8 364.7L179.5 364.7L179.2 364.7L178.9 364.7L178.6 366.9L178.3 366.3L178.0 363.8L177.7 363.8L177.4 363.8L177.1 363.8L176.8 363.8L176.5 365.4L176.2 365.4L175.9 367.3L175.6 367.3L175.3 365.6L175.0 365.6L174.7 365.6L174.9 365.6Z" fill="#0000ff"/>
<path d="M174.70 348.2V365.6M175.00 344.6V372.1M175.30 346.5V372.3M175.60 346.4V367.3M175.90 347.6V371.7M176.20 347.4V372.2M176.50 349.7V370.7M176.80 349.9V365.4M177.10 348.1V368.7M177.40 348.6V363.8M177.70 349.4V366.3M178.00 346.8V370.6M178.30 350.9V371.4M178.60 351.0V369.0M178.90 347.3V366.9M179.20 344.9V367.7M179.50 348.2V364.7M179.80 347.1V366.8M180.10 347.4V367.6M180.40 348.4V369.1M180.70 346.7V374.5M181.00 344.2V369.3M181.30 345.1V367.7M181.60 346.5V375.2M181.90 348.4V367.5M182.20 341.8V365.4M182.50 343.7V374.1M182.80 346.1V369.6M183.10 344.6V368.4M183.40 347.9V368.8M183.70 348.2V368.2M184.00 350.1V363.0M184.30 346.1V376.9M184.60 345.5V369.3M184.90 344.5V363.7M185.20 347.1V370.0M185.50 346.8V365.3M185.80 339.3V373.0M186.10 345.8V369.5M186.40 344.6V365.4M186.70 341.2V372.1M187.00 345.0V370.6M187.30 346.9V366.4M187.60 346.3V367.8M187.90 347.9V366.9M188.20 342.2V367.8M188.50 343.8V369.4M188.80 342.1V372.0M189.10 338.8V372.0M189.40 342.3V376.1M189.70 342.0V371.5M190.00 336.3V378.8M190.30 347.6V369.5M190.60 345.7V377.0M190.90 336.5V368.8M191.20 347.4V373.0M191.50 343.7V368.4M191.80 342.3V371.3M192.10 345.2V370.7M192.40 347.2V371.4M192.70 351.0V370.8M193.00 350.4V370.4M193.30 342.2V371.6M193.60 344.1V370.4M193.90 349.6V366.2M194.20 346.0V369.3M194.50 347.3V365.5M194.80 349.4V391.2M195.10 342.8V371.0M195.40 337.4V372.8M195.70 347.8V369.1M196.00 341.9V374.7M196.30 345.5V369.5M196.60 347.0V371.2M196.90 338.0V380.7M197.20 343.7V367.2M197.50 346.6V380.3M197.80 336.6V368.8M198.10 344.1V374.1M198.40 343.5V374.3M198.70 338.2V372.3M199.00 341.1V370.3M199.30 347.3V370.0M199.60 344.4V369.5M199.90 338.6V370.1M200.20 333.2V368.8M200.50 349.7V373.4M200.80 345.8V375.7M201.10 348.3V373.8M201.40 327.5V372.8M201.70 342.8V369.8M202.00 350.0V371.5M202.30 344.3V369.1M202.60 337.8V371.8M202.90 341.7V378.4M203.20 342.6V366.1M203.50 340.7V374.2M203.80 341.5V377.9M204.10 339.1V362.6M204.40 346.6V367.4M204.70 339.7V374.1M205.00 341.2V373.7M205.30 348.3V369.8M205.60 348.9V378.2M205.90 344.5V373.6M206.20 340.1V372.9M206.50 344.5V372.3M206.80 348.2V370.8M207.10 337.5V375.1M207.40 340.8V370.7M207.70 345.9V368.5M208.00 342.9V368.8M208.30 342.4V364.8M208.60 341.0V369.4M208.90 337.0V369.4M209.20 342.1V364.2M209.50 348.0V362.9M209.80 347.0V364.8M210.10 347.2V365.3M210.40 335.0V361.7M210.70 350.7V368.5M211.00 349.4V364.5M211.30 348.4V368.4M211.60 349.9V365.7M211.90 345.8V365.9M212.20 347.1V364.6M212.50 349.4V365.1M212.80 350.1V365.6M213.10 348.2V363.5M213.40 351.2V367.4M213.70 347.2V362.6M214.00 349.4V364.2M214.30 346.0V364.9M214.60 349.4V366.9M214.90 340.6V362.1M215.20 351.5V368.6M215.50 350.3V366.1M215.80 343.6V368.4M216.10 348.7V366.1M216.40 350.2V365.2M216.70 350.9V365.7M217.00 346.0V367.4M217.30 344.9V364.9M217.60 345.6V369.0M217.90 346.1V366.0M218.20 344.6V366.1M218.50 344.6V366.2M218.80 348.1V363.8M219.10 348.5V363.6M219.40 340.7V366.1M219.70 350.0V367.5M220.00 344.8V364.7M220.30 347.1V367.6M220.60 344.2V373.3M220.90 348.6V369.0M221.20 345.2V366.3M221.50 347.3V367.0M221.80 348.9V368.9M222.10 348.5V371.2M222.40 351.8V364.8M222.70 349.1V368.8M223.00 349.0V365.9M223.30 347.8V368.3M223.60 349.8V367.4M223.90 351.1V368.6M224.20 352.6V363.6M224.50 350.1V365.0M224.80 351.9V366.9M225.10 345.7V361.0M225.40 349.2V366.2M225.70 346.4V365.6M226.00 347.8V366.1M226.30 351.2V366.9M226.60 346.7V366.8M226.90 347.8V367.6M227.20 349.5V365.0M227.50 349.7V370.2M227.80 350.1V367.0M228.10 348.7V368.3M228.40 350.5V364.9M228.70 348.3V368.4M229.00 350.1V364.6M229.30 352.2V369.9M229.60 346.6V374.4M229.90 350.0V374.7M230.20 350.8V369.7M230.50 345.9V368.9M230.80 346.0V368.2M231.10 352.4V372.3M231.40 344.6V370.9M231.70 341.1V366.8M232.00 346.1V366.0M232.30 342.5V367.6M232.60 346.1V369.3M232.90 345.7V369.8M233.20 345.5V377.9M233.50 346.2V367.8M233.80 339.5V368.7M234.10 345.1V370.8M234.40 346.1V372.7M234.70 350.6V374.2M235.00 345.0V381.1M235.30 341.1V372.7M235.60 327.5V368.7M235.90 330.7V372.7M236.20 334.0V375.2M236.50 306.9V371.6M236.80 322.4V374.5M237.10 345.5V377.3M237.40 338.5V368.8M237.70 327.4V379.6M238.00 341.4V368.3M238.30 347.0V373.3M238.60 338.9V367.6M238.90 336.3V382.4M239.20 337.0V376.4M239.50 329.4V379.7M239.80 334.8V388.2M240.10 344.3V383.0M240.40 324.4V384.1M240.70 335.2V386.1M241.00 344.1V368.1M241.30 342.5V376.0M241.60 345.1V383.8M241.90 349.0V371.2M242.20 343.2V367.9M242.50 348.0V369.9M242.80 350.0V368.0M243.10 340.0V367.0M243.40 342.1V373.1M243.70 343.9V366.8M244.00 342.3V367.8M244.30 347.7V373.7M244.60 343.3V368.1M244.90 340.1V374.2M245.20 340.1V368.8M245.50 339.0V367.8M245.80 347.4V373.0M246.10 341.6V367.5M246.40 339.6V369.8M246.70 347.5V369.7M247.00 347.5V371.8M247.30 345.5V371.0M247.60 341.3V372.7M247.90 332.8V370.7M248.20 336.0V381.2M248.50 343.1V384.9M248.80 306.9V375.6M249.10 328.0V366.9M249.40 335.4V404.4M249.70 337.1V377.8M250.00 337.5V376.7M250.30 337.7V383.0M250.60 342.8V383.2M250.90 331.9V384.7M251.20 344.1V382.5M251.50 325.8V381.0M251.80 344.8V375.3M252.10 342.4V376.4M252.40 339.1V377.1M252.70 345.8V382.9M253.00 341.6V370.6M253.30 342.7V371.4M253.60 335.3V367.4M253.90 344.4V368.5M254.20 339.0V380.3M254.50 342.6V365.5M254.80 340.0V372.3M255.10 331.2V371.5M255.40 345.5V365.9M255.70 350.1V365.6M256.00 348.1V374.1M256.30 351.7V364.3M256.60 351.2V368.8M256.90 347.4V366.6M257.20 349.1V365.2M257.50 350.8V366.1M257.80 349.1V368.4M258.10 346.1V370.5M258.40 351.5V365.8M258.70 345.3V369.8M259.00 341.8V367.6M259.30 340.0V371.0M259.60 349.6V369.6M259.90 345.3V368.3M260.20 348.4V368.3M260.50 344.0V365.2M260.80 349.6V369.0M261.10 348.0V370.9M261.40 348.5V363.6M261.70 351.1V367.4M262.00 345.3V366.9M262.30 343.2V364.2M262.60 345.2V366.8M262.90 336.1V366.0M263.20 335.1V363.0M263.50 347.6V366.5M263.80 349.2V370.1M264.10 347.6V380.0M264.40 347.4V374.2M264.70 341.2V372.6M265.00 351.4V369.1M265.30 350.5V363.0M265.60 343.8V366.7M265.90 345.9V366.2M266.20 341.8V364.2M266.50 346.2V371.4M266.80 345.1V363.7M267.10 339.4V368.8M267.40 348.5V376.5M267.70 346.1V362.3M268.00 347.3V367.8M268.30 339.7V367.3M268.60 341.5V365.7M268.90 335.1V364.0M269.20 341.1V368.6M269.50 345.7V374.6M269.80 343.6V366.5M270.10 347.1V368.4M270.40 344.3V367.6M270.70 343.3V373.3M271.00 350.6V366.9M271.30 352.2V368.1M271.60 339.8V369.1M271.90 346.6V365.7M272.20 344.3V375.1M272.50 349.5V368.0M272.80 340.9V379.2M273.10 341.4V373.7M273.40 342.5V368.4M273.70 335.9V369.5M274.00 344.2V365.5M274.30 346.7V369.1M274.60 340.8V370.7M274.90 341.5V369.7M275.20 349.8V367.2M275.50 346.3V367.0M275.80 349.2V374.9M276.10 345.7V370.9M276.40 344.5V370.3M276.70 347.2V370.7M277.00 345.5V369.9M277.30 343.5V371.0M277.60 346.1V368.6M277.90 339.0V368.1M278.20 345.3V368.4M278.50 348.3V368.0M278.80 337.8V377.5M279.10 346.3V371.9M279.40 337.1V382.8M279.70 348.5V372.7M280.00 335.7V372.1M280.30 342.9V375.3M280.60 345.2V384.4M280.90 345.3V371.0M281.20 349.3V378.4M281.50 344.3V375.8M281.80 343.1V374.5M282.10 347.0V373.8M282.40 327.0V370.1M282.70 347.7V377.3M283.00 326.7V364.2M283.30 311.6V372.4M283.60 319.3V382.3M283.90 319.7V400.6M284.20 330.0V378.3M284.50 339.3V382.3M284.80 336.7V386.3M285.10 341.3V397.1M285.40 335.7V380.1M285.70 339.9V384.3M286.00 339.0V382.3M286.30 342.0V388.8M286.60 338.9V377.0M286.90 339.5V380.7M287.20 342.8V377.0M287.50 344.8V388.2M287.80 340.6V372.7M288.10 340.3V370.4M288.40 343.0V377.4M288.70 349.7V377.6M289.00 345.4V378.3M289.30 342.6V374.9M289.60 344.1V381.7M289.90 343.3V379.3M290.20 339.0V371.6M290.50 336.3V367.7M290.80 350.2V371.7M291.10 340.5V367.7M291.40 348.1V379.6M291.70 342.8V373.4M292.00 331.9V374.2M292.30 333.1V374.8M292.60 333.0V367.6M292.90 330.8V368.8M293.20 320.0V374.6M293.50 345.6V377.3M293.80 334.3V371.1M294.10 339.0V369.2M294.40 340.5V368.3M294.70 344.6V367.3M295.00 336.6V386.0M295.30 345.5V370.4M295.60 346.0V389.4M295.90 349.9V383.4M296.20 347.5V370.3M296.50 350.6V370.7M296.80 341.6V375.1M297.10 333.5V368.6M297.40 336.8V378.2M297.70 337.0V373.9M298.00 327.6V371.9M298.30 342.4V371.9M298.60 346.3V381.6M298.90 340.6V373.4M299.20 343.8V373.4M299.50 333.5V372.0M299.80 331.2V382.9M300.10 339.4V376.7M300.40 343.3V382.6M300.70 341.3V390.1M301.00 341.4V397.8M301.30 329.0V378.0M301.60 341.3V377.7M301.90 345.5V369.9M302.20 339.0V382.5M302.50 345.0V370.7M302.80 348.9V369.7M303.10 343.8V372.8M303.40 341.5V368.0M303.70 338.2V373.3M304.00 324.7V383.0M304.30 347.6V378.8M304.60 345.0V369.3M304.90 348.6V374.3M305.20 347.9V373.6M305.50 345.7V372.4M305.80 345.4V378.7M306.10 343.5V376.9M306.40 351.1V378.9M306.70 350.7V369.4M307.00 346.5V371.1M307.30 341.3V369.7M307.60 333.2V380.7M307.90 323.8V373.2M308.20 344.4V373.1M308.50 338.4V395.0M308.80 333.6V379.7M309.10 338.1V383.3M309.40 344.1V385.1M309.70 339.9V374.0M310.00 333.9V379.3M310.30 338.6V371.3M310.60 328.1V365.9M310.90 345.9V372.4M311.20 349.6V370.4M311.50 340.3V369.3M311.80 346.8V372.7M312.10 344.5V380.0M312.40 336.4V376.4M312.70 347.0V366.7M313.00 335.9V365.7M313.30 338.0V366.7M313.60 346.5V365.7M313.90 341.6V369.3M314.20 347.2V379.4M314.50 347.9V370.5M314.80 345.2V369.8M315.10 348.3V378.6M315.40 345.6V375.4M315.70 341.6V366.9M316.00 340.6V371.8M316.30 350.2V376.3M316.60 336.0V370.8M316.90 334.7V377.8M317.20 338.9V372.5M317.50 345.6V377.5M317.80 331.1V385.6M318.10 339.8V384.9M318.40 331.2V385.7M318.70 337.5V376.3M319.00 336.5V376.0M319.30 346.5V372.5M319.60 338.1V371.1M319.90 346.5V367.0M320.20 348.8V375.3M320.50 343.4V369.6M320.80 349.5V374.0M321.10 350.7V368.1M321.40 350.2V374.2M321.70 344.0V376.2M322.00 351.2V379.1M322.30 331.2V366.9M322.60 338.2V369.6M322.90 345.3V386.7M323.20 347.4V369.6M323.50 344.8V368.5M323.80 340.0V362.2M324.10 339.5V368.1M324.40 343.0V367.3M324.70 338.8V367.1M325.00 343.1V368.5M325.30 346.2V371.8M325.60 351.3V365.7M325.90 350.3V371.7M326.20 348.8V363.8M326.50 346.7V375.0M326.80 337.6V366.8M327.10 349.3V370.3M327.40 341.9V371.1M327.70 347.3V366.5M328.00 345.0V368.2M328.30 345.0V365.6M328.60 341.6V369.7M328.90 343.9V368.7M329.20 348.1V365.4M329.50 348.8V366.3M329.80 349.1V366.9M330.10 349.7V366.7M330.40 344.2V365.5M330.70 340.6V366.6M331.00 351.0V371.6M331.30 333.1V375.4M331.60 342.6V369.9M331.90 342.2V365.0M332.20 345.5V365.8M332.50 346.2V363.7M332.80 345.2V367.5M333.10 343.2V364.9M333.40 346.7V375.3M333.70 348.4V373.3M334.00 352.1V371.3M334.30 350.9V363.7M334.60 348.7V365.1M334.90 350.9V366.3M335.20 349.0V363.6M335.50 347.4V365.8M335.80 350.3V365.1M336.10 347.5V364.6M336.40 343.4V369.8M336.70 351.6V375.0M337.00 350.9V365.4M337.30 345.8V367.4M337.60 337.4V364.0M337.90 346.5V365.2M338.20 345.2V366.3M338.50 346.1V370.0M338.80 352.0V372.3M339.10 348.6V375.2M339.40 347.7V371.6M339.70 350.4V366.1M340.00 350.2V365.6M340.30 337.7V367.6M340.60 349.6V366.3M340.90 349.1V371.3M341.20 345.3V367.9M341.50 345.4V378.6M341.80 351.3V373.9M342.10 349.7V368.3M342.40 349.3V370.5M342.70 347.6V369.0M343.00 343.2V368.7M343.30 349.2V365.8M343.60 348.0V364.1M343.90 340.8V363.8M344.20 348.8V364.5M344.50 347.9V369.0M344.80 344.3V369.3M345.10 348.9V364.0M345.40 349.3V369.0M345.70 350.7V365.6M346.00 348.3V364.5M346.30 349.8V369.9M346.60 343.2V368.5M346.90 344.4V383.8M347.20 346.3V365.6M347.50 345.2V369.4M347.80 343.2V367.4M348.10 343.9V368.4M348.40 347.5V365.8M348.70 340.9V366.5M349.00 343.0V366.3M349.30 341.8V366.8M349.60 348.7V371.8M349.90 341.6V368.0M350.20 336.3V365.6M350.50 342.9V363.9M350.80 349.2V366.2M351.10 346.5V363.6M351.40 345.5V365.6M351.70 347.4V366.8M352.00 347.3V366.1M352.30 344.9V366.7M352.60 349.9V367.5M352.90 348.9V364.4M353.20 351.0V364.8M353.50 350.3V367.6M353.80 347.9V365.5M354.10 349.7V364.9M354.40 347.5V364.1M354.70 350.2V366.9M355.00 348.5V366.9M355.30 349.4V368.0M355.60 347.5V365.1M355.90 348.9V371.5M356.20 346.7V375.3M356.50 352.2V370.3M356.80 349.9V366.2M357.10 345.8V371.4M357.40 348.2V371.0M357.70 350.3V364.9M358.00 348.1V369.6M358.30 345.1V365.3M358.60 351.2V366.3M358.90 348.0V366.1M359.20 348.5V367.1M359.50 349.4V366.2M359.80 340.7V365.1M360.10 342.7V370.7M360.40 341.9V364.2M360.70 348.7V367.0M361.00 344.7V369.8M361.30 348.2V367.0M361.60 347.5V374.7M361.90 345.3V364.8M362.20 351.4V376.9M362.50 346.0V366.4M362.80 345.9V370.6M363.10 349.7V369.1M363.40 343.3V368.2M363.70 349.1V363.5M364.00 346.5V364.0M364.30 346.2V365.0M364.60 351.9V365.9M364.90 351.6V367.5M365.20 350.1V366.3M365.50 349.6V369.3M365.80 348.9V363.8M366.10 350.5V367.5M366.40 348.6V363.5M366.70 352.6V366.8M367.00 350.0V363.8M367.30 350.0V362.1M367.60 345.0V370.6M367.90 346.7V365.7M368.20 343.9V368.9M368.50 347.5V365.6M368.80 347.9V363.8M369.10 351.4V364.3M369.40 350.2V364.0M369.70 352.6V365.8M370.00 350.6V365.2M370.30 352.9V364.8M370.60 352.5V363.6M370.90 350.9V367.4M371.20 349.3V365.3M371.50 344.2V363.9M371.80 347.0V366.8M372.10 342.5V367.4M372.40 347.1V365.5M372.70 343.7V368.1M373.00 348.4V366.9M373.30 345.1V364.2M373.60 339.7V361.5M373.90 352.8V362.4M374.20 348.9V362.3M374.50 351.0V364.9M374.80 347.1V369.3M375.10 350.3V366.7M375.40 349.1V368.7M375.70 351.6V373.6M376.00 348.8V365.5M376.30 350.8V369.2M376.60 350.6V367.6M376.90 354.6V363.5M377.20 352.9V368.5M377.50 347.2V367.0M377.80 348.5V363.6M378.10 349.9V365.5M378.40 343.5V364.0M378.70 346.9V367.9M379.00 346.1V371.2M379.30 351.4V366.5M379.60 348.0V366.3M379.90 349.6V361.9M380.20 352.1V369.4M380.50 349.2V370.2M380.80 350.9V370.9M381.10 347.7V367.3M381.40 347.0V369.6M381.70 351.8V364.0M382.00 351.2V366.6M382.30 349.8V363.5M382.60 350.0V364.9M382.90 351.2V365.4M383.20 349.3V368.2M383.50 349.2V366.4M383.80 349.4V369.7M384.10 347.8V370.7M384.40 348.0V365.9M384.70 350.2V365.1M385.00 353.1V365.0M385.30 349.2V365.0M385.60 351.9V367.0M385.90 348.2V369.2M386.20 350.3V367.8M386.50 351.3V367.1M386.80 347.5V366.1M387.10 352.3V365.9M387.40 350.5V362.0M387.70 352.0V366.2M388.00 345.8V366.7M388.30 350.3V363.5M388.60 349.2V367.9M388.90 347.5V365.8M389.20 348.5V368.8M389.50 347.9V365.7M389.80 349.2V365.9M390.10 349.0V371.4M390.40 339.9V371.5M390.70 346.2V368.0M391.00 352.2V366.5M391.30 342.0V366.0M391.60 338.4V367.2M391.90 346.5V369.7M392.20 331.3V366.9M392.50 346.3V365.0M392.80 343.5V367.6M393.10 348.2V367.3M393.40 348.3V369.9M393.70 350.0V364.6M394.00 348.0V366.0M394.30 351.7V366.1M394.60 346.0V364.9M394.90 349.3V364.3M395.20 346.6V368.4M395.50 346.7V368.1M395.80 349.7V367.2M396.10 347.9V365.5M396.40 346.9V367.4M396.70 347.8V366.8M397.00 345.9V369.4M397.30 348.0V365.5M397.60 348.7V362.8M397.90 349.8V363.0M398.20 347.0V363.2M398.50 347.6V362.9M398.80 344.1V366.1M399.10 345.5V368.1M399.40 348.2V365.3M399.70 346.5V363.9M400.00 347.7V362.2M400.30 347.3V364.0M400.60 348.8V365.8M400.90 349.7V364.7M401.20 349.9V362.8M401.50 351.4V364.8M401.80 345.6V367.4M402.10 349.9V368.3M402.40 348.4V366.0M402.70 348.9V367.3M403.00 344.6V368.5M403.30 342.5V364.8M403.60 349.8V368.3M403.90 352.7V362.9M404.20 346.3V362.5M404.50 345.7V361.6M404.80 349.8V361.9M405.10 346.4V366.0M405.40 347.2V366.0M405.70 351.4V364.6M406.00 346.5V367.1M406.30 348.1V367.7M406.60 348.8V365.2M406.90 351.8V364.0M407.20 349.4V371.7M407.50 350.3V370.1M407.80 347.6V363.7M408.10 351.5V370.3M408.40 347.2V366.3M408.70 350.6V365.0M409.00 353.0V368.9M409.30 345.3V367.8M409.60 348.9V364.9M409.90 350.7V364.0M410.20 348.2V368.6M410.50 353.1V366.1M410.80 350.9V362.6M411.10 353.3V364.0M411.40 351.6V361.2M411.70 347.6V365.0M412.00 345.7V366.9M412.30 349.7V366.5M412.60 351.1V364.5M412.90 348.5V366.2M413.20 351.1V365.7M413.50 350.6V365.2M413.80 349.1V366.9M414.10 351.4V369.5M414.40 346.4V368.3M414.70 351.9V365.6M415.00 344.7V365.8M415.30 351.8V365.7M415.60 351.5V371.1M415.90 350.9V362.0M416.20 348.0V364.0M416.50 348.4V367.0M416.80 349.9V367.3M417.10 348.6V364.6M417.40 349.8V364.7M417.70 350.4V366.2M418.00 352.5V365.1M418.30 352.3V366.8M418.60 352.8V364.1M418.90 348.7V365.5M419.20 348.3V366.0M419.50 347.5V367.1M419.80 348.3V365.4M420.10 349.1V368.5M420.40 351.4V364.6M420.70 350.2V365.1M421.00 351.0V363.9M421.30 345.8V368.0M421.60 346.8V363.3M421.90 349.8V366.3M422.20 349.4V371.6M422.50 344.6V365.9M422.80 341.6V371.8M423.10 347.8V362.2M423.40 345.6V368.0M423.70 342.7V369.6M424.00 350.4V371.0M424.30 349.7V365.9M424.60 349.5V366.0M424.90 348.2V369.3M425.20 343.9V363.9M425.50 347.2V364.8M425.80 347.9V363.8M426.10 349.8V365.2M426.40 347.6V365.7M426.70 348.0V371.1M427.00 350.7V365.6M427.30 351.9V364.7M427.60 350.7V364.2M427.90 350.5V362.1M428.20 349.5V365.1M428.50 349.2V363.8M428.80 348.7V367.4M429.10 349.0V369.1M429.40 349.8V364.3M429.70 350.0V368.7M430.00 344.7V370.2M430.30 346.4V366.0M430.60 349.8V371.0M430.90 347.1V364.9M431.20 347.5V372.8M431.50 346.5V368.1M431.80 349.9V368.2M432.10 351.8V365.7M432.40 349.4V367.3M432.70 343.9V363.2M433.00 347.6V363.3M433.30 348.6V363.9M433.60 344.1V366.9M433.90 348.0V364.0M434.20 341.9V367.4M434.50 345.9V371.3M434.80 338.4V362.8M435.10 341.5V367.0M435.40 335.8V365.5M435.70 334.5V365.2M436.00 347.1V367.1M436.30 349.1V365.4M436.60 348.1V366.2M436.90 349.0V367.5M437.20 348.5V367.3M437.50 349.4V362.2M437.80 346.1V362.9M438.10 349.8V368.2M438.40 349.8V363.0M438.70 348.7V368.9M439.00 349.8V361.5M439.30 348.1V363.7M439.60 350.4V365.5M439.90 351.7V366.1M440.20 349.7V368.2M440.50 349.5V364.6M440.80 348.5V363.8M441.10 348.2V366.3M441.40 346.5V367.4M441.70 349.3V361.0M442.00 351.2V364.5M442.30 345.7V363.7M442.60 349.0V362.3M442.90 348.5V365.8M443.20 341.9V370.3M443.50 348.6V364.5M443.80 351.5V365.0M444.10 350.7V363.7M444.40 350.7V363.6M444.70 352.9V363.1M445.00 352.7V364.9M445.30 350.1V362.3M445.60 351.0V362.8M445.90 349.3V364.4M446.20 349.6V364.0M446.50 348.6V363.8M446.80 348.8V362.3M447.10 351.2V364.1M447.40 350.7V364.5M447.70 352.7V366.5M448.00 351.4V368.2M448.30 349.5V361.3M448.60 353.5V365.3M448.90 350.1V363.2M449.20 348.5V364.5M449.50 352.7V366.5M449.80 350.9V363.6M450.10 350.6V366.3M450.40 348.2V366.7M450.70 350.1V365.3M451.00 351.1V364.4M451.30 350.3V363.4M451.60 350.1V367.4M451.90 346.6V365.7M452.20 347.9V380.0M452.50 351.7V363.1M452.80 346.4V365.6M453.10 348.7V363.1M453.40 351.4V367.5M453.70 347.1V367.7M454.00 350.1V362.2M454.30 351.7V362.9M454.60 348.6V366.7M454.90 351.3V367.6M455.20 351.3V365.1M455.50 353.8V363.2M455.80 349.6V365.1M456.10 352.0V366.6M456.40 348.4V363.1M456.70 347.5V364.0M457.00 347.2V368.2M457.30 346.5V366.5M457.60 349.0V370.9M457.90 350.6V368.0M458.20 351.4V367.5M458.50 350.6V362.9M458.80 354.0V363.9M459.10 351.5V362.3M459.40 349.7V369.7M459.70 350.8V365.3M460.00 346.8V365.7M460.30 348.5V367.7M460.60 348.3V365.7M460.90 349.8V362.4M461.20 346.9V375.2M461.50 349.8V365.4M461.80 349.6V364.7M462.10 348.0V363.1M462.40 348.7V366.7M462.70 344.5V365.7M463.00 351.2V365.0M463.30 350.0V368.8M463.60 348.0V364.0M463.90 346.4V366.0M464.20 349.0V367.9M464.50 341.2V367.1M464.80 341.8V366.2M465.10 348.5V366.3M465.40 349.4V364.4M465.70 349.6V366.3M466.00 349.5V363.7M466.30 351.3V362.5M466.60 349.9V366.8M466.90 352.6V361.9M467.20 350.0V368.0M467.50 349.5V368.7M467.80 350.0V370.0M468.10 349.3V367.3M468.40 349.9V374.9M468.70 345.4V367.5M469.00 342.9V366.8M469.30 345.0V365.8M469.60 348.4V368.5M469.90 350.0V371.1M470.20 348.1V371.4M470.50 346.4V373.8M470.80 347.6V369.8M471.10 347.3V367.6M471.40 348.6V367.2M471.70 347.3V373.8M472.00 344.2V369.2M472.30 329.4V371.3M472.60 344.9V373.6M472.90 347.6V379.1M473.20 348.1V367.9M473.50 351.1V374.4M473.80 340.1V374.9M474.10 341.3V370.9M474.40 341.9V367.7M474.70 343.0V366.2M475.00 348.1V366.9M475.30 346.4V364.5M475.60 348.0V365.0M475.90 340.8V366.0M476.20 351.5V365.8M476.50 348.0V372.7M476.80 350.0V377.6M477.10 349.3V365.8M477.40 347.7V369.1M477.70 343.4V368.7M478.00 346.4V365.2M478.30 346.7V364.3M478.60 350.3V367.3M478.90 348.2V370.4M479.20 345.5V372.9M479.50 351.9V367.3M479.80 351.6V366.9M480.10 347.4V365.9M480.40 350.6V363.7M480.70 351.5V362.2M481.00 343.5V361.4M481.30 343.8V367.3M481.60 345.9V367.6M481.90 351.8V369.8M482.20 347.5V363.5M482.50 349.5V369.3M482.80 346.2V367.5M483.10 341.7V367.8M483.40 343.3V363.3M483.70 346.9V367.6M484.00 350.8V368.3M484.30 349.0V367.6M484.60 349.7V372.9M484.90 350.0V365.7M485.20 349.0V372.2M485.50 344.6V372.5M485.80 350.4V371.7M486.10 350.2V370.0M486.40 347.1V368.9M486.70 349.8V364.3M487.00 352.2V367.4M487.30 352.8V368.5M487.60 346.3V366.4M487.90 349.2V367.9M488.20 347.1V364.1M488.50 351.3V365.4M488.80 350.3V363.1M489.10 352.9V364.9M489.40 351.8V365.4M489.70 349.4V369.9M490.00 349.8V366.8M490.30 346.6V369.9M490.60 341.7V367.5M490.90 345.1V374.8M491.20 337.6V367.6M491.50 347.5V366.3M491.80 346.3V364.6M492.10 350.2V368.0M492.40 346.8V367.7M492.70 348.0V370.6M493.00 348.5V367.6M493.30 346.4V368.1M493.60 352.1V367.8M493.90 346.9V366.8M494.20 347.1V365.7M494.50 347.2V366.4M494.80 345.8V364.6M495.10 346.7V372.4M495.40 348.1V362.0M495.70 350.4V365.8M496.00 346.3V363.0M496.30 348.2V367.6M496.60 349.4V364.1M496.90 350.4V366.7M497.20 345.5V363.8M497.50 350.2V362.8M497.80 345.0V367.3M498.10 349.1V367.7M498.40 347.6V365.0M498.70 349.2V372.1M499.00 345.7V364.7M499.30 347.9V368.8M499.60 347.5V363.2M499.90 346.8V364.2M500.20 347.7V365.0M500.50 341.9V364.0M500.80 349.9V366.7M501.10 344.7V363.2M501.40 349.4V365.5M501.70 352.2V366.0M502.00 347.0V363.5M502.30 348.5V368.1M502.60 344.5V365.4M502.90 348.6V364.9M503.20 345.4V367.7M503.50 343.3V366.8M503.80 351.1V365.4M504.10 346.4V368.4M504.40 350.5V364.8M504.70 346.5V368.6M505.00 347.3V364.5M505.30 348.7V366.7M505.60 353.6V367.1M505.90 352.0V365.0M506.20 351.9V363.7M506.50 350.4V363.9M506.80 350.2V364.3M507.10 350.6V370.9M507.40 351.3V366.7M507.70 352.3V365.7M508.00 349.1V369.6M508.30 347.6V372.1M508.60 351.2V374.7M508.90 349.0V367.1M509.20 353.0V370.7M509.50 350.4V368.7M509.80 352.1V365.0M510.10 353.3V369.5M510.40 351.3V366.4M510.70 346.9V367.6M511.00 349.5V369.9M511.30 351.3V363.2M511.60 347.9V363.9M511.90 343.6V363.1M512.20 347.3V366.4M512.50 347.9V363.9M512.80 347.7V366.7M513.10 347.8V363.9M513.40 348.9V366.0M513.70 347.4V365.5M514.00 348.7V366.6M514.30 347.4V366.8M514.60 349.1V365.1M514.90 343.1V365.0M515.20 351.3V366.9M515.50 350.8V364.8M515.80 349.2V364.1M516.10 351.2V364.5M516.40 350.8V371.0M516.70 348.7V366.5M517.00 350.7V364.9M517.30 351.5V367.8M517.60 350.6V369.9M517.90 349.2V363.3M518.20 351.5V366.6M518.50 347.6V364.6M518.80 351.3V365.2M519.10 349.4V370.9M519.40 346.6V368.2M519.70 350.4V367.7M520.00 349.6V367.9M520.30 348.8V366.8M520.60 349.9V365.1M520.90 347.2V364.1M521.20 352.7V362.3M521.50 349.0V369.1M521.80 350.1V365.1M522.10 351.0V369.7M522.40 346.5V365.8M522.70 348.2V368.7M523.00 345.4V367.3M523.30 350.2V366.6M523.60 349.6V368.8M523.90 349.3V363.2M524.20 343.8V368.7M524.50 343.4V363.5M524.80 350.9V364.6M525.10 348.4V366.4M525.40 343.8V365.2M525.70 346.8V364.3M526.00 347.4V372.7M526.30 348.7V362.8M526.60 347.5V362.9M526.90 348.5V364.7M527.20 349.1V367.1M527.50 348.1V371.4M527.80 349.8V371.3M528.10 344.3V369.2M528.40 336.9V369.1M528.70 340.1V374.0M529.00 345.5V363.5M529.30 346.2V364.3M529.60 352.1V365.5M529.90 350.1V364.8M530.20 351.7V366.5M530.50 350.2V364.8M530.80 343.9V366.8M531.10 344.8V367.2M531.40 349.0V367.4M531.70 341.0V368.0M532.00 342.6V367.0M532.30 346.3V372.7M532.60 345.5V368.4M532.90 349.3V374.9M533.20 351.4V367.4M533.50 353.1V369.1M533.80 351.0V366.3M534.10 349.2V369.0M534.40 352.3V366.1M534.70 351.2V364.2M535.00 345.4V363.4M535.30 352.6V366.0M535.60 339.8V369.4M535.90 347.9V364.9M536.20 344.6V367.8M536.50 340.8V368.1M536.80 351.1V368.4M537.10 350.5V366.3M537.40 344.5V371.1M537.70 349.5V371.2M538.00 350.1V369.6M538.30 349.5V365.5M538.60 347.9V364.2M538.90 344.6V370.0M539.20 347.3V366.5M539.50 349.3V364.3M539.80 345.5V367.3M540.10 342.4V369.1M540.40 342.6V366.7M540.70 347.9V367.5M541.00 345.1V368.6M541.30 349.2V364.8M541.60 346.7V371.4M541.90 342.7V372.2M542.20 348.5V373.3M542.50 350.4V369.9M542.80 353.5V372.2M543.10 351.4V370.1M543.40 350.4V372.0M543.70 348.6V365.3M544.00 348.7V370.6M544.30 350.3V367.2M544.60 347.9V368.0M544.90 345.6V364.8M545.20 347.6V371.9M545.50 352.5V366.2M545.80 350.7V364.8M546.10 353.3V368.8M546.40 351.6V367.0M546.70 339.2V365.0M547.00 349.4V366.8M547.30 348.2V369.3M547.60 350.8V367.5M547.90 350.2V369.9M548.20 351.5V365.6M548.50 348.6V365.4M548.80 349.3V364.9M549.10 343.9V364.8M549.40 351.2V367.1M549.70 347.5V367.7M550.00 345.0V364.3M550.30 353.2V366.0M550.60 349.4V363.0M550.90 351.9V368.3M551.20 346.7V366.6M551.50 347.7V366.0M551.80 348.0V365.5M552.10 351.0V367.8M552.40 352.2V365.0M552.70 346.0V367.1M553.00 348.9V364.6M553.30 348.0V365.1M553.60 349.4V370.7M553.90 348.1V366.0M554.20 346.8V369.2M554.50 351.6V372.4M554.80 348.3V363.3M555.10 348.6V367.3M555.40 347.4V364.5M555.70 345.1V365.9M556.00 348.4V369.2M556.30 346.8V368.2M556.60 350.8V362.0M556.90 350.1V370.4M557.20 352.3V365.7M557.50 349.9V366.8M557.80 349.8V368.4M558.10 350.9V367.9M558.40 350.8V369.5M558.70 347.1V369.2M559.00 347.2V371.2M559.30 346.6V370.7M559.60 347.1V372.6M559.90 342.3V368.4M560.20 345.0V366.3M560.50 350.0V370.5M560.80 345.7V374.7M561.10 350.2V369.8M561.40 339.7V383.1M561.70 337.7V370.4M562.00 340.8V367.7M562.30 337.9V373.5M562.60 343.4V366.9M562.90 347.3V365.1M563.20 346.4V367.4M563.50 345.4V370.8M563.80 348.5V366.3M564.10 335.0V370.3M564.40 338.9V377.2M564.70 340.8V369.0M565.00 338.7V368.5M565.30 341.5V367.2M565.60 345.3V368.6M565.90 347.2V369.3M566.20 346.9V369.1M566.50 349.4V378.4M566.80 349.6V371.1M567.10 350.0V371.3M567.40 349.4V374.2M567.70 348.2V370.6M568.00 330.1V367.8M568.30 343.6V365.8M568.60 340.2V368.2M568.90 339.1V364.5M569.20 341.1V368.2M569.50 347.4V368.4M569.80 347.1V371.0M570.10 352.4V365.7M570.40 349.4V366.6M570.70 353.2V363.7M571.00 351.0V368.1M571.30 349.4V361.1M571.60 352.6V364.3M571.90 346.7V365.4M572.20 351.4V366.1M572.50 346.7V368.3M572.80 349.9V370.2M573.10 348.0V367.4M573.40 349.0V365.4M573.70 336.6V370.2M574.00 344.1V367.8M574.30 342.2V371.0M574.60 348.4V364.6M574.90 348.9V368.3M575.20 347.6V369.1M575.50 351.2V368.0M575.80 343.6V367.0M576.10 346.6V362.1M576.40 345.5V363.9M576.70 350.5V363.6M577.00 347.7V365.6M577.30 347.1V366.7M577.60 349.9V365.4M577.90 349.6V363.7M578.20 351.8V364.8M578.50 349.8V368.9M578.80 352.0V365.4M579.10 352.8V367.4M579.40 351.7V367.4M579.70 351.0V366.7M580.00 345.5V364.4M580.30 352.7V363.7M580.60 353.8V366.4M580.90 349.1V366.0M581.20 350.8V365.6M581.50 347.0V367.2M581.80 341.5V365.4M582.10 341.6V362.7M582.40 345.3V364.2M582.70 343.6V366.1M583.00 345.7V366.6M583.30 344.8V363.2M583.60 349.2V362.1M583.90 348.9V364.3M584.20 348.8V363.3M584.50 341.9V365.4M584.80 343.2V365.6M585.10 348.9V369.0M585.40 342.0V364.6M585.70 347.0V370.0M586.00 341.7V372.9M586.30 347.3V368.7M586.60 343.7V367.2M586.90 349.0V369.1M587.20 348.6V367.6M587.50 348.8V364.5M587.80 343.0V367.0M588.10 348.0V368.0M588.40 349.3V364.7M588.70 342.6V366.5M589.00 347.3V363.8M589.30 351.6V367.1M589.60 352.6V367.1M589.90 349.7V364.6M590.20 348.0V367.4M590.50 346.2V370.3M590.80 351.3V366.1M591.10 348.0V365.8M591.40 353.1V364.7M591.70 345.9V365.2M592.00 343.4V366.7M592.30 347.0V369.7M592.60 344.7V368.4M592.90 341.8V368.1M593.20 342.9V366.6M593.50 348.6V365.3M593.80 349.8V365.6M594.10 349.2V363.5M594.40 350.4V367.0M594.70 342.7V367.5M595.00 347.5V368.4M595.30 343.2V366.2M595.60 347.2V368.1M595.90 346.0V365.1M596.20 349.7V366.2M596.50 346.6V365.5M596.80 350.7V371.2M597.10 348.9V364.4M597.40 351.3V372.5M597.70 346.6V367.5M598.00 351.4V367.6M598.30 348.7V372.1M598.60 348.8V371.9M598.90 348.7V367.1M599.20 347.3V368.4M599.50 350.4V367.0M599.80 348.0V368.1M600.10 348.5V363.5M600.40 348.8V366.5M600.70 344.7V364.5M601.00 348.8V365.3M601.30 344.4V367.6M601.60 349.0V363.8M601.90 349.6V365.2M602.20 347.9V378.1M602.50 345.6V368.5M602.80 349.8V368.5M603.10 348.6V368.3M603.40 350.3V366.1M603.70 349.6V370.0M604.00 351.2V368.6M604.30 350.5V361.4M604.60 353.5V363.4M604.90 346.4V364.7M605.20 347.5V365.9M605.50 350.8V366.3M605.80 346.7V363.3M606.10 348.7V364.0M606.40 346.4V365.8M606.70 350.7V364.8M607.00 343.8V366.1M607.30 346.1V366.4M607.60 351.1V366.8M607.90 345.6V366.2M608.20 351.0V365.4M608.50 351.2V365.4M608.80 348.7V363.7M609.10 353.0V363.8M609.40 347.5V365.8M609.70 349.0V368.7M610.00 348.6V368.7M610.30 345.2V367.5M610.60 349.6V366.1M610.90 351.2V369.8M611.20 350.9V369.2M611.50 348.4V367.7M611.80 346.7V368.7M612.10 349.1V364.7M612.40 348.5V366.3M612.70 341.9V366.9M613.00 346.3V365.1M613.30 346.9V370.0M613.60 341.0V365.0M613.90 345.7V368.7M614.20 347.3V367.1M614.50 352.0V366.4M614.80 347.6V365.6M615.10 347.7V367.3M615.40 347.1V369.7M615.70 351.8V366.9M616.00 349.3V367.2M616.30 349.9V367.9M616.60 351.5V365.3M616.90 342.1V367.3M617.20 347.9V366.3M617.50 348.6V367.7M617.80 344.0V366.3M618.10 351.0V370.8M618.40 344.6V366.3M618.70 343.1V365.0M619.00 348.7V363.9M619.30 347.6V367.4M619.60 347.3V366.7M619.90 344.8V365.6M620.20 350.3V365.2M620.50 352.9V363.6M620.80 353.1V367.6M621.10 350.5V365.3M621.40 351.9V363.2M621.70 351.2V367.3M622.00 348.4V365.7M622.30 346.2V364.7" fill="none" stroke="#0000ff" stroke-width="0.33"/>
<text transform="translate(170.35 289.20) scale(0.922 1)" text-anchor="end" font-size="16.5">0.4</text>
<text transform="translate(170.35 326.70) scale(0.922 1)" text-anchor="end" font-size="16.5">0.2</text>
<text transform="translate(170.35 364.20) scale(0.922 1)" text-anchor="end" font-size="16.5">0</text>
<text transform="translate(170.35 401.70) scale(0.922 1)" text-anchor="end" font-size="16.5">-0.2</text>
<text transform="translate(170.35 439.20) scale(0.922 1)" text-anchor="end" font-size="16.5">-0.4</text>
<text transform="translate(174.55 453.30) scale(0.922 1)" text-anchor="middle" font-size="16.5">00:00</text>
<text transform="translate(286.53 453.30) scale(0.922 1)" text-anchor="middle" font-size="16.5">06:00</text>
<text transform="translate(398.50 453.30) scale(0.922 1)" text-anchor="middle" font-size="16.5">12:00</text>
<text transform="translate(510.48 453.30) scale(0.922 1)" text-anchor="middle" font-size="16.5">18:00</text>
<text transform="translate(622.45 453.30) scale(0.922 1)" text-anchor="middle" font-size="16.5">00:00</text>
<text transform="translate(136.00 358.20) rotate(-90) scale(0.943 1)" text-anchor="middle" font-size="16.4" font-weight="bold">Y (nT)</text>
<rect x="174.55" y="508.4" width="447.90000000000003" height="150.0" fill="none" stroke="#000" stroke-width="0.38"/>
<path d="M286.53 658.4v-4.3M286.53 508.4v4.3M398.50 658.4v-4.3M398.50 508.4v4.3M510.48 658.4v-4.3M510.48 508.4v4.3M174.55 558.40h4.3M622.45 558.40h-4.3M174.55 608.40h4.3M622.45 608.40h-4.3" fill="none" stroke="#000" stroke-width="0.42"/>
<path d="M174.9 552.3L174.7 552.3L175.0 552.3L175.3 552.3L175.6 551.8L175.9 551.8L176.2 551.8L176.5 549.2L176.8 551.0L177.1 552.8L177.4 552.8L177.7 552.8L178.0 552.8L178.3 552.8L178.6 552.1L178.9 552.1L179.2 552.1L179.5 552.1L179.8 552.0L180.1 552.0L180.4 552.0L180.7 551.6L181.0 551.8L181.3 552.9L181.6 552.9L181.9 552.9L182.2 552.9L182.5 552.9L182.8 552.2L183.1 552.2L183.4 554.1L183.7 554.1L184.0 554.1L184.3 554.1L184.6 554.1L184.9 553.7L185.2 553.6L185.5 553.6L185.8 553.3L186.1 552.9L186.4 552.9L186.7 552.2L187.0 552.2L187.3 552.2L187.6 554.2L187.9 554.2L188.2 554.2L188.5 554.2L188.8 554.2L189.1 553.1L189.4 550.8L189.7 550.0L190.0 555.0L190.3 555.0L190.6 555.0L190.9 555.0L191.2 555.0L191.5 553.7L191.8 552.3L192.1 552.0L192.4 552.0L192.7 552.0L193.0 552.0L193.3 552.0L193.6 551.5L193.9 552.3L194.2 552.3L194.5 552.3L194.8 552.3L195.1 552.3L195.4 552.0L195.7 552.0L196.0 552.0L196.3 552.0L196.6 552.0L196.9 552.8L197.2 552.8L197.5 552.8L197.8 552.8L198.1 552.8L198.4 551.6L198.7 551.3L199.0 551.3L199.3 551.3L199.6 551.3L199.9 550.9L200.2 551.1L200.5 552.7L200.8 552.7L201.1 552.7L201.4 552.7L201.7 554.0L202.0 554.0L202.3 554.0L202.6 554.2L202.9 554.2L203.2 554.2L203.5 554.2L203.8 554.2L204.1 553.0L204.4 553.0L204.7 553.6L205.0 553.6L205.3 553.6L205.6 553.6L205.9 553.6L206.2 551.9L206.5 551.9L206.8 552.2L207.1 552.2L207.4 552.2L207.7 552.2L208.0 552.2L208.3 551.5L208.6 551.8L208.9 552.0L209.2 552.4L209.5 552.4L209.8 552.4L210.1 552.4L210.4 552.4L210.7 552.3L211.0 552.3L211.3 551.0L211.6 551.0L211.9 549.5L212.2 549.5L212.5 549.5L212.8 550.0L213.1 551.9L213.4 551.9L213.7 552.4L214.0 552.4L214.3 552.7L214.6 552.7L214.9 552.7L215.2 552.7L215.5 552.7L215.8 549.5L216.1 554.1L216.4 554.1L216.7 554.1L217.0 554.1L217.3 554.1L217.6 552.8L217.9 552.8L218.2 552.8L218.5 552.8L218.8 552.9L219.1 552.9L219.4 552.9L219.7 552.9L220.0 552.9L220.3 551.8L220.6 554.3L220.9 554.3L221.2 554.3L221.5 554.3L221.8 554.3L222.1 552.2L222.4 552.2L222.7 553.2L223.0 553.2L223.3 553.2L223.6 553.2L223.9 553.2L224.2 552.3L224.5 552.2L224.8 553.3L225.1 553.3L225.4 553.3L225.7 553.6L226.0 553.6L226.3 553.6L226.6 553.6L226.9 553.6L227.2 552.6L227.5 553.0L227.8 554.6L228.1 554.6L228.4 554.6L228.7 554.8L229.0 554.8L229.3 554.8L229.6 554.8L229.9 554.8L230.2 553.0L230.5 553.0L230.8 553.0L231.1 553.0L231.4 553.0L231.7 552.4L232.0 552.4L232.3 552.4L232.6 552.4L232.9 552.4L233.2 551.2L233.5 551.6L233.8 551.6L234.1 551.6L234.4 551.6L234.7 551.6L235.0 550.0L235.3 553.4L235.6 553.4L235.9 553.4L236.2 553.4L236.5 553.4L236.8 553.9L237.1 553.9L237.4 553.9L237.7 553.9L238.0 553.9L238.3 551.9L238.6 553.3L238.9 553.3L239.2 553.3L239.5 553.3L239.8 553.3L240.1 551.5L240.4 551.6L240.7 551.6L241.0 551.6L241.3 551.6L241.6 551.9L241.9 551.9L242.2 551.9L242.5 551.9L242.8 552.3L243.1 552.3L243.4 552.3L243.7 552.3L244.0 552.3L244.3 552.2L244.6 552.2L244.9 552.2L245.2 550.8L245.5 550.8L245.8 550.8L246.1 551.1L246.4 551.1L246.7 551.1L247.0 551.1L247.3 551.1L247.6 551.3L247.9 551.3L248.2 551.3L248.5 551.3L248.8 551.3L249.1 550.5L249.4 553.2L249.7 553.2L250.0 553.2L250.3 553.2L250.6 553.2L250.9 552.7L251.2 552.7L251.5 553.4L251.8 553.4L252.1 553.4L252.4 553.4L252.7 553.4L253.0 553.1L253.3 552.3L253.6 553.9L253.9 553.9L254.2 553.9L254.5 553.9L254.8 553.9L255.1 553.9L255.4 553.9L255.7 553.9L256.0 553.9L256.3 553.9L256.6 553.9L256.9 553.1L257.2 553.1L257.5 553.1L257.8 552.0L258.1 552.3L258.4 552.3L258.7 553.4L259.0 553.4L259.3 553.4L259.6 553.9L259.9 553.9L260.2 553.9L260.5 553.9L260.8 553.9L261.1 552.4L261.4 552.4L261.7 552.4L262.0 553.3L262.3 553.3L262.6 553.3L262.9 553.3L263.2 553.3L263.5 551.6L263.8 551.3L264.1 551.3L264.4 551.4L264.7 551.4L265.0 553.5L265.3 553.5L265.6 553.5L265.9 553.5L266.2 553.5L266.5 553.9L266.8 553.9L267.1 553.9L267.4 554.4L267.7 554.4L268.0 554.4L268.3 554.4L268.6 554.4L268.9 551.9L269.2 551.6L269.5 551.3L269.8 551.3L270.1 551.3L270.4 551.3L270.7 550.4L271.0 551.0L271.3 551.2L271.6 551.2L271.9 551.2L272.2 551.6L272.5 551.6L272.8 551.6L273.1 551.6L273.4 551.8L273.7 551.8L274.0 551.9L274.3 551.9L274.6 551.9L274.9 552.7L275.2 552.7L275.5 552.7L275.8 552.7L276.1 552.7L276.4 552.3L276.7 552.3L277.0 554.1L277.3 554.1L277.6 554.1L277.9 554.1L278.2 554.1L278.5 553.3L278.8 552.3L279.1 552.7L279.4 555.4L279.7 555.4L280.0 555.4L280.3 555.4L280.6 555.4L280.9 552.8L281.2 552.1L281.5 553.2L281.8 553.2L282.1 553.2L282.4 553.2L282.7 553.2L283.0 551.3L283.3 551.3L283.6 551.3L283.9 551.6L284.2 551.6L284.5 551.6L284.8 553.9L285.1 553.9L285.4 553.9L285.7 553.9L286.0 553.9L286.3 552.5L286.6 552.5L286.9 551.7L287.2 551.7L287.5 552.3L287.8 552.3L288.1 552.3L288.4 552.3L288.7 552.3L289.0 553.2L289.3 554.6L289.6 554.6L289.9 554.6L290.2 554.6L290.5 554.6L290.8 554.2L291.1 554.2L291.4 554.2L291.7 554.2L292.0 553.1L292.3 553.1L292.6 553.1L292.9 553.1L293.2 553.1L293.5 552.7L293.8 552.7L294.1 552.7L294.4 552.7L294.7 552.7L295.0 552.1L295.3 551.2L295.6 551.8L295.9 552.1L296.2 552.1L296.5 552.1L296.8 552.1L297.1 554.6L297.4 554.6L297.7 554.6L298.0 554.6L298.3 554.6L298.6 551.3L298.9 551.3L299.2 552.3L299.5 552.3L299.8 553.9L300.1 553.9L300.4 553.9L300.7 554.2L301.0 554.2L301.3 554.2L301.6 554.2L301.9 554.2L302.2 552.4L302.5 552.4L302.8 552.4L303.1 552.3L303.4 552.3L303.7 552.3L304.0 551.6L304.3 551.6L304.6 551.7L304.9 551.7L305.2 554.0L305.5 554.0L305.8 554.0L306.1 554.0L306.4 554.0L306.7 553.4L307.0 553.4L307.3 553.4L307.6 552.6L307.9 551.6L308.2 551.6L308.5 551.5L308.8 552.2L309.1 552.2L309.4 552.2L309.7 552.2L310.0 552.2L310.3 550.9L310.6 551.3L310.9 552.0L311.2 553.2L311.5 553.2L311.8 553.2L312.1 553.2L312.4 553.2L312.7 552.6L313.0 552.6L313.3 553.2L313.6 553.2L313.9 553.2L314.2 553.2L314.5 553.2L314.8 552.5L315.1 552.5L315.4 553.5L315.7 553.5L316.0 553.5L316.3 555.1L316.6 555.1L316.9 555.1L317.2 555.1L317.5 555.1L317.8 554.8L318.1 552.4L318.4 552.4L318.7 553.9L319.0 553.9L319.3 553.9L319.6 554.2L319.9 554.2L320.2 554.2L320.5 554.2L320.8 554.2L321.1 553.0L321.4 553.1L321.7 553.1L322.0 553.1L322.3 553.1L322.6 553.9L322.9 553.9L323.2 553.9L323.5 553.9L323.8 554.9L324.1 554.9L324.4 554.9L324.7 554.9L325.0 554.9L325.3 552.9L325.6 552.9L325.9 552.4L326.2 553.6L326.5 553.6L326.8 553.6L327.1 553.6L327.4 553.6L327.7 552.4L328.0 553.2L328.3 553.2L328.6 553.2L328.9 553.2L329.2 553.2L329.5 553.0L329.8 549.9L330.1 549.9L330.4 552.1L330.7 552.1L331.0 552.1L331.3 552.1L331.6 552.1L331.9 550.0L332.2 550.0L332.5 550.0L332.8 550.0L333.1 550.0L333.4 548.9L333.7 549.7L334.0 549.7L334.3 551.4L334.6 551.4L334.9 551.4L335.2 551.4L335.5 551.4L335.8 551.2L336.1 552.0L336.4 552.0L336.7 552.0L337.0 552.0L337.3 552.0L337.6 552.1L337.9 552.3L338.2 552.3L338.5 554.8L338.8 554.8L339.1 554.8L339.4 554.8L339.7 554.8L340.0 552.4L340.3 552.4L340.6 552.4L340.9 552.4L341.2 551.9L341.5 553.2L341.8 553.2L342.1 553.2L342.4 553.2L342.7 553.2L343.0 552.8L343.3 552.8L343.6 552.9L343.9 554.2L344.2 554.2L344.5 554.5L344.8 554.5L345.1 554.5L345.4 554.5L345.7 554.5L346.0 554.0L346.3 553.9L346.6 553.9L346.9 551.3L347.2 552.7L347.5 552.7L347.8 552.7L348.1 552.7L348.4 552.7L348.7 552.2L349.0 553.5L349.3 553.5L349.6 555.1L349.9 555.1L350.2 555.1L350.5 555.1L350.8 555.1L351.1 555.1L351.4 555.1L351.7 555.1L352.0 555.1L352.3 552.9L352.6 552.9L352.9 551.8L353.2 554.0L353.5 554.0L353.8 554.0L354.1 554.0L354.4 554.0L354.7 553.6L355.0 553.6L355.3 553.6L355.6 551.6L355.9 551.6L356.2 552.8L356.5 552.8L356.8 552.8L357.1 552.8L357.4 552.8L357.7 552.8L358.0 552.9L358.3 552.9L358.6 552.9L358.9 552.9L359.2 552.9L359.5 551.0L359.8 551.0L360.1 551.3L360.4 553.2L360.7 553.2L361.0 553.2L361.3 553.2L361.6 553.2L361.9 552.1L362.2 552.1L362.5 552.1L362.8 552.1L363.1 551.9L363.4 551.9L363.7 552.4L364.0 552.4L364.3 552.4L364.6 552.4L364.9 552.4L365.2 552.0L365.5 552.0L365.8 552.0L366.1 552.0L366.4 552.0L366.7 551.9L367.0 551.9L367.3 551.7L367.6 551.7L367.9 551.7L368.2 551.7L368.5 550.5L368.8 550.5L369.1 552.2L369.4 552.2L369.7 552.2L370.0 552.5L370.3 552.8L370.6 552.8L370.9 552.8L371.2 552.8L371.5 552.8L371.8 552.1L372.1 552.8L372.4 552.8L372.7 552.8L373.0 553.9L373.3 553.9L373.6 553.9L373.9 554.6L374.2 554.6L374.5 554.6L374.8 554.6L375.1 554.6L375.4 554.1L375.7 554.5L376.0 554.5L376.3 554.5L376.6 554.5L376.9 554.5L377.2 553.6L377.5 553.2L377.8 554.2L378.1 554.2L378.4 554.2L378.7 554.2L379.0 554.2L379.3 553.4L379.6 553.4L379.9 553.9L380.2 553.9L380.5 553.9L380.8 553.9L381.1 554.0L381.4 554.0L381.7 554.0L382.0 554.9L382.3 554.9L382.6 554.9L382.9 554.9L383.2 554.9L383.5 554.4L383.8 554.4L384.1 554.2L384.4 554.2L384.7 552.8L385.0 552.8L385.3 552.6L385.6 552.6L385.9 552.6L386.2 552.6L386.5 552.0L386.8 554.0L387.1 554.4L387.4 554.4L387.7 554.4L388.0 554.4L388.3 554.4L388.6 551.9L388.9 552.6L389.2 552.6L389.5 552.6L389.8 552.6L390.1 553.3L390.4 553.3L390.7 553.3L391.0 553.9L391.3 553.9L391.6 553.9L391.9 553.9L392.2 553.9L392.5 551.8L392.8 549.1L393.1 549.1L393.4 551.2L393.7 551.2L394.0 551.2L394.3 551.2L394.6 552.9L394.9 552.9L395.2 552.9L395.5 552.9L395.8 553.7L396.1 553.7L396.4 553.7L396.7 553.7L397.0 553.7L397.3 553.4L397.6 553.4L397.9 553.4L398.2 553.3L398.5 553.3L398.8 553.7L399.1 553.7L399.4 553.7L399.7 553.7L400.0 553.7L400.3 553.3L400.6 551.8L400.9 552.8L401.2 552.8L401.5 552.8L401.8 552.8L402.1 552.8L402.4 552.6L402.7 552.5L403.0 553.7L403.3 553.7L403.6 553.7L403.9 554.8L404.2 554.8L404.5 554.8L404.8 555.1L405.1 555.1L405.4 555.1L405.7 555.1L406.0 555.1L406.3 554.9L406.6 553.2L406.9 552.4L407.2 552.4L407.5 553.2L407.8 553.2L408.1 553.2L408.4 553.2L408.7 553.2L409.0 550.2L409.3 551.2L409.6 553.4L409.9 553.4L410.2 553.4L410.5 553.4L410.8 553.7L411.1 553.7L411.4 553.7L411.7 553.7L412.0 553.7L412.3 554.5L412.6 554.5L412.9 554.5L413.2 554.5L413.5 554.5L413.8 553.2L414.1 553.2L414.4 553.2L414.7 553.2L415.0 552.9L415.3 552.9L415.6 552.6L415.9 552.6L416.2 552.6L416.5 552.6L416.8 552.6L417.1 552.4L417.4 552.4L417.7 552.4L418.0 553.4L418.3 553.4L418.6 553.4L418.9 554.4L419.2 554.6L419.5 554.6L419.8 554.6L420.1 554.6L420.4 554.6L420.7 554.8L421.0 554.8L421.3 554.8L421.6 554.8L421.9 554.8L422.2 553.8L422.5 553.8L422.8 553.8L423.1 553.4L423.4 552.7L423.7 552.7L424.0 552.7L424.3 552.7L424.6 552.7L424.9 552.7L425.2 552.7L425.5 552.7L425.8 553.7L426.1 553.7L426.4 553.7L426.7 553.7L427.0 553.7L427.3 552.3L427.6 552.3L427.9 552.0L428.2 552.0L428.5 555.1L428.8 555.1L429.1 555.1L429.4 555.1L429.7 555.1L430.0 555.1L430.3 555.1L430.6 555.1L430.9 555.1L431.2 555.1L431.5 554.8L431.8 554.4L432.1 554.4L432.4 554.4L432.7 554.3L433.0 554.2L433.3 554.2L433.6 554.2L433.9 554.2L434.2 554.2L434.5 554.2L434.8 551.8L435.1 551.8L435.4 551.8L435.7 551.4L436.0 551.6L436.3 551.6L436.6 553.9L436.9 553.9L437.2 553.9L437.5 553.9L437.8 553.9L438.1 553.9L438.4 553.9L438.7 553.9L439.0 553.9L439.3 553.9L439.6 553.1L439.9 553.1L440.2 554.5L440.5 554.5L440.8 554.5L441.1 554.5L441.4 554.5L441.7 554.1L442.0 554.1L442.3 554.1L442.6 550.9L442.9 550.9L443.2 550.9L443.5 551.2L443.8 551.2L444.1 551.8L444.4 551.8L444.7 551.8L445.0 551.8L445.3 551.8L445.6 552.3L445.9 552.3L446.2 552.3L446.5 552.3L446.8 552.3L447.1 548.0L447.4 548.1L447.7 548.6L448.0 548.6L448.3 548.6L448.6 549.3L448.9 550.5L449.2 550.5L449.5 550.5L449.8 551.3L450.1 551.9L450.4 551.9L450.7 551.9L451.0 551.9L451.3 551.9L451.6 551.2L451.9 551.2L452.2 551.7L452.5 551.7L452.8 551.7L453.1 551.7L453.4 551.7L453.7 555.1L454.0 555.1L454.3 555.1L454.6 555.1L454.9 555.1L455.2 552.2L455.5 552.2L455.8 552.3L456.1 552.3L456.4 552.3L456.7 552.3L457.0 554.1L457.3 554.1L457.6 554.1L457.9 554.1L458.2 554.1L458.5 552.2L458.8 553.4L459.1 553.4L459.4 553.4L459.7 553.4L460.0 553.6L460.3 553.6L460.6 553.6L460.9 553.6L461.2 553.6L461.5 553.1L461.8 551.9L462.1 551.9L462.4 551.9L462.7 551.9L463.0 549.6L463.3 550.5L463.6 552.0L463.9 553.0L464.2 554.1L464.5 554.1L464.8 554.9L465.1 554.9L465.4 554.9L465.7 554.9L466.0 554.9L466.3 554.0L466.6 554.0L466.9 553.1L467.2 552.4L467.5 552.4L467.8 553.6L468.1 554.8L468.4 554.8L468.7 554.8L469.0 554.8L469.3 554.8L469.6 554.0L469.9 554.0L470.2 554.0L470.5 552.8L470.8 553.0L471.1 553.0L471.4 554.1L471.7 554.1L472.0 554.1L472.3 554.1L472.6 554.1L472.9 553.4L473.2 549.8L473.5 551.0L473.8 552.7L474.1 552.7L474.4 552.7L474.7 552.7L475.0 552.7L475.3 552.6L475.6 552.6L475.9 550.7L476.2 550.6L476.5 549.4L476.8 549.1L477.1 549.1L477.4 551.2L477.7 551.2L478.0 551.2L478.3 551.2L478.6 551.2L478.9 553.3L479.2 553.3L479.5 553.3L479.8 553.3L480.1 553.3L480.4 554.1L480.7 554.1L481.0 554.1L481.3 554.1L481.6 554.1L481.9 552.3L482.2 551.9L482.5 551.9L482.8 553.4L483.1 553.4L483.4 553.4L483.7 553.4L484.0 553.4L484.3 553.1L484.6 549.3L484.9 549.7L485.2 553.4L485.5 553.5L485.8 553.5L486.1 553.6L486.4 553.7L486.7 553.7L487.0 553.7L487.3 553.7L487.6 553.7L487.9 552.5L488.2 552.5L488.5 553.5L488.8 553.5L489.1 553.5L489.4 553.5L489.7 553.5L490.0 552.8L490.3 552.8L490.6 552.3L490.9 552.3L491.2 552.3L491.5 552.3L491.8 552.3L492.1 552.3L492.4 552.3L492.7 552.3L493.0 549.2L493.3 550.4L493.6 551.5L493.9 551.5L494.2 553.4L494.5 553.4L494.8 553.4L495.1 553.4L495.4 553.4L495.7 550.9L496.0 550.5L496.3 551.6L496.6 551.6L496.9 552.3L497.2 552.3L497.5 553.2L497.8 553.4L498.1 553.4L498.4 553.4L498.7 553.4L499.0 554.0L499.3 554.0L499.6 554.0L499.9 554.0L500.2 554.0L500.5 554.0L500.8 554.0L501.1 554.0L501.4 554.0L501.7 554.0L502.0 554.0L502.3 552.9L502.6 551.8L502.9 551.8L503.2 551.8L503.5 551.8L503.8 551.8L504.1 551.6L504.4 552.8L504.7 552.8L505.0 552.8L505.3 552.8L505.6 552.8L505.9 551.0L506.2 551.0L506.5 551.0L506.8 553.2L507.1 553.2L507.4 553.2L507.7 553.2L508.0 553.2L508.3 551.8L508.6 551.8L508.9 551.2L509.2 550.5L509.5 550.5L509.8 551.8L510.1 551.8L510.4 551.8L510.7 551.8L511.0 551.8L511.3 551.7L511.6 551.7L511.9 551.7L512.2 551.7L512.5 552.5L512.8 552.5L513.1 552.5L513.4 552.5L513.7 554.1L514.0 554.1L514.3 554.1L514.6 554.1L514.9 554.1L515.2 552.2L515.5 552.2L515.8 554.1L516.1 554.1L516.4 554.1L516.7 554.1L517.0 554.1L517.3 553.3L517.6 553.3L517.9 553.3L518.2 553.3L518.5 551.9L518.8 551.9L519.1 551.7L519.4 551.7L519.7 551.7L520.0 551.7L520.3 551.7L520.6 551.9L520.9 551.9L521.2 552.6L521.5 552.6L521.8 552.6L522.1 552.6L522.4 552.6L522.7 551.4L523.0 551.4L523.3 551.4L523.6 551.4L523.9 551.3L524.2 551.3L524.5 551.3L524.8 552.6L525.1 552.6L525.4 552.6L525.7 552.6L526.0 552.6L526.3 551.3L526.6 549.7L526.9 549.7L527.2 548.7L527.5 548.7L527.8 551.0L528.1 551.0L528.4 551.0L528.7 551.0L529.0 551.0L529.3 551.0L529.6 550.0L529.9 550.0L530.2 550.0L530.5 550.4L530.8 550.4L531.1 550.4L531.4 551.3L531.7 551.3L532.0 551.3L532.3 551.3L532.6 552.7L532.9 552.8L533.2 552.8L533.5 552.8L533.8 552.8L534.1 552.8L534.4 552.1L534.7 552.1L535.0 552.0L535.3 552.0L535.6 552.0L535.9 552.0L536.2 552.8L536.5 552.8L536.8 552.8L537.1 552.8L537.4 552.8L537.7 553.2L538.0 554.5L538.3 554.5L538.6 554.5L538.9 554.5L539.2 554.5L539.5 552.6L539.8 552.6L540.1 552.6L540.4 552.6L540.7 552.4L541.0 552.4L541.3 552.4L541.6 552.4L541.9 552.1L542.2 553.3L542.5 553.3L542.8 553.3L543.1 553.3L543.4 553.7L543.7 553.7L544.0 553.7L544.3 553.7L544.6 553.7L544.9 551.9L545.2 551.9L545.5 551.9L545.8 551.9L546.1 551.9L546.4 551.7L546.7 551.7L547.0 551.7L547.3 551.7L547.6 551.3L547.9 551.3L548.2 551.1L548.5 551.1L548.8 551.1L549.1 551.1L549.4 550.3L549.7 550.3L550.0 549.7L550.3 550.7L550.6 551.1L550.9 551.1L551.2 554.6L551.5 554.6L551.8 554.6L552.1 554.6L552.4 554.6L552.7 552.7L553.0 552.7L553.3 552.7L553.6 552.7L553.9 551.0L554.2 551.0L554.5 551.0L554.8 550.4L555.1 551.0L555.4 551.0L555.7 551.0L556.0 551.4L556.3 551.8L556.6 551.8L556.9 551.8L557.2 552.7L557.5 552.7L557.8 552.7L558.1 552.7L558.4 552.7L558.7 551.2L559.0 551.2L559.3 551.2L559.6 552.7L559.9 552.7L560.2 552.7L560.5 552.7L560.8 554.8L561.1 554.8L561.4 554.8L561.7 554.8L562.0 554.8L562.3 553.5L562.6 553.5L562.9 553.5L563.2 552.1L563.5 552.1L563.8 551.9L564.1 550.8L564.4 550.8L564.7 549.4L565.0 548.2L565.3 551.0L565.6 553.4L565.9 553.4L566.2 553.4L566.5 553.4L566.8 553.4L567.1 554.4L567.4 554.4L567.7 554.4L568.0 554.4L568.3 554.4L568.6 553.3L568.9 553.3L569.2 553.3L569.5 553.4L569.8 553.4L570.1 553.9L570.4 553.9L570.7 553.9L571.0 553.9L571.3 553.9L571.6 551.2L571.9 551.2L572.2 551.3L572.5 551.3L572.8 551.3L573.1 551.3L573.4 551.3L573.7 551.2L574.0 551.2L574.3 551.2L574.6 550.0L574.9 550.2L575.2 552.0L575.5 552.0L575.8 552.0L576.1 552.0L576.4 552.0L576.7 550.8L577.0 550.8L577.3 552.0L577.6 552.0L577.9 552.0L578.2 552.0L578.5 552.0L578.8 551.7L579.1 551.7L579.4 550.6L579.7 551.2L580.0 551.2L580.3 551.9L580.6 552.3L580.9 552.3L581.2 552.3L581.5 552.3L581.8 552.3L582.1 553.2L582.4 553.2L582.7 553.2L583.0 554.9L583.3 554.9L583.6 554.9L583.9 554.9L584.2 554.9L584.5 553.8L584.8 553.8L585.1 552.6L585.4 552.6L585.7 550.5L586.0 550.5L586.3 550.5L586.6 550.5L586.9 550.5L587.2 553.5L587.5 553.5L587.8 553.5L588.1 553.5L588.4 553.5L588.7 552.3L589.0 552.3L589.3 552.3L589.6 553.0L589.9 553.3L590.2 553.3L590.5 553.3L590.8 554.7L591.1 555.1L591.4 555.1L591.7 555.1L592.0 555.1L592.3 555.1L592.6 554.0L592.9 553.8L593.2 551.3L593.5 551.3L593.8 551.9L594.1 551.9L594.4 551.9L594.7 551.9L595.0 551.9L595.3 550.7L595.6 552.3L595.9 552.6L596.2 552.6L596.5 552.6L596.8 552.6L597.1 552.6L597.4 552.1L597.7 552.1L598.0 553.0L598.3 554.8L598.6 554.8L598.9 554.8L599.2 554.8L599.5 554.8L599.8 553.0L600.1 552.6L600.4 552.6L600.7 552.6L601.0 552.5L601.3 552.5L601.6 552.5L601.9 552.5L602.2 551.7L602.5 551.7L602.8 551.7L603.1 551.5L603.4 551.5L603.7 551.6L604.0 551.6L604.3 551.6L604.6 552.7L604.9 552.7L605.2 552.7L605.5 552.7L605.8 552.7L606.1 552.7L606.4 551.6L606.7 551.6L607.0 552.6L607.3 552.6L607.6 553.7L607.9 553.7L608.2 553.7L608.5 553.7L608.8 553.7L609.1 553.6L609.4 553.6L609.7 553.6L610.0 553.6L610.3 552.0L610.6 552.0L610.9 552.8L611.2 552.8L611.5 552.8L611.8 552.8L612.1 552.8L612.4 551.9L612.7 551.9L613.0 551.9L613.3 551.8L613.6 551.8L613.9 552.7L614.2 552.7L614.5 552.7L614.8 552.7L615.1 553.2L615.4 553.2L615.7 553.4L616.0 553.4L616.3 553.4L616.6 553.4L616.9 553.4L617.2 552.9L617.5 552.9L617.8 552.9L618.1 552.9L618.4 551.8L618.7 551.8L619.0 551.8L619.3 551.8L619.6 553.5L619.9 553.5L620.2 553.5L620.5 553.5L620.8 553.5L621.1 553.5L621.4 553.5L621.7 553.5L622.0 553.5L622.3 553.5L622.2 553.5L622.2 563.3L622.3 563.3L622.0 563.3L621.7 563.3L621.4 563.5L621.1 563.5L620.8 561.7L620.5 561.7L620.2 561.7L619.9 561.7L619.6 561.7L619.3 563.0L619.0 563.0L618.7 563.0L618.4 563.0L618.1 564.3L617.8 564.3L617.5 564.3L617.2 564.3L616.9 564.3L616.6 565.5L616.3 565.7L616.0 565.7L615.7 565.7L615.4 565.7L615.1 565.2L614.8 565.2L614.5 565.2L614.2 565.2L613.9 561.8L613.6 561.8L613.3 561.8L613.0 561.8L612.7 561.8L612.4 563.9L612.1 563.9L611.8 563.9L611.5 563.9L611.2 563.9L610.9 567.4L610.6 565.3L610.3 564.0L610.0 564.0L609.7 564.0L609.4 564.0L609.1 564.0L608.8 564.6L608.5 564.6L608.2 565.2L607.9 566.8L607.6 567.0L607.3 564.5L607.0 562.5L606.7 562.5L606.4 562.5L606.1 562.5L605.8 562.5L605.5 563.8L605.2 563.8L604.9 563.8L604.6 563.8L604.3 563.9L604.0 563.9L603.7 563.9L603.4 564.1L603.1 564.1L602.8 564.4L602.5 564.4L602.2 564.4L601.9 564.4L601.6 564.4L601.3 566.3L601.0 565.1L600.7 565.1L600.4 564.4L600.1 563.9L599.8 563.4L599.5 562.8L599.2 562.8L598.9 562.8L598.6 562.8L598.3 562.8L598.0 564.1L597.7 564.4L597.4 564.4L597.1 564.4L596.8 564.6L596.5 566.0L596.2 563.9L595.9 563.9L595.6 563.9L595.3 563.9L595.0 563.9L594.7 564.8L594.4 564.8L594.1 564.8L593.8 564.7L593.5 563.4L593.2 563.4L592.9 563.4L592.6 563.4L592.3 563.4L592.0 564.2L591.7 564.2L591.4 564.6L591.1 564.6L590.8 564.6L590.5 565.8L590.2 565.8L589.9 565.8L589.6 565.6L589.3 565.6L589.0 565.6L588.7 565.6L588.4 564.7L588.1 564.7L587.8 564.7L587.5 564.7L587.2 564.7L586.9 564.2L586.6 564.2L586.3 564.2L586.0 564.2L585.7 564.2L585.4 564.3L585.1 564.3L584.8 564.3L584.5 564.6L584.2 564.6L583.9 564.6L583.6 565.0L583.3 562.6L583.0 562.6L582.7 561.5L582.4 561.5L582.1 561.5L581.8 561.5L581.5 561.5L581.2 563.0L580.9 564.5L580.6 564.5L580.3 564.6L580.0 564.6L579.7 564.6L579.4 564.6L579.1 563.6L578.8 563.6L578.5 563.6L578.2 563.6L577.9 563.6L577.6 564.0L577.3 564.0L577.0 564.0L576.7 564.1L576.4 565.0L576.1 564.3L575.8 564.3L575.5 564.3L575.2 564.3L574.9 564.3L574.6 565.9L574.3 565.9L574.0 565.9L573.7 564.7L573.4 564.7L573.1 564.7L572.8 564.7L572.5 564.7L572.2 564.2L571.9 564.2L571.6 564.2L571.3 564.2L571.0 564.2L570.7 564.6L570.4 564.6L570.1 565.0L569.8 565.0L569.5 564.5L569.2 564.5L568.9 564.1L568.6 564.1L568.3 564.1L568.0 564.1L567.7 564.1L567.4 563.2L567.1 563.2L566.8 563.2L566.5 563.2L566.2 563.2L565.9 564.3L565.6 563.5L565.3 563.5L565.0 563.5L564.7 563.5L564.4 563.5L564.1 563.0L563.8 563.0L563.5 563.0L563.2 563.0L562.9 562.9L562.6 562.9L562.3 562.9L562.0 562.0L561.7 562.0L561.4 562.0L561.1 562.0L560.8 562.0L560.5 564.0L560.2 565.8L559.9 565.8L559.6 563.9L559.3 563.9L559.0 563.9L558.7 563.9L558.4 563.9L558.1 564.0L557.8 564.5L557.5 564.5L557.2 564.5L556.9 563.4L556.6 563.4L556.3 563.4L556.0 563.4L555.7 563.4L555.4 563.9L555.1 564.6L554.8 568.2L554.5 568.2L554.2 568.2L553.9 568.2L553.6 567.2L553.3 564.1L553.0 564.1L552.7 564.1L552.4 564.1L552.1 564.1L551.8 565.7L551.5 565.1L551.2 565.1L550.9 565.1L550.6 563.5L550.3 563.5L550.0 563.5L549.7 563.5L549.4 563.5L549.1 563.8L548.8 563.8L548.5 563.8L548.2 563.8L547.9 564.5L547.6 564.5L547.3 565.2L547.0 565.2L546.7 563.9L546.4 563.6L546.1 563.6L545.8 563.6L545.5 563.6L545.2 563.6L544.9 564.7L544.6 564.7L544.3 563.9L544.0 563.9L543.7 563.9L543.4 563.9L543.1 563.9L542.8 564.2L542.5 564.2L542.2 564.2L541.9 564.2L541.6 564.2L541.3 563.7L541.0 563.7L540.7 563.6L540.4 563.6L540.1 563.6L539.8 563.6L539.5 563.6L539.2 566.0L538.9 566.9L538.6 565.2L538.3 565.2L538.0 565.2L537.7 565.2L537.4 563.1L537.1 563.1L536.8 563.1L536.5 563.1L536.2 563.1L535.9 563.2L535.6 565.9L535.3 562.7L535.0 562.7L534.7 562.7L534.4 562.7L534.1 562.7L533.8 564.6L533.5 564.6L533.2 566.8L532.9 563.0L532.6 563.0L532.3 562.8L532.0 562.8L531.7 562.8L531.4 562.8L531.1 562.8L530.8 566.5L530.5 566.5L530.2 567.6L529.9 567.6L529.6 569.1L529.3 569.1L529.0 568.6L528.7 568.6L528.4 564.7L528.1 564.7L527.8 564.7L527.5 564.7L527.2 564.7L526.9 565.1L526.6 565.1L526.3 565.1L526.0 565.1L525.7 565.7L525.4 564.7L525.1 562.3L524.8 562.3L524.5 562.3L524.2 562.3L523.9 562.3L523.6 563.9L523.3 565.8L523.0 565.0L522.7 565.0L522.4 565.0L522.1 565.0L521.8 565.0L521.5 565.3L521.2 566.4L520.9 566.4L520.6 566.0L520.3 562.1L520.0 562.1L519.7 562.1L519.4 562.1L519.1 562.1L518.8 563.2L518.5 562.9L518.2 562.9L517.9 562.9L517.6 562.9L517.3 562.9L517.0 564.2L516.7 564.2L516.4 563.9L516.1 563.9L515.8 563.9L515.5 563.9L515.2 563.9L514.9 564.8L514.6 565.3L514.3 565.3L514.0 565.8L513.7 563.4L513.4 563.4L513.1 563.4L512.8 563.4L512.5 563.4L512.2 563.7L511.9 563.7L511.6 563.7L511.3 563.7L511.0 563.7L510.7 564.2L510.4 564.2L510.1 564.2L509.8 564.8L509.5 564.8L509.2 564.4L508.9 564.4L508.6 564.4L508.3 562.4L508.0 562.4L507.7 562.4L507.4 562.4L507.1 562.4L506.8 562.5L506.5 562.5L506.2 562.5L505.9 562.5L505.6 564.5L505.3 564.5L505.0 564.5L504.7 564.5L504.4 564.5L504.1 564.5L503.8 564.5L503.5 563.3L503.2 563.3L502.9 563.3L502.6 563.3L502.3 563.3L502.0 563.7L501.7 563.8L501.4 564.2L501.1 564.2L500.8 564.2L500.5 564.2L500.2 564.2L499.9 566.5L499.6 566.5L499.3 567.3L499.0 567.3L498.7 566.5L498.4 566.5L498.1 565.8L497.8 565.8L497.5 565.8L497.2 563.9L496.9 563.9L496.6 563.9L496.3 563.9L496.0 563.2L495.7 563.2L495.4 563.2L495.1 563.2L494.8 563.0L494.5 563.0L494.2 563.0L493.9 563.0L493.6 563.0L493.3 567.2L493.0 568.2L492.7 568.2L492.4 565.4L492.1 565.3L491.8 565.3L491.5 565.3L491.2 565.3L490.9 565.3L490.6 566.5L490.3 566.5L490.0 568.1L489.7 568.1L489.4 567.8L489.1 566.1L488.8 565.0L488.5 565.0L488.2 564.7L487.9 563.2L487.6 563.2L487.3 563.2L487.0 563.2L486.7 563.2L486.4 563.2L486.1 564.1L485.8 564.6L485.5 564.6L485.2 566.0L484.9 566.0L484.6 565.5L484.3 565.5L484.0 565.5L483.7 565.5L483.4 565.5L483.1 564.8L482.8 564.8L482.5 564.8L482.2 564.1L481.9 564.0L481.6 561.8L481.3 561.8L481.0 561.8L480.7 561.8L480.4 561.8L480.1 566.3L479.8 566.3L479.5 566.3L479.2 564.7L478.9 564.7L478.6 564.7L478.3 564.7L478.0 564.7L477.7 563.0L477.4 563.0L477.1 563.0L476.8 563.0L476.5 563.0L476.2 563.2L475.9 565.0L475.6 565.0L475.3 565.0L475.0 565.6L474.7 565.6L474.4 565.6L474.1 563.9L473.8 563.9L473.5 563.9L473.2 563.9L472.9 563.9L472.6 564.2L472.3 563.6L472.0 563.6L471.7 563.3L471.4 563.3L471.1 563.3L470.8 563.3L470.5 563.3L470.2 566.6L469.9 563.2L469.6 563.2L469.3 563.2L469.0 563.2L468.7 563.2L468.4 564.5L468.1 563.9L467.8 563.9L467.5 563.9L467.2 563.9L466.9 563.9L466.6 564.0L466.3 564.0L466.0 564.0L465.7 564.6L465.4 564.3L465.1 564.3L464.8 564.3L464.5 564.3L464.2 564.3L463.9 564.4L463.6 564.4L463.3 565.6L463.0 564.1L462.7 563.4L462.4 563.4L462.1 563.4L461.8 563.4L461.5 563.4L461.2 564.7L460.9 564.7L460.6 564.7L460.3 564.7L460.0 564.0L459.7 564.0L459.4 564.0L459.1 564.0L458.8 564.0L458.5 566.0L458.2 566.0L457.9 565.2L457.6 564.3L457.3 563.2L457.0 563.2L456.7 563.2L456.4 563.2L456.1 563.1L455.8 563.1L455.5 563.1L455.2 563.1L454.9 563.1L454.6 562.4L454.3 562.4L454.0 562.4L453.7 562.4L453.4 562.4L453.1 563.4L452.8 563.4L452.5 563.4L452.2 565.7L451.9 565.7L451.6 565.7L451.3 565.7L451.0 566.0L450.7 566.0L450.4 566.0L450.1 565.6L449.8 565.5L449.5 565.5L449.2 565.5L448.9 563.5L448.6 563.5L448.3 563.5L448.0 563.5L447.7 563.5L447.4 564.5L447.1 564.5L446.8 564.5L446.5 564.5L446.2 564.8L445.9 564.8L445.6 564.1L445.3 564.1L445.0 564.1L444.7 564.1L444.4 564.1L444.1 564.6L443.8 564.6L443.5 564.6L443.2 564.6L442.9 565.2L442.6 565.2L442.3 565.2L442.0 563.7L441.7 563.7L441.4 563.7L441.1 563.7L440.8 563.7L440.5 563.7L440.2 563.7L439.9 563.7L439.6 562.7L439.3 562.7L439.0 562.7L438.7 562.7L438.4 562.7L438.1 563.1L437.8 563.1L437.5 563.1L437.2 563.1L436.9 563.1L436.6 563.6L436.3 563.6L436.0 563.6L435.7 563.6L435.4 564.6L435.1 564.1L434.8 564.1L434.5 564.1L434.2 562.1L433.9 562.1L433.6 562.1L433.3 562.1L433.0 562.1L432.7 564.2L432.4 564.2L432.1 564.1L431.8 563.4L431.5 563.3L431.2 563.3L430.9 563.3L430.6 563.2L430.3 563.2L430.0 563.2L429.7 562.3L429.4 562.3L429.1 562.3L428.8 562.3L428.5 562.3L428.2 563.4L427.9 563.4L427.6 563.4L427.3 563.4L427.0 564.0L426.7 564.0L426.4 564.1L426.1 564.1L425.8 564.1L425.5 566.0L425.2 566.0L424.9 565.1L424.6 565.1L424.3 565.1L424.0 565.1L423.7 561.2L423.4 561.2L423.1 561.2L422.8 561.2L422.5 561.2L422.2 561.3L421.9 561.9L421.6 561.9L421.3 562.0L421.0 562.0L420.7 561.3L420.4 561.3L420.1 561.3L419.8 561.3L419.5 561.3L419.2 563.5L418.9 563.5L418.6 565.8L418.3 564.8L418.0 563.3L417.7 562.3L417.4 562.3L417.1 562.3L416.8 562.3L416.5 562.3L416.2 562.7L415.9 563.2L415.6 563.2L415.3 563.2L415.0 563.9L414.7 563.9L414.4 566.2L414.1 564.2L413.8 562.6L413.5 562.6L413.2 562.6L412.9 562.6L412.6 562.6L412.3 564.9L412.0 564.9L411.7 564.9L411.4 565.8L411.1 565.8L410.8 567.3L410.5 567.3L410.2 567.3L409.9 567.3L409.6 567.3L409.3 566.1L409.0 563.0L408.7 563.0L408.4 563.0L408.1 563.0L407.8 563.0L407.5 564.6L407.2 563.9L406.9 563.7L406.6 563.7L406.3 563.7L406.0 562.0L405.7 562.0L405.4 562.0L405.1 562.0L404.8 562.0L404.5 562.9L404.2 563.7L403.9 563.7L403.6 563.6L403.3 563.6L403.0 563.6L402.7 563.6L402.4 562.0L402.1 562.0L401.8 562.0L401.5 562.0L401.2 562.0L400.9 562.3L400.6 562.3L400.3 562.3L400.0 562.3L399.7 562.3L399.4 562.3L399.1 562.3L398.8 562.5L398.5 564.4L398.2 564.4L397.9 563.8L397.6 563.8L397.3 563.8L397.0 563.8L396.7 563.8L396.4 564.1L396.1 561.3L395.8 561.3L395.5 561.3L395.2 561.3L394.9 561.3L394.6 563.9L394.3 563.9L394.0 563.7L393.7 563.4L393.4 563.4L393.1 563.4L392.8 563.4L392.5 563.4L392.2 563.7L391.9 563.7L391.6 562.2L391.3 561.8L391.0 561.8L390.7 561.8L390.4 561.8L390.1 561.8L389.8 564.5L389.5 564.1L389.2 564.1L388.9 564.1L388.6 562.9L388.3 562.9L388.0 562.9L387.7 562.9L387.4 562.9L387.1 564.8L386.8 563.5L386.5 563.5L386.2 563.5L385.9 563.5L385.6 563.5L385.3 564.2L385.0 565.2L384.7 565.2L384.4 562.7L384.1 562.7L383.8 562.7L383.5 562.7L383.2 562.7L382.9 563.5L382.6 561.9L382.3 561.9L382.0 561.9L381.7 561.9L381.4 561.9L381.1 563.8L380.8 563.8L380.5 562.3L380.2 562.3L379.9 562.3L379.6 562.3L379.3 562.3L379.0 563.5L378.7 563.5L378.4 563.5L378.1 563.5L377.8 561.5L377.5 561.5L377.2 561.5L376.9 561.5L376.6 561.5L376.3 562.9L376.0 562.9L375.7 562.9L375.4 562.9L375.1 562.9L374.8 564.1L374.5 564.1L374.2 564.1L373.9 564.1L373.6 564.3L373.3 565.3L373.0 564.4L372.7 563.0L372.4 563.0L372.1 563.0L371.8 563.0L371.5 563.0L371.2 565.7L370.9 565.9L370.6 565.9L370.3 565.0L370.0 565.0L369.7 565.0L369.4 564.7L369.1 564.7L368.8 564.7L368.5 564.7L368.2 564.7L367.9 564.0L367.6 564.0L367.3 564.0L367.0 564.0L366.7 563.6L366.4 563.6L366.1 563.6L365.8 563.6L365.5 563.6L365.2 563.7L364.9 563.7L364.6 564.2L364.3 564.2L364.0 564.6L363.7 565.0L363.4 564.7L363.1 564.7L362.8 562.7L362.5 562.7L362.2 562.7L361.9 562.7L361.6 562.7L361.3 564.8L361.0 564.9L360.7 565.1L360.4 565.1L360.1 565.1L359.8 565.9L359.5 565.9L359.2 565.9L358.9 565.9L358.6 563.9L358.3 563.9L358.0 563.9L357.7 563.9L357.4 563.9L357.1 564.2L356.8 564.2L356.5 564.2L356.2 563.4L355.9 563.4L355.6 563.4L355.3 563.4L355.0 563.4L354.7 565.7L354.4 565.7L354.1 565.7L353.8 565.2L353.5 565.2L353.2 563.4L352.9 563.4L352.6 563.4L352.3 562.0L352.0 562.0L351.7 562.0L351.4 562.0L351.1 562.0L350.8 563.6L350.5 563.6L350.2 563.6L349.9 563.2L349.6 563.2L349.3 563.2L349.0 563.2L348.7 563.2L348.4 564.5L348.1 564.6L347.8 563.7L347.5 563.7L347.2 563.7L346.9 563.6L346.6 560.9L346.3 560.9L346.0 560.9L345.7 560.9L345.4 560.9L345.1 563.6L344.8 563.6L344.5 562.7L344.2 562.7L343.9 562.7L343.6 562.7L343.3 562.7L343.0 563.2L342.7 563.2L342.4 563.2L342.1 562.9L341.8 562.9L341.5 562.9L341.2 562.9L340.9 562.9L340.6 563.1L340.3 563.1L340.0 563.9L339.7 563.8L339.4 563.6L339.1 563.6L338.8 563.6L338.5 563.6L338.2 563.6L337.9 564.7L337.6 564.8L337.3 564.8L337.0 564.8L336.7 564.8L336.4 565.3L336.1 563.3L335.8 563.3L335.5 563.3L335.2 563.3L334.9 563.3L334.6 565.5L334.3 565.5L334.0 565.5L333.7 565.5L333.4 565.5L333.1 565.8L332.8 565.8L332.5 565.8L332.2 563.0L331.9 563.0L331.6 563.0L331.3 563.0L331.0 563.0L330.7 563.8L330.4 563.8L330.1 563.8L329.8 563.8L329.5 565.6L329.2 565.6L328.9 565.6L328.6 565.9L328.3 565.3L328.0 565.3L327.7 563.0L327.4 563.0L327.1 563.0L326.8 563.0L326.5 563.0L326.2 563.6L325.9 563.6L325.6 563.6L325.3 563.6L325.0 563.6L324.7 564.3L324.4 564.2L324.1 564.2L323.8 564.2L323.5 564.2L323.2 564.2L322.9 564.4L322.6 563.9L322.3 563.9L322.0 563.9L321.7 563.2L321.4 563.2L321.1 563.2L320.8 563.2L320.5 563.2L320.2 564.3L319.9 564.9L319.6 564.9L319.3 564.9L319.0 564.9L318.7 564.9L318.4 565.0L318.1 563.6L317.8 563.6L317.5 563.6L317.2 563.6L316.9 563.6L316.6 564.4L316.3 564.0L316.0 564.0L315.7 564.0L315.4 564.0L315.1 564.0L314.8 564.3L314.5 565.2L314.2 564.3L313.9 564.3L313.6 564.0L313.3 563.3L313.0 563.3L312.7 563.3L312.4 563.3L312.1 563.3L311.8 563.2L311.5 563.2L311.2 563.2L310.9 563.2L310.6 563.2L310.3 563.7L310.0 562.8L309.7 562.8L309.4 562.8L309.1 562.8L308.8 562.8L308.5 563.7L308.2 563.7L307.9 563.7L307.6 563.7L307.3 563.7L307.0 563.7L306.7 565.3L306.4 565.3L306.1 568.0L305.8 563.9L305.5 563.9L305.2 563.9L304.9 563.9L304.6 563.9L304.3 563.9L304.0 563.9L303.7 563.4L303.4 563.4L303.1 563.4L302.8 563.4L302.5 563.1L302.2 563.1L301.9 563.1L301.6 563.1L301.3 563.1L301.0 563.7L300.7 563.7L300.4 564.1L300.1 564.1L299.8 563.8L299.5 563.8L299.2 563.8L298.9 563.8L298.6 563.8L298.3 565.2L298.0 564.8L297.7 564.4L297.4 563.5L297.1 563.5L296.8 563.5L296.5 563.5L296.2 563.5L295.9 564.7L295.6 564.7L295.3 563.0L295.0 563.0L294.7 563.0L294.4 563.0L294.1 563.0L293.8 563.2L293.5 563.2L293.2 563.0L292.9 563.0L292.6 563.0L292.3 563.0L292.0 561.8L291.7 561.8L291.4 561.8L291.1 561.8L290.8 561.8L290.5 562.9L290.2 562.9L289.9 562.9L289.6 562.9L289.3 562.7L289.0 562.7L288.7 562.7L288.4 562.7L288.1 562.7L287.8 563.3L287.5 562.7L287.2 562.7L286.9 562.7L286.6 562.7L286.3 562.7L286.0 564.1L285.7 564.1L285.4 564.1L285.1 564.1L284.8 564.1L284.5 566.2L284.2 566.2L283.9 563.0L283.6 563.0L283.3 563.0L283.0 563.0L282.7 563.0L282.4 563.8L282.1 563.8L281.8 564.4L281.5 564.4L281.2 563.4L280.9 563.4L280.6 563.4L280.3 563.4L280.0 563.4L279.7 565.9L279.4 565.9L279.1 565.8L278.8 565.8L278.5 564.8L278.2 564.8L277.9 564.8L277.6 564.8L277.3 564.8L277.0 566.0L276.7 566.0L276.4 565.8L276.1 565.8L275.8 564.3L275.5 564.3L275.2 564.3L274.9 564.3L274.6 564.3L274.3 565.2L274.0 566.1L273.7 563.5L273.4 563.5L273.1 563.5L272.8 563.5L272.5 563.0L272.2 563.0L271.9 563.0L271.6 563.0L271.3 563.0L271.0 564.0L270.7 562.9L270.4 562.9L270.1 562.9L269.8 562.9L269.5 562.9L269.2 562.9L268.9 562.9L268.6 562.9L268.3 562.9L268.0 564.7L267.7 562.9L267.4 562.9L267.1 562.1L266.8 562.1L266.5 562.1L266.2 562.1L265.9 562.1L265.6 563.9L265.3 563.9L265.0 563.9L264.7 563.9L264.4 563.9L264.1 565.1L263.8 565.1L263.5 566.5L263.2 566.0L262.9 566.0L262.6 566.0L262.3 565.6L262.0 565.6L261.7 565.6L261.4 565.6L261.1 565.6L260.8 565.9L260.5 565.9L260.2 567.1L259.9 562.1L259.6 562.1L259.3 562.1L259.0 562.1L258.7 562.1L258.4 564.1L258.1 564.1L257.8 564.1L257.5 564.1L257.2 564.1L256.9 562.7L256.6 562.7L256.3 562.7L256.0 562.7L255.7 562.7L255.4 563.7L255.1 564.0L254.8 564.5L254.5 563.7L254.2 563.7L253.9 563.7L253.6 563.7L253.3 563.7L253.0 563.7L252.7 563.7L252.4 563.2L252.1 563.2L251.8 563.2L251.5 563.2L251.2 563.2L250.9 563.4L250.6 563.1L250.3 562.8L250.0 562.8L249.7 562.8L249.4 562.8L249.1 562.8L248.8 563.0L248.5 563.0L248.2 563.0L247.9 563.3L247.6 563.5L247.3 563.5L247.0 563.5L246.7 564.9L246.4 564.9L246.1 564.5L245.8 563.6L245.5 563.6L245.2 563.6L244.9 563.6L244.6 563.6L244.3 564.9L244.0 564.9L243.7 563.3L243.4 563.3L243.1 563.3L242.8 563.3L242.5 563.3L242.2 564.1L241.9 564.9L241.6 564.1L241.3 564.1L241.0 564.1L240.7 564.1L240.4 564.1L240.1 564.1L239.8 563.8L239.5 563.7L239.2 563.7L238.9 562.1L238.6 562.1L238.3 562.1L238.0 562.1L237.7 562.1L237.4 562.4L237.1 562.4L236.8 562.4L236.5 563.0L236.2 563.0L235.9 563.0L235.6 563.3L235.3 563.3L235.0 563.3L234.7 563.0L234.4 563.0L234.1 563.0L233.8 563.0L233.5 563.0L233.2 564.8L232.9 564.8L232.6 565.4L232.3 565.4L232.0 565.4L231.7 565.4L231.4 565.8L231.1 565.8L230.8 567.9L230.5 567.6L230.2 567.6L229.9 567.6L229.6 566.6L229.3 565.6L229.0 564.5L228.7 564.5L228.4 564.5L228.1 563.7L227.8 563.7L227.5 563.7L227.2 563.7L226.9 563.7L226.6 562.1L226.3 562.1L226.0 562.1L225.7 562.1L225.4 562.1L225.1 563.0L224.8 563.0L224.5 563.0L224.2 563.0L223.9 563.4L223.6 563.4L223.3 563.4L223.0 562.7L222.7 562.7L222.4 562.7L222.1 562.7L221.8 562.7L221.5 565.4L221.2 564.8L220.9 564.8L220.6 564.8L220.3 564.8L220.0 564.8L219.7 564.9L219.4 565.1L219.1 565.1L218.8 565.1L218.5 567.2L218.2 567.3L217.9 566.9L217.6 564.6L217.3 564.6L217.0 564.6L216.7 564.6L216.4 564.6L216.1 565.3L215.8 565.3L215.5 565.3L215.2 565.3L214.9 565.3L214.6 566.1L214.3 566.1L214.0 565.9L213.7 563.7L213.4 563.7L213.1 563.7L212.8 563.7L212.5 563.7L212.2 562.8L211.9 562.8L211.6 562.8L211.3 562.8L211.0 562.8L210.7 563.8L210.4 563.8L210.1 563.8L209.8 563.8L209.5 563.8L209.2 566.1L208.9 566.1L208.6 566.4L208.3 566.4L208.0 566.4L207.7 566.4L207.4 566.4L207.1 567.1L206.8 566.1L206.5 566.1L206.2 566.1L205.9 566.1L205.6 563.9L205.3 563.9L205.0 563.9L204.7 563.9L204.4 563.9L204.1 564.7L203.8 564.7L203.5 564.7L203.2 565.6L202.9 565.6L202.6 566.3L202.3 566.3L202.0 567.5L201.7 566.0L201.4 566.0L201.1 563.7L200.8 563.7L200.5 563.7L200.2 563.7L199.9 563.7L199.6 563.9L199.3 563.9L199.0 564.2L198.7 564.2L198.4 564.2L198.1 564.2L197.8 565.4L197.5 564.9L197.2 564.9L196.9 564.9L196.6 564.9L196.3 564.1L196.0 563.4L195.7 563.4L195.4 563.4L195.1 563.4L194.8 563.4L194.5 564.4L194.2 562.7L193.9 562.4L193.6 562.4L193.3 562.4L193.0 562.4L192.7 562.4L192.4 563.5L192.1 563.5L191.8 563.5L191.5 562.8L191.2 562.8L190.9 562.8L190.6 562.8L190.3 562.8L190.0 564.8L189.7 564.8L189.4 565.3L189.1 563.7L188.8 563.7L188.5 563.7L188.2 563.1L187.9 563.1L187.6 563.1L187.3 563.1L187.0 563.1L186.7 564.0L186.4 563.0L186.1 563.0L185.8 563.0L185.5 563.0L185.2 563.0L184.9 563.7L184.6 563.7L184.3 563.7L184.0 566.1L183.7 566.1L183.4 564.4L183.1 563.3L182.8 561.3L182.5 561.3L182.2 561.3L181.9 561.3L181.6 561.3L181.3 564.5L181.0 564.3L180.7 564.3L180.4 563.3L180.1 563.3L179.8 563.3L179.5 563.3L179.2 563.3L178.9 566.4L178.6 565.3L178.3 564.9L178.0 564.9L177.7 563.7L177.4 562.4L177.1 562.4L176.8 562.4L176.5 562.4L176.2 562.4L175.9 562.8L175.6 562.8L175.3 562.8L175.0 564.3L174.7 564.3L174.9 564.3Z" fill="#0000ff"/>
<path d="M174.70 552.3V566.8M175.00 550.5V564.3M175.30 547.0V570.8M175.60 551.8V564.5M175.90 546.8V562.8M176.20 549.0V563.7M176.50 546.5V564.6M176.80 546.6V562.4M177.10 549.2V563.7M177.40 551.0V567.4M177.70 552.8V564.9M178.00 552.0V565.3M178.30 551.5V566.4M178.60 548.1V568.3M178.90 552.1V568.8M179.20 550.8V569.1M179.50 550.1V569.0M179.80 552.0V563.3M180.10 551.6V567.5M180.40 548.3V564.3M180.70 551.3V566.7M181.00 550.8V564.5M181.30 548.1V565.4M181.60 551.8V567.3M181.90 552.9V564.7M182.20 551.7V561.3M182.50 552.2V563.3M182.80 549.3V564.4M183.10 551.3V568.9M183.40 549.3V569.9M183.70 551.7V573.5M184.00 554.1V567.6M184.30 553.7V566.1M184.60 553.5V569.6M184.90 553.6V563.7M185.20 553.3V565.3M185.50 549.4V571.0M185.80 552.9V563.0M186.10 551.2V565.9M186.40 549.6V569.1M186.70 552.2V564.0M187.00 551.4V564.9M187.30 548.6V564.3M187.60 548.5V563.1M187.90 550.9V564.1M188.20 554.2V567.8M188.50 553.1V563.7M188.80 550.8V565.3M189.10 548.8V568.7M189.40 550.0V565.7M189.70 548.7V567.1M190.00 549.9V565.5M190.30 548.9V564.8M190.60 555.0V566.8M190.90 553.7V562.8M191.20 552.3V565.3M191.50 550.5V563.7M191.80 546.4V566.0M192.10 550.2V564.0M192.40 548.1V563.5M192.70 552.0V564.1M193.00 549.3V565.2M193.30 545.9V562.4M193.60 550.1V562.7M193.90 551.5V568.9M194.20 551.1V566.3M194.50 552.3V564.4M194.80 549.9V564.4M195.10 550.0V565.0M195.40 546.3V563.4M195.70 546.8V564.1M196.00 552.0V570.6M196.30 549.5V567.7M196.60 550.8V567.8M196.90 545.4V564.9M197.20 551.6V565.4M197.50 552.8V567.0M197.80 551.6V565.6M198.10 548.0V566.2M198.40 544.4V569.0M198.70 546.9V564.2M199.00 551.3V564.6M199.30 547.5V564.4M199.60 550.9V568.1M199.90 549.7V563.9M200.20 550.2V566.9M200.50 548.6V563.7M200.80 551.1V567.5M201.10 552.7V566.0M201.40 545.8V567.6M201.70 550.5V568.9M202.00 549.5V567.5M202.30 554.0V568.3M202.60 551.2V567.6M202.90 553.9V566.3M203.20 554.2V566.3M203.50 552.1V565.6M203.80 547.6V568.0M204.10 549.0V564.7M204.40 551.6V566.9M204.70 553.0V568.3M205.00 551.2V563.9M205.30 553.6V568.4M205.60 551.9V569.0M205.90 548.1V566.2M206.20 550.8V566.1M206.50 549.3V567.3M206.80 551.9V567.1M207.10 546.0V571.4M207.40 552.2V567.1M207.70 546.8V567.6M208.00 548.9V566.4M208.30 551.5V573.7M208.60 550.1V570.7M208.90 550.6V571.2M209.20 551.8V567.4M209.50 552.0V566.1M209.80 552.4V570.5M210.10 550.9V563.8M210.40 552.3V565.4M210.70 549.5V568.4M211.00 551.0V566.9M211.30 545.6V566.1M211.60 546.6V562.8M211.90 549.5V568.6M212.20 546.5V567.1M212.50 545.4V564.5M212.80 546.6V568.3M213.10 548.0V563.7M213.40 550.0V565.9M213.70 551.9V566.6M214.00 550.6V569.3M214.30 552.4V566.1M214.60 546.2V566.2M214.90 552.7V566.4M215.20 549.5V569.0M215.50 549.0V565.3M215.80 545.5V568.4M216.10 546.2V567.0M216.40 546.0V566.7M216.70 554.1V567.9M217.00 547.2V564.6M217.30 549.4V566.9M217.60 552.0V569.7M217.90 552.8V574.3M218.20 549.1V573.7M218.50 552.7V567.3M218.80 552.8V574.1M219.10 551.9V567.2M219.40 552.9V565.1M219.70 551.8V568.2M220.00 549.8V566.9M220.30 550.6V564.9M220.60 548.8V564.8M220.90 550.5V570.9M221.20 554.3V565.4M221.50 548.9V566.8M221.80 550.4V565.7M222.10 552.2V574.3M222.40 551.9V562.7M222.70 548.2V567.6M223.00 549.1V565.0M223.30 553.2V567.0M223.60 552.3V563.4M223.90 550.6V565.5M224.20 546.9V569.0M224.50 550.2V565.0M224.80 552.2V563.0M225.10 551.9V563.5M225.40 553.3V563.5M225.70 552.1V563.8M226.00 550.4V562.1M226.30 553.6V564.9M226.60 548.0V564.2M226.90 545.9V568.0M227.20 551.4V565.7M227.50 551.1V563.7M227.80 552.6V567.7M228.10 553.0V567.5M228.40 554.6V564.5M228.70 553.0V565.6M229.00 548.9V566.6M229.30 554.8V571.3M229.60 552.0V571.9M229.90 552.1V567.6M230.20 548.4V569.0M230.50 550.9V571.2M230.80 553.0V570.1M231.10 552.2V567.9M231.40 550.3V568.5M231.70 548.4V565.8M232.00 551.5V568.8M232.30 552.4V565.4M232.60 551.2V569.5M232.90 551.2V566.5M233.20 548.3V568.1M233.50 547.8V564.8M233.80 550.2V565.3M234.10 551.6V563.0M234.40 549.0V565.2M234.70 548.3V564.3M235.00 549.3V566.8M235.30 550.0V564.1M235.60 547.7V563.3M235.90 553.4V566.3M236.20 552.6V568.0M236.50 551.6V563.0M236.80 549.1V567.6M237.10 552.9V567.0M237.40 553.9V562.4M237.70 550.5V564.9M238.00 547.5V564.6M238.30 551.9V562.1M238.60 546.1V563.9M238.90 550.4V563.7M239.20 553.3V563.8M239.50 544.4V566.8M239.80 550.5V564.9M240.10 547.6V564.1M240.40 549.9V564.5M240.70 551.5V564.1M241.00 551.6V564.1M241.30 547.8V566.0M241.60 551.4V568.2M241.90 551.4V570.9M242.20 551.9V564.9M242.50 548.4V565.5M242.80 549.4V564.1M243.10 546.9V563.3M243.40 552.3V565.6M243.70 551.7V566.3M244.00 551.5V567.7M244.30 552.2V564.9M244.60 549.4V566.8M244.90 547.8V567.6M245.20 550.8V563.6M245.50 547.3V564.5M245.80 549.1V568.2M246.10 549.5V565.6M246.40 550.0V565.0M246.70 551.1V565.3M247.00 544.3V564.9M247.30 548.1V567.8M247.60 547.3V563.5M247.90 546.4V568.4M248.20 551.3V563.8M248.50 546.7V563.3M248.80 548.7V563.0M249.10 549.0V565.6M249.40 550.5V566.5M249.70 549.5V562.8M250.00 553.2V563.1M250.30 548.4V563.4M250.60 552.3V571.1M250.90 552.7V565.3M251.20 551.7V565.2M251.50 552.3V565.3M251.80 551.9V563.2M252.10 553.4V568.8M252.40 553.1V565.3M252.70 550.9V566.8M253.00 552.3V563.7M253.30 530.4V565.2M253.60 549.5V564.7M253.90 551.1V563.7M254.20 553.9V567.0M254.50 553.2V565.5M254.80 553.9V565.2M255.10 551.7V566.5M255.40 551.3V564.5M255.70 551.9V564.0M256.00 553.9V563.7M256.30 551.0V562.7M256.60 552.1V569.4M256.90 553.1V565.1M257.20 551.9V568.3M257.50 548.3V566.4M257.80 551.6V564.1M258.10 548.3V566.5M258.40 552.0V567.6M258.70 552.3V565.9M259.00 550.8V568.1M259.30 553.4V562.1M259.60 552.3V645.4M259.90 553.0V567.5M260.20 553.9V567.1M260.50 551.3V568.6M260.80 550.5V573.9M261.10 549.9V565.9M261.40 552.4V566.8M261.70 551.2V565.6M262.00 552.2V567.0M262.30 550.6V569.1M262.60 553.3V566.0M262.90 551.6V570.1M263.20 548.8V566.5M263.50 549.7V569.2M263.80 550.1V569.9M264.10 548.3V568.6M264.40 551.3V565.1M264.70 549.1V567.0M265.00 551.4V563.9M265.30 549.6V567.4M265.60 553.5V568.4M265.90 552.8V565.9M266.20 548.9V564.7M266.50 547.9V562.1M266.80 551.0V565.3M267.10 553.9V562.9M267.40 552.2V564.7M267.70 553.3V566.8M268.00 554.4V566.7M268.30 551.9V570.4M268.60 551.6V573.2M268.90 548.2V562.9M269.20 550.7V563.9M269.50 550.3V568.4M269.80 551.3V565.6M270.10 548.9V562.9M270.40 548.7V566.0M270.70 549.8V564.0M271.00 544.1V568.1M271.30 550.4V566.9M271.60 551.0V564.2M271.90 551.2V563.0M272.20 547.3V568.3M272.50 548.4V565.0M272.80 551.6V565.9M273.10 551.2V563.5M273.40 550.8V566.5M273.70 549.2V569.6M274.00 551.8V575.4M274.30 548.2V570.6M274.60 551.9V566.1M274.90 544.7V565.2M275.20 550.0V564.3M275.50 552.7V566.6M275.80 550.7V565.8M276.10 547.7V569.8M276.40 552.1V569.1M276.70 552.3V568.6M277.00 546.1V566.0M277.30 551.3V568.5M277.60 554.1V566.4M277.90 553.3V564.8M278.20 551.8V568.3M278.50 544.8V565.8M278.80 552.3V567.9M279.10 550.8V569.4M279.40 551.6V570.6M279.70 552.7V572.1M280.00 555.4V565.9M280.30 552.8V568.1M280.60 549.8V563.4M280.90 552.1V576.2M281.20 549.7V566.4M281.50 548.0V569.5M281.80 545.9V564.4M282.10 553.2V565.9M282.40 548.3V564.9M282.70 548.8V563.8M283.00 550.7V565.0M283.30 551.0V563.0M283.60 551.3V567.0M283.90 550.9V566.2M284.20 547.2V566.7M284.50 551.6V571.8M284.80 551.4V567.8M285.10 549.5V566.7M285.40 553.9V564.1M285.70 551.2V565.7M286.00 552.5V564.7M286.30 549.4V566.8M286.60 547.8V565.2M286.90 550.3V562.7M287.20 551.7V565.5M287.50 548.3V569.8M287.80 551.1V563.3M288.10 552.3V567.1M288.40 549.6V567.3M288.70 551.3V562.7M289.00 551.3V566.2M289.30 551.3V570.7M289.60 553.2V565.2M289.90 554.6V563.7M290.20 551.1V562.9M290.50 553.2V563.4M290.80 550.6V570.7M291.10 554.2V566.7M291.40 550.9V561.8M291.70 546.6V565.2M292.00 552.9V566.2M292.30 552.4V563.5M292.60 553.1V563.0M292.90 551.2V564.4M293.20 552.5V565.8M293.50 549.4V563.2M293.80 552.5V563.5M294.10 552.7V564.9M294.40 552.1V563.2M294.70 549.6V563.0M295.00 549.7V565.2M295.30 551.2V567.6M295.60 549.7V566.5M295.90 551.1V564.7M296.20 551.8V567.4M296.50 552.1V566.4M296.80 551.9V563.5M297.10 545.1V564.4M297.40 549.4V564.8M297.70 554.6V566.7M298.00 547.6V567.8M298.30 551.3V565.9M298.60 551.1V565.2M298.90 544.6V565.7M299.20 548.8V563.8M299.50 550.5V564.6M299.80 552.3V566.1M300.10 551.8V566.9M300.40 553.9V565.1M300.70 550.6V564.1M301.00 552.0V565.9M301.30 554.2V563.7M301.60 550.5V563.7M301.90 551.0V563.1M302.20 552.4V565.6M302.50 552.3V564.7M302.80 550.2V565.0M303.10 552.3V563.4M303.40 550.3V566.6M303.70 549.8V569.2M304.00 548.7V563.9M304.30 551.6V564.8M304.60 548.2V566.7M304.90 543.5V568.2M305.20 551.7V563.9M305.50 550.0V569.5M305.80 554.0V571.9M306.10 551.2V569.0M306.40 551.8V573.3M306.70 553.4V568.0M307.00 552.6V565.3M307.30 548.7V567.5M307.60 551.6V563.7M307.90 550.5V572.6M308.20 551.5V564.0M308.50 549.0V564.0M308.80 548.0V565.3M309.10 550.1V563.7M309.40 552.2V562.8M309.70 550.1V563.7M310.00 550.1V567.2M310.30 550.9V567.1M310.60 547.4V564.9M310.90 548.6V567.9M311.20 551.3V563.2M311.50 552.0V563.6M311.80 553.2V567.4M312.10 552.6V564.5M312.40 550.5V567.0M312.70 550.1V563.3M313.00 546.2V564.0M313.30 552.6V565.7M313.60 552.2V564.3M313.90 553.2V567.9M314.20 547.1V568.3M314.50 551.7V565.2M314.80 550.4V565.5M315.10 552.3V568.8M315.40 552.5V564.3M315.70 550.3V564.0M316.00 553.5V565.2M316.30 553.2V564.4M316.60 553.2V565.1M316.90 555.1V565.3M317.20 554.8V565.5M317.50 551.7V563.6M317.80 549.6V565.0M318.10 547.6V567.5M318.40 552.4V568.3M318.70 544.8V565.8M319.00 548.0V569.8M319.30 553.9V564.9M319.60 553.4V565.9M319.90 551.3V565.2M320.20 554.2V566.8M320.50 552.5V565.0M320.80 551.9V564.3M321.10 551.6V563.2M321.40 552.6V567.3M321.70 553.0V564.7M322.00 553.1V563.9M322.30 552.1V567.0M322.60 552.1V564.4M322.90 549.9V565.1M323.20 553.9V565.1M323.50 552.9V565.6M323.80 551.2V564.2M324.10 553.7V564.4M324.40 554.9V565.7M324.70 552.4V574.4M325.00 552.9V564.7M325.30 547.2V564.3M325.60 552.4V563.6M325.90 551.2V563.8M326.20 551.3V566.3M326.50 550.2V565.1M326.80 553.6V565.5M327.10 550.4V563.0M327.40 552.4V568.0M327.70 550.6V565.3M328.00 551.7V569.2M328.30 550.1V565.9M328.60 553.2V569.6M328.90 553.0V565.9M329.20 549.3V569.3M329.50 549.9V565.6M329.80 544.2V573.4M330.10 549.4V569.1M330.40 547.6V563.8M330.70 548.2V568.7M331.00 552.1V566.8M331.30 544.3V566.6M331.60 548.0V563.0M331.90 545.5V568.6M332.20 548.4V569.7M332.50 550.0V566.4M332.80 547.7V567.7M333.10 547.2V565.8M333.40 546.8V566.2M333.70 548.6V569.2M334.00 548.9V565.5M334.30 549.7V566.9M334.60 549.6V567.2M334.90 551.4V565.6M335.20 546.9V566.3M335.50 549.5V563.3M335.80 551.2V566.3M336.10 549.0V565.9M336.40 551.0V566.1M336.70 552.0V566.5M337.00 547.4V565.3M337.30 550.1V564.8M337.60 549.9V567.0M337.90 550.9V565.7M338.20 552.1V570.8M338.50 552.3V564.7M338.80 551.9V563.6M339.10 554.8V563.8M339.40 546.4V564.6M339.70 550.3V563.9M340.00 549.9V564.8M340.30 552.4V565.3M340.60 547.2V564.0M340.90 550.4V563.1M341.20 545.4V567.6M341.50 551.9V562.9M341.80 550.5V569.2M342.10 553.2V568.4M342.40 550.8V564.9M342.70 552.8V563.2M343.00 548.3V565.4M343.30 552.2V564.2M343.60 550.9V564.8M343.90 550.8V562.7M344.20 552.9V565.1M344.50 554.2V567.1M344.80 544.4V563.6M345.10 554.5V564.2M345.40 554.0V564.0M345.70 552.9V564.7M346.00 553.9V560.9M346.30 549.6V563.6M346.60 551.3V565.7M346.90 551.0V566.6M347.20 548.8V563.7M347.50 548.9V564.6M347.80 552.7V566.3M348.10 549.0V567.6M348.40 552.1V565.2M348.70 551.9V565.9M349.00 552.2V564.5M349.30 551.9V563.2M349.60 553.5V565.8M349.90 552.6V564.1M350.20 555.1V564.3M350.50 552.1V564.0M350.80 552.5V563.6M351.10 550.3V563.7M351.40 555.1V563.9M351.70 546.1V562.0M352.00 552.9V565.4M352.30 551.8V568.1M352.60 550.3V563.4M352.90 550.5V570.2M353.20 550.8V565.2M353.50 549.3V569.8M353.80 554.0V566.1M354.10 552.5V566.0M354.40 551.5V566.2M354.70 553.6V565.7M355.00 551.6V568.9M355.30 547.7V566.2M355.60 551.6V563.4M355.90 550.9V567.3M356.20 547.0V565.8M356.50 548.4V564.2M356.80 552.8V565.4M357.10 550.0V571.0M357.40 552.8V566.6M357.70 548.0V565.5M358.00 551.6V563.9M358.30 544.6V571.6M358.60 552.9V565.9M358.90 544.1V569.6M359.20 551.0V570.9M359.50 544.5V566.1M359.80 546.8V565.9M360.10 550.9V571.2M360.40 550.4V567.3M360.70 551.3V565.1M361.00 553.2V566.7M361.30 551.5V565.5M361.60 551.4V564.9M361.90 550.0V564.8M362.20 552.1V562.7M362.50 551.0V565.5M362.80 550.4V564.7M363.10 551.0V565.8M363.40 551.9V565.0M363.70 550.3V566.8M364.00 551.2V567.7M364.30 552.4V566.3M364.60 550.3V564.6M364.90 549.2V564.2M365.20 550.7V565.4M365.50 547.9V563.7M365.80 552.0V563.9M366.10 551.9V563.6M366.40 551.9V566.2M366.70 551.3V564.9M367.00 547.8V566.1M367.30 550.7V564.0M367.60 551.7V567.3M367.90 549.4V568.3M368.20 546.6V564.7M368.50 550.2V564.9M368.80 549.9V564.7M369.10 550.5V565.9M369.40 547.2V566.3M369.70 552.2V565.0M370.00 547.6V568.9M370.30 552.2V565.9M370.60 552.5V570.7M370.90 552.8V570.1M371.20 547.6V568.4M371.50 552.1V571.7M371.80 547.1V565.7M372.10 547.3V563.0M372.40 549.9V564.4M372.70 552.8V566.3M373.00 549.8V577.6M373.30 552.5V566.6M373.60 553.9V565.3M373.90 553.1V567.7M374.20 551.9V564.3M374.50 554.6V564.1M374.80 554.1V566.3M375.10 553.8V566.5M375.40 551.4V564.9M375.70 553.9V562.9M376.00 549.2V567.9M376.30 554.5V566.7M376.60 553.6V564.0M376.90 553.2V563.4M377.20 550.7V561.5M377.50 551.3V566.2M377.80 549.8V565.0M378.10 550.9V564.6M378.40 554.2V563.5M378.70 551.6V564.9M379.00 553.4V564.1M379.30 551.9V565.4M379.60 551.5V563.5M379.90 552.5V562.3M380.20 551.3V564.6M380.50 553.9V566.9M380.80 553.7V563.8M381.10 552.3V567.5M381.40 553.5V565.2M381.70 554.0V566.5M382.00 552.0V561.9M382.30 552.3V565.0M382.60 554.9V563.5M382.90 554.4V563.9M383.20 554.4V565.0M383.50 553.7V564.6M383.80 554.2V562.7M384.10 552.6V565.5M384.40 552.8V569.2M384.70 549.4V566.4M385.00 542.7V569.0M385.30 551.7V565.2M385.60 552.6V567.9M385.90 548.9V564.2M386.20 551.5V563.5M386.50 552.0V566.8M386.80 552.0V568.2M387.10 550.8V566.2M387.40 554.0V568.9M387.70 554.4V564.8M388.00 549.7V562.9M388.30 551.8V567.5M388.60 549.3V567.0M388.90 551.9V564.1M389.20 551.6V566.1M389.50 552.6V566.6M389.80 550.4V564.5M390.10 550.4V565.4M390.40 549.2V564.8M390.70 553.3V561.8M391.00 548.2V562.2M391.30 551.8V564.5M391.60 553.9V563.7M391.90 551.8V566.1M392.20 549.0V567.1M392.50 545.5V565.9M392.80 549.1V565.3M393.10 544.2V563.4M393.40 549.0V563.7M393.70 548.6V566.3M394.00 551.2V567.4M394.30 549.4V568.3M394.60 550.7V566.6M394.90 548.4V563.9M395.20 552.9V564.0M395.50 551.0V561.3M395.80 550.5V564.1M396.10 549.8V564.3M396.40 553.7V571.5M396.70 553.0V567.6M397.00 550.9V564.7M397.30 553.4V563.8M397.60 548.2V565.1M397.90 553.3V565.1M398.20 549.9V565.7M398.50 551.9V566.0M398.80 553.2V564.4M399.10 553.1V564.5M399.40 553.7V562.5M399.70 553.3V562.3M400.00 545.9V562.4M400.30 547.5V565.3M400.60 551.8V562.8M400.90 549.0V562.3M401.20 548.2V562.5M401.50 552.8V565.0M401.80 552.6V562.0M402.10 551.0V565.3M402.40 552.5V565.4M402.70 551.5V563.7M403.00 550.7V563.6M403.30 552.0V564.2M403.60 553.7V565.6M403.90 552.3V563.7M404.20 551.7V565.6M404.50 554.8V567.5M404.80 553.0V568.1M405.10 554.6V562.9M405.40 555.1V562.0M405.70 554.9V564.7M406.00 553.2V564.1M406.30 548.3V563.7M406.60 551.4V563.9M406.90 552.4V566.0M407.20 549.7V564.6M407.50 546.1V568.7M407.80 550.7V567.0M408.10 553.2V567.0M408.40 550.1V563.0M408.70 550.2V566.1M409.00 549.4V569.2M409.30 546.0V573.3M409.60 549.4V574.4M409.90 551.2V574.8M410.20 553.4V567.3M410.50 551.2V572.0M410.80 551.9V574.6M411.10 550.5V568.3M411.40 553.7V568.2M411.70 551.6V565.8M412.00 553.0V566.0M412.30 552.0V564.9M412.60 552.4V564.9M412.90 554.5V566.0M413.20 544.0V562.6M413.50 552.6V564.2M413.80 552.6V566.4M414.10 553.2V567.3M414.40 550.7V568.9M414.70 552.9V566.2M415.00 552.0V567.6M415.30 550.1V563.9M415.60 551.1V565.7M415.90 548.9V563.2M416.20 552.6V564.2M416.50 549.1V563.6M416.80 551.4V562.7M417.10 551.0V562.3M417.40 550.5V563.3M417.70 552.4V564.8M418.00 551.0V565.8M418.30 551.6V567.7M418.60 553.4V566.8M418.90 550.6V568.4M419.20 551.0V567.5M419.50 554.4V563.5M419.80 554.6V564.6M420.10 554.2V561.3M420.40 552.4V563.2M420.70 551.9V564.9M421.00 553.0V562.0M421.30 554.8V562.0M421.60 550.9V563.7M421.90 553.3V562.2M422.20 553.8V561.9M422.50 553.4V564.3M422.80 547.2V561.3M423.10 551.4V561.2M423.40 552.2V570.0M423.70 552.7V567.9M424.00 549.3V565.3M424.30 551.2V565.1M424.60 547.9V566.6M424.90 552.7V567.8M425.20 552.0V566.7M425.50 549.9V566.7M425.80 551.9V566.0M426.10 552.2V567.0M426.40 553.7V564.1M426.70 551.5V567.0M427.00 552.3V564.2M427.30 549.7V564.0M427.60 547.8V564.5M427.90 551.7V563.4M428.20 548.2V566.1M428.50 552.0V564.2M428.80 551.4V564.4M429.10 555.1V562.3M429.40 552.4V566.2M429.70 551.9V565.3M430.00 554.9V563.2M430.30 554.5V566.3M430.60 555.1V566.0M430.90 554.8V563.3M431.20 554.3V563.4M431.50 553.1V564.1M431.80 554.4V565.1M432.10 554.3V564.2M432.40 550.3V565.5M432.70 551.3V570.0M433.00 554.2V564.4M433.30 551.5V564.8M433.60 550.9V562.1M433.90 554.2V570.7M434.20 550.7V566.8M434.50 547.0V564.1M434.80 551.8V567.9M435.10 546.2V564.8M435.40 551.4V565.1M435.70 549.0V569.8M436.00 549.8V564.6M436.30 551.2V563.6M436.60 551.6V568.5M436.90 546.0V564.1M437.20 553.9V568.8M437.50 550.8V563.1M437.80 548.8V564.1M438.10 551.8V567.0M438.40 552.2V563.6M438.70 553.9V565.9M439.00 550.8V562.7M439.30 553.1V565.4M439.60 551.4V565.8M439.90 552.9V569.0M440.20 551.6V563.7M440.50 552.2V564.5M440.80 554.5V565.9M441.10 551.5V567.4M441.40 552.3V563.7M441.70 554.1V565.6M442.00 546.8V571.4M442.30 547.6V568.6M442.60 547.7V572.4M442.90 550.9V565.2M443.20 547.2V566.3M443.50 548.5V566.2M443.80 546.1V564.6M444.10 551.2V568.4M444.40 546.9V564.6M444.70 551.8V567.1M445.00 549.7V564.1M445.30 551.4V564.9M445.60 550.8V568.7M445.90 549.4V567.8M446.20 552.3V565.1M446.50 547.9V564.8M446.80 548.0V570.3M447.10 547.2V564.5M447.40 544.7V566.2M447.70 545.9V566.8M448.00 548.1V566.0M448.30 548.6V563.5M448.60 545.0V567.9M448.90 546.6V569.6M449.20 549.3V565.5M449.50 550.5V565.6M449.80 548.4V568.9M450.10 544.4V567.3M450.40 551.3V566.0M450.70 551.9V568.6M451.00 548.1V566.4M451.30 550.4V573.8M451.60 551.2V566.4M451.90 549.2V565.7M452.20 547.7V567.0M452.50 545.5V566.5M452.80 551.7V567.2M453.10 544.9V563.4M453.40 546.8V564.6M453.70 547.5V563.9M454.00 548.5V562.4M454.30 555.1V565.6M454.60 550.4V564.1M454.90 547.7V563.9M455.20 550.2V563.4M455.50 552.2V563.1M455.80 551.1V564.3M456.10 543.8V564.8M456.40 552.3V566.2M456.70 550.5V563.2M457.00 547.4V564.3M457.30 549.7V565.2M457.60 554.1V567.7M457.90 550.9V569.5M458.20 549.0V566.0M458.50 552.2V566.8M458.80 548.0V567.0M459.10 548.7V566.6M459.40 553.4V564.0M459.70 548.7V567.3M460.00 547.4V564.8M460.30 548.1V566.1M460.60 553.6V564.7M460.90 553.1V569.0M461.20 548.8V566.2M461.50 549.7V565.6M461.80 550.8V565.7M462.10 551.9V563.4M462.40 548.3V564.1M462.70 549.6V565.6M463.00 545.4V566.5M463.30 548.9V572.5M463.60 546.8V567.3M463.90 550.5V567.3M464.20 552.0V564.4M464.50 553.0V567.3M464.80 554.1V564.3M465.10 553.1V566.6M465.40 554.9V564.6M465.70 553.2V570.5M466.00 554.0V566.4M466.30 553.1V565.4M466.60 548.2V564.0M466.90 552.2V567.1M467.20 552.4V566.0M467.50 549.9V563.9M467.80 551.9V567.4M468.10 549.3V566.9M468.40 553.6V564.5M468.70 554.8V566.7M469.00 552.6V566.6M469.30 553.9V563.2M469.60 554.0V569.2M469.90 549.3V568.4M470.20 552.8V566.6M470.50 548.9V568.2M470.80 549.8V567.8M471.10 549.7V563.3M471.40 553.0V564.7M471.70 548.4V563.6M472.00 554.1V564.3M472.30 553.4V564.7M472.60 547.2V648.4M472.90 549.8V564.2M473.20 547.3V568.8M473.50 547.6V563.9M473.80 549.3V569.4M474.10 551.0V567.8M474.40 552.7V567.5M474.70 551.0V568.6M475.00 552.6V565.6M475.30 550.7V569.0M475.60 550.6V568.0M475.90 549.4V565.0M476.20 549.1V572.3M476.50 548.3V567.1M476.80 545.5V563.2M477.10 545.5V563.0M477.40 546.6V567.7M477.70 549.1V567.2M478.00 551.2V568.3M478.30 550.7V567.2M478.60 550.2V564.7M478.90 547.9V570.4M479.20 546.2V569.1M479.50 553.3V567.4M479.80 552.3V573.3M480.10 551.2V566.3M480.40 550.8V567.0M480.70 552.9V567.2M481.00 554.1V561.8M481.30 552.3V564.0M481.60 549.9V564.1M481.90 551.1V569.6M482.20 550.0V568.9M482.50 551.9V564.8M482.80 550.5V567.2M483.10 546.7V567.5M483.40 553.4V566.8M483.70 553.1V567.7M484.00 549.3V565.5M484.30 545.5V567.3M484.60 545.5V566.0M484.90 548.5V568.3M485.20 547.6V571.0M485.50 549.7V566.7M485.80 553.4V569.3M486.10 553.5V564.6M486.40 551.2V566.7M486.70 553.6V564.1M487.00 553.7V563.2M487.30 552.0V563.2M487.60 550.0V564.7M487.90 549.0V567.0M488.20 548.4V565.0M488.50 552.5V566.1M488.80 551.7V567.8M489.10 553.5V568.2M489.40 551.5V569.1M489.70 552.8V568.4M490.00 549.5V568.5M490.30 551.8V568.1M490.60 552.3V568.7M490.90 550.8V566.5M491.20 547.4V572.0M491.50 550.9V565.3M491.80 548.8V565.4M492.10 552.3V569.2M492.40 549.2V569.6M492.70 548.5V568.2M493.00 548.6V573.5M493.30 549.1V569.6M493.60 546.8V569.1M493.90 550.4V567.2M494.20 551.5V563.0M494.50 550.6V569.0M494.80 553.4V564.8M495.10 550.9V569.4M495.40 548.9V563.2M495.70 546.4V564.6M496.00 550.0V564.5M496.30 549.1V566.9M496.60 550.5V563.9M496.90 551.6V567.9M497.20 549.8V566.4M497.50 552.3V565.8M497.80 551.1V572.8M498.10 553.2V566.5M498.40 553.4V569.3M498.70 549.2V567.3M499.00 551.8V568.8M499.30 552.5V572.7M499.60 554.0V573.0M499.90 554.0V567.7M500.20 552.7V566.5M500.50 553.2V569.1M500.80 550.0V564.2M501.10 551.0V565.5M501.40 554.0V566.8M501.70 552.9V565.0M502.00 549.4V564.7M502.30 551.4V563.8M502.60 551.4V563.7M502.90 550.0V563.3M503.20 551.8V565.6M503.50 551.1V565.7M503.80 550.5V566.2M504.10 545.1V564.5M504.40 551.6V565.9M504.70 541.5V564.8M505.00 552.8V565.9M505.30 549.2V566.6M505.60 550.4V564.5M505.90 550.6V569.8M506.20 549.0V568.6M506.50 551.0V562.5M506.80 549.1V570.4M507.10 549.7V562.8M507.40 553.2V562.5M507.70 547.5V562.4M508.00 551.8V565.6M508.30 551.2V566.8M508.60 549.6V564.4M508.90 549.8V566.4M509.20 549.4V569.1M509.50 547.6V564.8M509.80 550.5V566.3M510.10 550.3V566.1M510.40 551.8V567.7M510.70 550.7V564.2M511.00 549.3V565.3M511.30 551.7V567.4M511.60 549.4V563.7M511.90 548.5V563.9M512.20 550.2V564.1M512.50 551.7V568.7M512.80 547.3V564.0M513.10 552.5V563.4M513.40 551.8V565.8M513.70 551.5V566.3M514.00 551.8V566.6M514.30 554.1V569.7M514.60 545.2V569.1M514.90 548.2V565.3M515.20 546.1V569.9M515.50 551.0V564.8M515.80 552.2V563.9M516.10 549.9V567.5M516.40 554.1V565.3M516.70 552.7V564.2M517.00 553.0V567.5M517.30 552.6V566.3M517.60 553.3V567.4M517.90 545.5V562.9M518.20 551.9V567.3M518.50 544.7V565.0M518.80 550.3V569.0M519.10 551.1V564.1M519.40 551.3V563.2M519.70 551.7V562.1M520.00 549.5V566.0M520.30 551.5V566.9M520.60 546.7V566.8M520.90 550.2V566.6M521.20 551.9V571.1M521.50 550.3V566.4M521.80 552.6V567.0M522.10 549.9V565.3M522.40 550.2V565.0M522.70 548.3V566.3M523.00 551.4V566.1M523.30 545.6V567.9M523.60 550.3V565.8M523.90 546.2V568.9M524.20 551.3V563.9M524.50 546.6V562.3M524.80 551.1V564.7M525.10 551.0V569.6M525.40 552.6V567.1M525.70 551.3V568.1M526.00 549.1V569.0M526.30 549.7V565.7M526.60 548.7V565.1M526.90 544.7V566.3M527.20 545.6V622.0M527.50 548.7V565.8M527.80 546.8V564.7M528.10 542.8V570.2M528.40 551.0V568.6M528.70 551.0V572.0M529.00 549.4V570.5M529.30 548.5V569.7M529.60 547.8V569.1M529.90 550.0V572.8M530.20 546.9V573.8M530.50 547.5V567.6M530.80 549.5V568.8M531.10 550.4V566.5M531.40 549.8V568.5M531.70 542.8V562.8M532.00 551.3V563.5M532.30 550.2V563.0M532.60 549.1V569.0M532.90 542.4V567.6M533.20 552.7V567.2M533.50 552.8V568.0M533.80 549.7V566.8M534.10 552.1V564.6M534.40 550.1V566.5M534.70 548.7V562.7M535.00 547.0V568.0M535.30 552.0V566.2M535.60 551.0V565.9M535.90 551.1V566.9M536.20 545.6V569.6M536.50 548.1V563.2M536.80 552.8V563.1M537.10 552.7V565.3M537.40 550.9V566.2M537.70 552.5V566.1M538.00 551.5V565.2M538.30 553.2V567.8M538.60 554.5V571.3M538.90 547.8V568.7M539.20 547.8V570.8M539.50 551.8V566.9M539.80 552.6V566.0M540.10 551.5V563.6M540.40 552.0V568.4M540.70 547.7V563.7M541.00 552.4V564.2M541.30 549.3V565.3M541.60 550.9V566.0M541.90 552.1V564.9M542.20 551.6V564.2M542.50 551.9V572.8M542.80 553.3V570.5M543.10 549.1V564.2M543.40 552.8V565.0M543.70 550.4V563.9M544.00 553.7V564.9M544.30 550.6V564.7M544.60 551.5V565.7M544.90 549.7V568.4M545.20 546.0V568.6M545.50 551.9V565.0M545.80 550.6V563.6M546.10 549.8V563.9M546.40 550.7V568.1M546.70 551.7V565.2M547.00 546.9V568.2M547.30 551.3V568.6M547.60 548.1V565.9M547.90 548.1V565.7M548.20 550.5V564.5M548.50 551.1V567.0M548.80 549.7V563.8M549.10 550.3V565.0M549.40 549.7V567.3M549.70 549.4V567.7M550.00 544.8V563.5M550.30 543.8V565.2M550.60 547.9V568.0M550.90 550.7V565.1M551.20 551.1V569.3M551.50 550.7V567.6M551.80 554.6V566.6M552.10 550.6V570.1M552.40 552.3V565.7M552.70 551.0V564.1M553.00 552.7V567.2M553.30 550.0V568.7M553.60 550.3V573.7M553.90 551.0V577.2M554.20 550.4V570.1M554.50 547.4V568.2M554.80 549.6V574.8M555.10 546.9V569.5M555.40 548.3V568.8M555.70 551.0V564.6M556.00 548.9V563.9M556.30 544.0V563.4M556.60 551.4V566.0M556.90 551.8V565.3M557.20 551.1V568.2M557.50 550.3V564.5M557.80 552.7V564.5M558.10 549.7V564.8M558.40 544.7V565.7M558.70 547.2V564.0M559.00 551.2V563.9M559.30 546.0V571.4M559.60 550.0V565.8M559.90 545.5V567.7M560.20 552.7V567.3M560.50 552.1V568.3M560.80 549.3V570.2M561.10 552.2V564.0M561.40 554.8V562.0M561.70 553.0V564.1M562.00 548.1V566.4M562.30 553.5V562.9M562.60 551.9V566.1M562.90 552.1V563.7M563.20 551.9V563.4M563.50 545.4V563.0M563.80 550.8V567.3M564.10 549.4V564.9M564.40 548.2V563.8M564.70 545.2V563.7M565.00 547.7V563.5M565.30 544.9V564.7M565.60 544.9V566.1M565.90 551.0V565.3M566.20 553.4V564.8M566.50 553.0V564.3M566.80 551.6V563.2M567.10 552.0V564.4M567.40 553.4V566.2M567.70 554.4V565.2M568.00 552.9V565.8M568.30 547.8V564.1M568.60 549.5V568.7M568.90 549.0V564.5M569.20 553.3V567.1M569.50 552.4V566.4M569.80 550.6V565.6M570.10 553.4V568.6M570.40 551.7V565.0M570.70 553.9V571.2M571.00 550.8V564.6M571.30 551.2V566.2M571.60 549.9V564.2M571.90 551.0V565.5M572.20 550.2V568.1M572.50 550.9V568.7M572.80 551.3V566.2M573.10 549.4V564.7M573.40 550.0V566.6M573.70 551.2V568.1M574.00 550.0V569.6M574.30 547.7V567.4M574.60 542.5V565.9M574.90 548.5V568.0M575.20 547.3V568.3M575.50 550.2V564.3M575.80 552.0V565.0M576.10 548.3V567.8M576.40 550.8V565.6M576.70 547.8V568.1M577.00 549.1V567.3M577.30 548.2V564.1M577.60 549.8V564.0M577.90 552.0V565.5M578.20 549.5V567.3M578.50 551.7V563.6M578.80 550.1V567.2M579.10 550.6V571.3M579.40 544.8V566.6M579.70 550.1V568.6M580.00 550.2V564.6M580.30 551.2V565.1M580.60 548.2V569.8M580.90 551.9V568.0M581.20 552.3V564.5M581.50 548.9V565.5M581.80 543.6V563.0M582.10 541.4V561.5M582.40 548.3V563.8M582.70 553.2V562.6M583.00 552.3V566.7M583.30 550.4V567.4M583.60 554.9V570.2M583.90 547.9V568.1M584.20 553.8V565.0M584.50 552.4V564.6M584.80 552.6V568.3M585.10 549.5V564.7M585.40 549.5V564.3M585.70 548.7V565.5M586.00 550.2V566.6M586.30 550.5V564.2M586.60 542.7V567.0M586.90 549.0V564.7M587.20 545.4V569.3M587.50 545.1V569.4M587.80 553.5V564.7M588.10 548.9V568.9M588.40 545.9V567.7M588.70 545.3V566.4M589.00 547.3V565.6M589.30 552.3V569.1M589.60 551.2V566.8M589.90 551.2V567.6M590.20 553.0V566.7M590.50 553.3V565.8M590.80 551.4V566.2M591.10 552.8V565.8M591.40 554.7V564.6M591.70 555.1V565.4M592.00 554.0V564.8M592.30 553.8V564.2M592.60 551.2V566.2M592.90 548.3V563.4M593.20 551.3V564.7M593.50 548.7V566.2M593.80 545.7V566.8M594.10 550.6V566.3M594.40 551.9V568.5M594.70 550.7V564.8M595.00 550.7V566.9M595.30 547.7V566.3M595.60 548.0V563.9M595.90 545.4V568.8M596.20 552.3V569.6M596.50 552.6V566.0M596.80 551.0V566.1M597.10 552.1V576.1M597.40 550.0V564.6M597.70 551.5V564.4M598.00 551.2V567.8M598.30 550.7V567.8M598.60 553.0V564.1M598.90 554.8V562.8M599.20 553.0V563.4M599.50 551.8V563.9M599.80 552.4V564.4M600.10 552.6V565.5M600.40 549.4V565.1M600.70 552.0V566.4M601.00 551.9V566.3M601.30 552.5V569.1M601.60 548.4V566.3M601.90 548.7V572.7M602.20 551.7V564.4M602.50 549.2V568.5M602.80 549.6V568.6M603.10 551.5V564.6M603.40 549.2V566.4M603.70 551.0V564.1M604.00 550.3V565.4M604.30 551.6V563.9M604.60 549.0V566.8M604.90 550.9V567.3M605.20 552.7V563.8M605.50 552.7V565.5M605.80 550.8V565.3M606.10 550.5V567.5M606.40 551.1V562.5M606.70 551.5V564.5M607.00 551.6V568.0M607.30 550.9V570.2M607.60 552.6V569.0M607.90 552.1V567.0M608.20 553.7V568.6M608.50 553.1V566.8M608.80 552.8V565.2M609.10 551.7V564.6M609.40 553.6V565.0M609.70 551.4V564.0M610.00 552.0V565.3M610.30 549.6V568.9M610.60 550.3V567.6M610.90 548.7V567.4M611.20 551.0V568.4M611.50 552.8V569.8M611.80 550.1V563.9M612.10 550.3V566.8M612.40 551.9V567.0M612.70 548.2V566.3M613.00 551.0V565.7M613.30 547.0V561.8M613.60 551.8V567.8M613.90 549.2V566.8M614.20 548.7V572.4M614.50 552.7V565.2M614.80 549.1V570.7M615.10 551.5V566.5M615.40 551.2V565.7M615.70 553.2V565.7M616.00 552.8V567.4M616.30 553.4V567.9M616.60 552.4V567.0M616.90 551.5V567.5M617.20 552.7V565.5M617.50 552.9V564.3M617.80 549.4V565.6M618.10 551.4V565.3M618.40 549.9V564.8M618.70 550.4V564.7M619.00 551.8V563.0M619.30 547.9V565.8M619.60 549.7V565.3M619.90 550.2V565.2M620.20 553.5V561.7M620.50 550.5V564.8M620.80 547.7V563.7M621.10 553.5V563.6M621.40 549.8V563.5M621.70 551.0V564.4M622.00 552.6V565.2M622.30 553.5V563.3" fill="none" stroke="#0000ff" stroke-width="0.33"/>
<text transform="translate(170.35 515.10) scale(0.922 1)" text-anchor="end" font-size="16.5">0.5</text>
<text transform="translate(170.35 565.10) scale(0.922 1)" text-anchor="end" font-size="16.5">0</text>
<text transform="translate(170.35 615.10) scale(0.922 1)" text-anchor="end" font-size="16.5">-0.5</text>
<text transform="translate(170.35 665.10) scale(0.922 1)" text-anchor="end" font-size="16.5">-1</text>
<text transform="translate(174.55 679.20) scale(0.922 1)" text-anchor="middle" font-size="16.5">00:00</text>
<text transform="translate(286.53 679.20) scale(0.922 1)" text-anchor="middle" font-size="16.5">06:00</text>
<text transform="translate(398.50 679.20) scale(0.922 1)" text-anchor="middle" font-size="16.5">12:00</text>
<text transform="translate(510.48 679.20) scale(0.922 1)" text-anchor="middle" font-size="16.5">18:00</text>
<text transform="translate(622.45 679.20) scale(0.922 1)" text-anchor="middle" font-size="16.5">00:00</text>
<text transform="translate(136.00 584.10) rotate(-90) scale(0.943 1)" text-anchor="middle" font-size="16.4" font-weight="bold">Z (nT)</text>
<text transform="translate(398.00 697.80) scale(0.943 1)" text-anchor="middle" font-size="16.4" font-weight="bold">UT (hours)</text>
<rect x="764.5" y="56.6" width="448.5" height="146.5" fill="#00008f"/>
<g clip-path="url(#clip0)">
<rect x="1137.42" y="146.00" width="2.56" height="58.10" fill="url(#g1)" filter="url(#b)"/>
<rect x="1143.48" y="133.00" width="2.24" height="71.10" fill="url(#g2)" filter="url(#b)"/>
<rect x="931.02" y="151.00" width="1.76" height="53.10" fill="url(#g3)" filter="url(#b)"/>
<rect x="933.92" y="144.00" width="1.76" height="50.00" fill="url(#g4)" filter="url(#b)"/>
<rect x="940.76" y="156.00" width="1.28" height="36.00" fill="url(#g5)" filter="url(#b)"/>
<rect x="892.70" y="170.00" width="1.60" height="34.10" fill="url(#g6)" filter="url(#b)"/>
<rect x="876.80" y="169.00" width="1.60" height="35.10" fill="url(#g7)" filter="url(#b)"/>
<rect x="884.86" y="162.00" width="1.28" height="32.00" fill="url(#g8)" filter="url(#b)"/>
<rect x="862.88" y="173.00" width="1.44" height="31.10" fill="url(#g9)" filter="url(#b)"/>
<rect x="870.56" y="183.00" width="1.28" height="21.10" fill="url(#g10)" filter="url(#b)"/>
<rect x="910.90" y="182.00" width="1.20" height="22.10" fill="url(#g11)" filter="url(#b)"/>
<rect x="783.36" y="70.00" width="1.28" height="50.00" fill="url(#g12)" filter="url(#b)"/>
<rect x="826.40" y="80.00" width="1.20" height="20.00" fill="url(#g13)" filter="url(#b)"/>
</g>
<text transform="translate(761.00 207.79) scale(0.922 1)" text-anchor="end" font-size="16.5">7</text>
<text transform="translate(761.00 191.23) scale(0.922 1)" text-anchor="end" font-size="16.5">8</text>
<text transform="translate(761.00 176.62) scale(0.922 1)" text-anchor="end" font-size="16.5">9</text>
<text transform="translate(761.00 163.56) scale(0.922 1)" text-anchor="end" font-size="16.5">10</text>
<text transform="translate(761.00 140.95) scale(0.922 1)" text-anchor="end" font-size="16.5">12</text>
<text transform="translate(761.00 121.84) scale(0.922 1)" text-anchor="end" font-size="16.5">14</text>
<text transform="translate(761.00 105.28) scale(0.922 1)" text-anchor="end" font-size="16.5">16</text>
<text transform="translate(761.00 90.67) scale(0.922 1)" text-anchor="end" font-size="16.5">18</text>
<text transform="translate(761.00 77.61) scale(0.922 1)" text-anchor="end" font-size="16.5">20</text>
<text transform="translate(761.00 65.79) scale(0.922 1)" text-anchor="end" font-size="16.5">22</text>
<path d="M876.62 203.10v-4.3M876.62 56.60v4.3M988.75 203.10v-4.3M988.75 56.60v4.3M1100.88 203.10v-4.3M1100.88 56.60v4.3M764.5 200.89h4.3M1213.0 200.89h-4.3M764.5 184.33h4.3M1213.0 184.33h-4.3M764.5 169.72h4.3M1213.0 169.72h-4.3M764.5 156.66h4.3M1213.0 156.66h-4.3M764.5 134.05h4.3M1213.0 134.05h-4.3M764.5 114.94h4.3M1213.0 114.94h-4.3M764.5 98.38h4.3M1213.0 98.38h-4.3M764.5 83.77h4.3M1213.0 83.77h-4.3M764.5 70.71h4.3M1213.0 70.71h-4.3M764.5 58.89h4.3M1213.0 58.89h-4.3" fill="none" stroke="#000" stroke-width="0.38" stroke-opacity="0.8"/>
<text transform="translate(764.50 223.90) scale(0.922 1)" text-anchor="middle" font-size="16.5">00:00</text>
<text transform="translate(876.62 223.90) scale(0.922 1)" text-anchor="middle" font-size="16.5">06:00</text>
<text transform="translate(988.75 223.90) scale(0.922 1)" text-anchor="middle" font-size="16.5">12:00</text>
<text transform="translate(1100.88 223.90) scale(0.922 1)" text-anchor="middle" font-size="16.5">18:00</text>
<text transform="translate(1213.00 223.90) scale(0.922 1)" text-anchor="middle" font-size="16.5">00:00</text>
<text transform="translate(735.50 130.35) rotate(-90) scale(0.943 1)" text-anchor="middle" font-size="16.4" font-weight="bold">freq (mHz)</text>
<text transform="translate(988.75 44.00) scale(0.943 1)" text-anchor="middle" font-size="16.4" font-weight="bold">Pc4 Wavelet Power</text>
<rect x="1230.7" y="57.00" width="23.70" height="146.80" fill="url(#jet)"/>
<text transform="translate(1257.70 64.20) scale(0.922 1)" text-anchor="start" font-size="16.5">4</text>
<text transform="translate(1257.70 113.13) scale(0.922 1)" text-anchor="start" font-size="16.5">2</text>
<text transform="translate(1257.70 162.07) scale(0.922 1)" text-anchor="start" font-size="16.5">0</text>
<text transform="translate(1257.70 211.00) scale(0.922 1)" text-anchor="start" font-size="16.5">-2</text>
<path d="M1230.7 105.93h2.2M1254.4 105.93h-2.2M1230.7 154.87h2.2M1254.4 154.87h-2.2" fill="none" stroke="#000" stroke-width="0.38" stroke-opacity="0.7"/>
<text transform="translate(1289.70 131.05) rotate(-90) scale(0.943 1)" text-anchor="middle" font-size="16.4" font-weight="bold">log<tspan font-size="12.3" dy="8.3" dx="0.3">2</tspan><tspan dy="-8.3" dx="0.5">(nT</tspan><tspan font-size="12.3" dy="-7.8" dx="0.2">2</tspan><tspan dy="7.8" dx="0.4">/Hz)</tspan></text>
<rect x="764.5" y="282.0" width="448.5" height="146.5" fill="#00008f"/>
<g clip-path="url(#clip1)">
<rect x="836.50" y="315.00" width="1.60" height="85.00" fill="url(#g14)" filter="url(#b)"/>
<rect x="836.00" y="399.00" width="1.60" height="30.50" fill="url(#g15)" filter="url(#b)"/>
<rect x="824.48" y="284.00" width="1.44" height="36.00" fill="url(#g16)" filter="url(#b)"/>
<rect x="826.58" y="319.00" width="1.44" height="37.00" fill="url(#g17)" filter="url(#b)"/>
<rect x="828.00" y="370.00" width="1.20" height="35.00" fill="url(#g18)" filter="url(#b)"/>
<rect x="840.20" y="310.00" width="1.20" height="23.00" fill="url(#g19)" filter="url(#b)"/>
<rect x="870.40" y="324.00" width="1.20" height="19.00" fill="url(#g20)" filter="url(#b)"/>
<rect x="870.20" y="405.00" width="1.60" height="24.50" fill="url(#g21)" filter="url(#b)"/>
<rect x="876.08" y="401.00" width="1.44" height="28.50" fill="url(#g22)" filter="url(#b)"/>
<rect x="879.62" y="366.00" width="1.76" height="63.50" fill="url(#g23)" filter="url(#b)"/>
<rect x="887.98" y="399.00" width="1.44" height="30.50" fill="url(#g24)" filter="url(#b)"/>
<rect x="894.46" y="376.00" width="1.68" height="53.50" fill="url(#g25)" filter="url(#b)"/>
<rect x="902.78" y="370.00" width="1.44" height="38.00" fill="url(#g26)" filter="url(#b)"/>
<rect x="906.88" y="376.00" width="1.44" height="40.00" fill="url(#g27)" filter="url(#b)"/>
<rect x="910.98" y="401.00" width="1.44" height="28.50" fill="url(#g28)" filter="url(#b)"/>
<rect x="917.18" y="401.00" width="1.44" height="28.50" fill="url(#g29)" filter="url(#b)"/>
<rect x="1143.90" y="411.00" width="1.60" height="18.50" fill="url(#g30)" filter="url(#b)"/>
<rect x="783.36" y="308.00" width="1.28" height="37.00" fill="url(#g31)" filter="url(#b)"/>
</g>
<text transform="translate(761.00 433.19) scale(0.922 1)" text-anchor="end" font-size="16.5">7</text>
<text transform="translate(761.00 416.63) scale(0.922 1)" text-anchor="end" font-size="16.5">8</text>
<text transform="translate(761.00 402.02) scale(0.922 1)" text-anchor="end" font-size="16.5">9</text>
<text transform="translate(761.00 388.96) scale(0.922 1)" text-anchor="end" font-size="16.5">10</text>
<text transform="translate(761.00 366.35) scale(0.922 1)" text-anchor="end" font-size="16.5">12</text>
<text transform="translate(761.00 347.24) scale(0.922 1)" text-anchor="end" font-size="16.5">14</text>
<text transform="translate(761.00 330.68) scale(0.922 1)" text-anchor="end" font-size="16.5">16</text>
<text transform="translate(761.00 316.07) scale(0.922 1)" text-anchor="end" font-size="16.5">18</text>
<text transform="translate(761.00 303.01) scale(0.922 1)" text-anchor="end" font-size="16.5">20</text>
<text transform="translate(761.00 291.19) scale(0.922 1)" text-anchor="end" font-size="16.5">22</text>
<path d="M876.62 428.50v-4.3M876.62 282.00v4.3M988.75 428.50v-4.3M988.75 282.00v4.3M1100.88 428.50v-4.3M1100.88 282.00v4.3M764.5 426.29h4.3M1213.0 426.29h-4.3M764.5 409.73h4.3M1213.0 409.73h-4.3M764.5 395.12h4.3M1213.0 395.12h-4.3M764.5 382.06h4.3M1213.0 382.06h-4.3M764.5 359.45h4.3M1213.0 359.45h-4.3M764.5 340.34h4.3M1213.0 340.34h-4.3M764.5 323.78h4.3M1213.0 323.78h-4.3M764.5 309.17h4.3M1213.0 309.17h-4.3M764.5 296.11h4.3M1213.0 296.11h-4.3M764.5 284.29h4.3M1213.0 284.29h-4.3" fill="none" stroke="#000" stroke-width="0.38" stroke-opacity="0.8"/>
<text transform="translate(764.50 449.30) scale(0.922 1)" text-anchor="middle" font-size="16.5">00:00</text>
<text transform="translate(876.62 449.30) scale(0.922 1)" text-anchor="middle" font-size="16.5">06:00</text>
<text transform="translate(988.75 449.30) scale(0.922 1)" text-anchor="middle" font-size="16.5">12:00</text>
<text transform="translate(1100.88 449.30) scale(0.922 1)" text-anchor="middle" font-size="16.5">18:00</text>
<text transform="translate(1213.00 449.30) scale(0.922 1)" text-anchor="middle" font-size="16.5">00:00</text>
<text transform="translate(735.50 355.75) rotate(-90) scale(0.943 1)" text-anchor="middle" font-size="16.4" font-weight="bold">freq (mHz)</text>
<rect x="1230.7" y="282.40" width="23.70" height="146.80" fill="url(#jet)"/>
<text transform="translate(1257.70 289.60) scale(0.922 1)" text-anchor="start" font-size="16.5">4</text>
<text transform="translate(1257.70 338.53) scale(0.922 1)" text-anchor="start" font-size="16.5">2</text>
<text transform="translate(1257.70 387.47) scale(0.922 1)" text-anchor="start" font-size="16.5">0</text>
<text transform="translate(1257.70 436.40) scale(0.922 1)" text-anchor="start" font-size="16.5">-2</text>
<path d="M1230.7 331.33h2.2M1254.4 331.33h-2.2M1230.7 380.27h2.2M1254.4 380.27h-2.2" fill="none" stroke="#000" stroke-width="0.38" stroke-opacity="0.7"/>
<text transform="translate(1289.70 356.45) rotate(-90) scale(0.943 1)" text-anchor="middle" font-size="16.4" font-weight="bold">log<tspan font-size="12.3" dy="8.3" dx="0.3">2</tspan><tspan dy="-8.3" dx="0.5">(nT</tspan><tspan font-size="12.3" dy="-7.8" dx="0.2">2</tspan><tspan dy="7.8" dx="0.4">/Hz)</tspan></text>
<rect x="764.5" y="508.2" width="448.5" height="146.5" fill="#00008f"/>
<g clip-path="url(#clip2)">
<rect x="846.88" y="508.20" width="1.44" height="95.80" fill="url(#g32)" filter="url(#b)"/>
<rect x="1055.70" y="508.20" width="1.60" height="122.80" fill="url(#g33)" filter="url(#b)"/>
</g>
<text transform="translate(761.00 659.39) scale(0.922 1)" text-anchor="end" font-size="16.5">7</text>
<text transform="translate(761.00 642.83) scale(0.922 1)" text-anchor="end" font-size="16.5">8</text>
<text transform="translate(761.00 628.22) scale(0.922 1)" text-anchor="end" font-size="16.5">9</text>
<text transform="translate(761.00 615.16) scale(0.922 1)" text-anchor="end" font-size="16.5">10</text>
<text transform="translate(761.00 592.55) scale(0.922 1)" text-anchor="end" font-size="16.5">12</text>
<text transform="translate(761.00 573.44) scale(0.922 1)" text-anchor="end" font-size="16.5">14</text>
<text transform="translate(761.00 556.88) scale(0.922 1)" text-anchor="end" font-size="16.5">16</text>
<text transform="translate(761.00 542.27) scale(0.922 1)" text-anchor="end" font-size="16.5">18</text>
<text transform="translate(761.00 529.21) scale(0.922 1)" text-anchor="end" font-size="16.5">20</text>
<text transform="translate(761.00 517.39) scale(0.922 1)" text-anchor="end" font-size="16.5">22</text>
<path d="M876.62 654.70v-4.3M876.62 508.20v4.3M988.75 654.70v-4.3M988.75 508.20v4.3M1100.88 654.70v-4.3M1100.88 508.20v4.3M764.5 652.49h4.3M1213.0 652.49h-4.3M764.5 635.93h4.3M1213.0 635.93h-4.3M764.5 621.32h4.3M1213.0 621.32h-4.3M764.5 608.26h4.3M1213.0 608.26h-4.3M764.5 585.65h4.3M1213.0 585.65h-4.3M764.5 566.54h4.3M1213.0 566.54h-4.3M764.5 549.98h4.3M1213.0 549.98h-4.3M764.5 535.37h4.3M1213.0 535.37h-4.3M764.5 522.31h4.3M1213.0 522.31h-4.3M764.5 510.49h4.3M1213.0 510.49h-4.3" fill="none" stroke="#000" stroke-width="0.38" stroke-opacity="0.8"/>
<text transform="translate(764.50 675.50) scale(0.922 1)" text-anchor="middle" font-size="16.5">00:00</text>
<text transform="translate(876.62 675.50) scale(0.922 1)" text-anchor="middle" font-size="16.5">06:00</text>
<text transform="translate(988.75 675.50) scale(0.922 1)" text-anchor="middle" font-size="16.5">12:00</text>
<text transform="translate(1100.88 675.50) scale(0.922 1)" text-anchor="middle" font-size="16.5">18:00</text>
<text transform="translate(1213.00 675.50) scale(0.922 1)" text-anchor="middle" font-size="16.5">00:00</text>
<text transform="translate(735.50 581.95) rotate(-90) scale(0.943 1)" text-anchor="middle" font-size="16.4" font-weight="bold">freq (mHz)</text>
<text transform="translate(987.95 693.90) scale(0.943 1)" text-anchor="middle" font-size="16.4" font-weight="bold">UT (hours)</text>
<rect x="1230.7" y="508.60" width="23.70" height="146.80" fill="url(#jet)"/>
<text transform="translate(1257.70 515.80) scale(0.922 1)" text-anchor="start" font-size="16.5">4</text>
<text transform="translate(1257.70 564.73) scale(0.922 1)" text-anchor="start" font-size="16.5">2</text>
<text transform="translate(1257.70 613.67) scale(0.922 1)" text-anchor="start" font-size="16.5">0</text>
<text transform="translate(1257.70 662.60) scale(0.922 1)" text-anchor="start" font-size="16.5">-2</text>
<path d="M1230.7 557.53h2.2M1254.4 557.53h-2.2M1230.7 606.47h2.2M1254.4 606.47h-2.2" fill="none" stroke="#000" stroke-width="0.38" stroke-opacity="0.7"/>
<text transform="translate(1289.70 582.65) rotate(-90) scale(0.943 1)" text-anchor="middle" font-size="16.4" font-weight="bold">log<tspan font-size="12.3" dy="8.3" dx="0.3">2</tspan><tspan dy="-8.3" dx="0.5">(nT</tspan><tspan font-size="12.3" dy="-7.8" dx="0.2">2</tspan><tspan dy="7.8" dx="0.4">/Hz)</tspan></text>
</svg>
</body></html>
